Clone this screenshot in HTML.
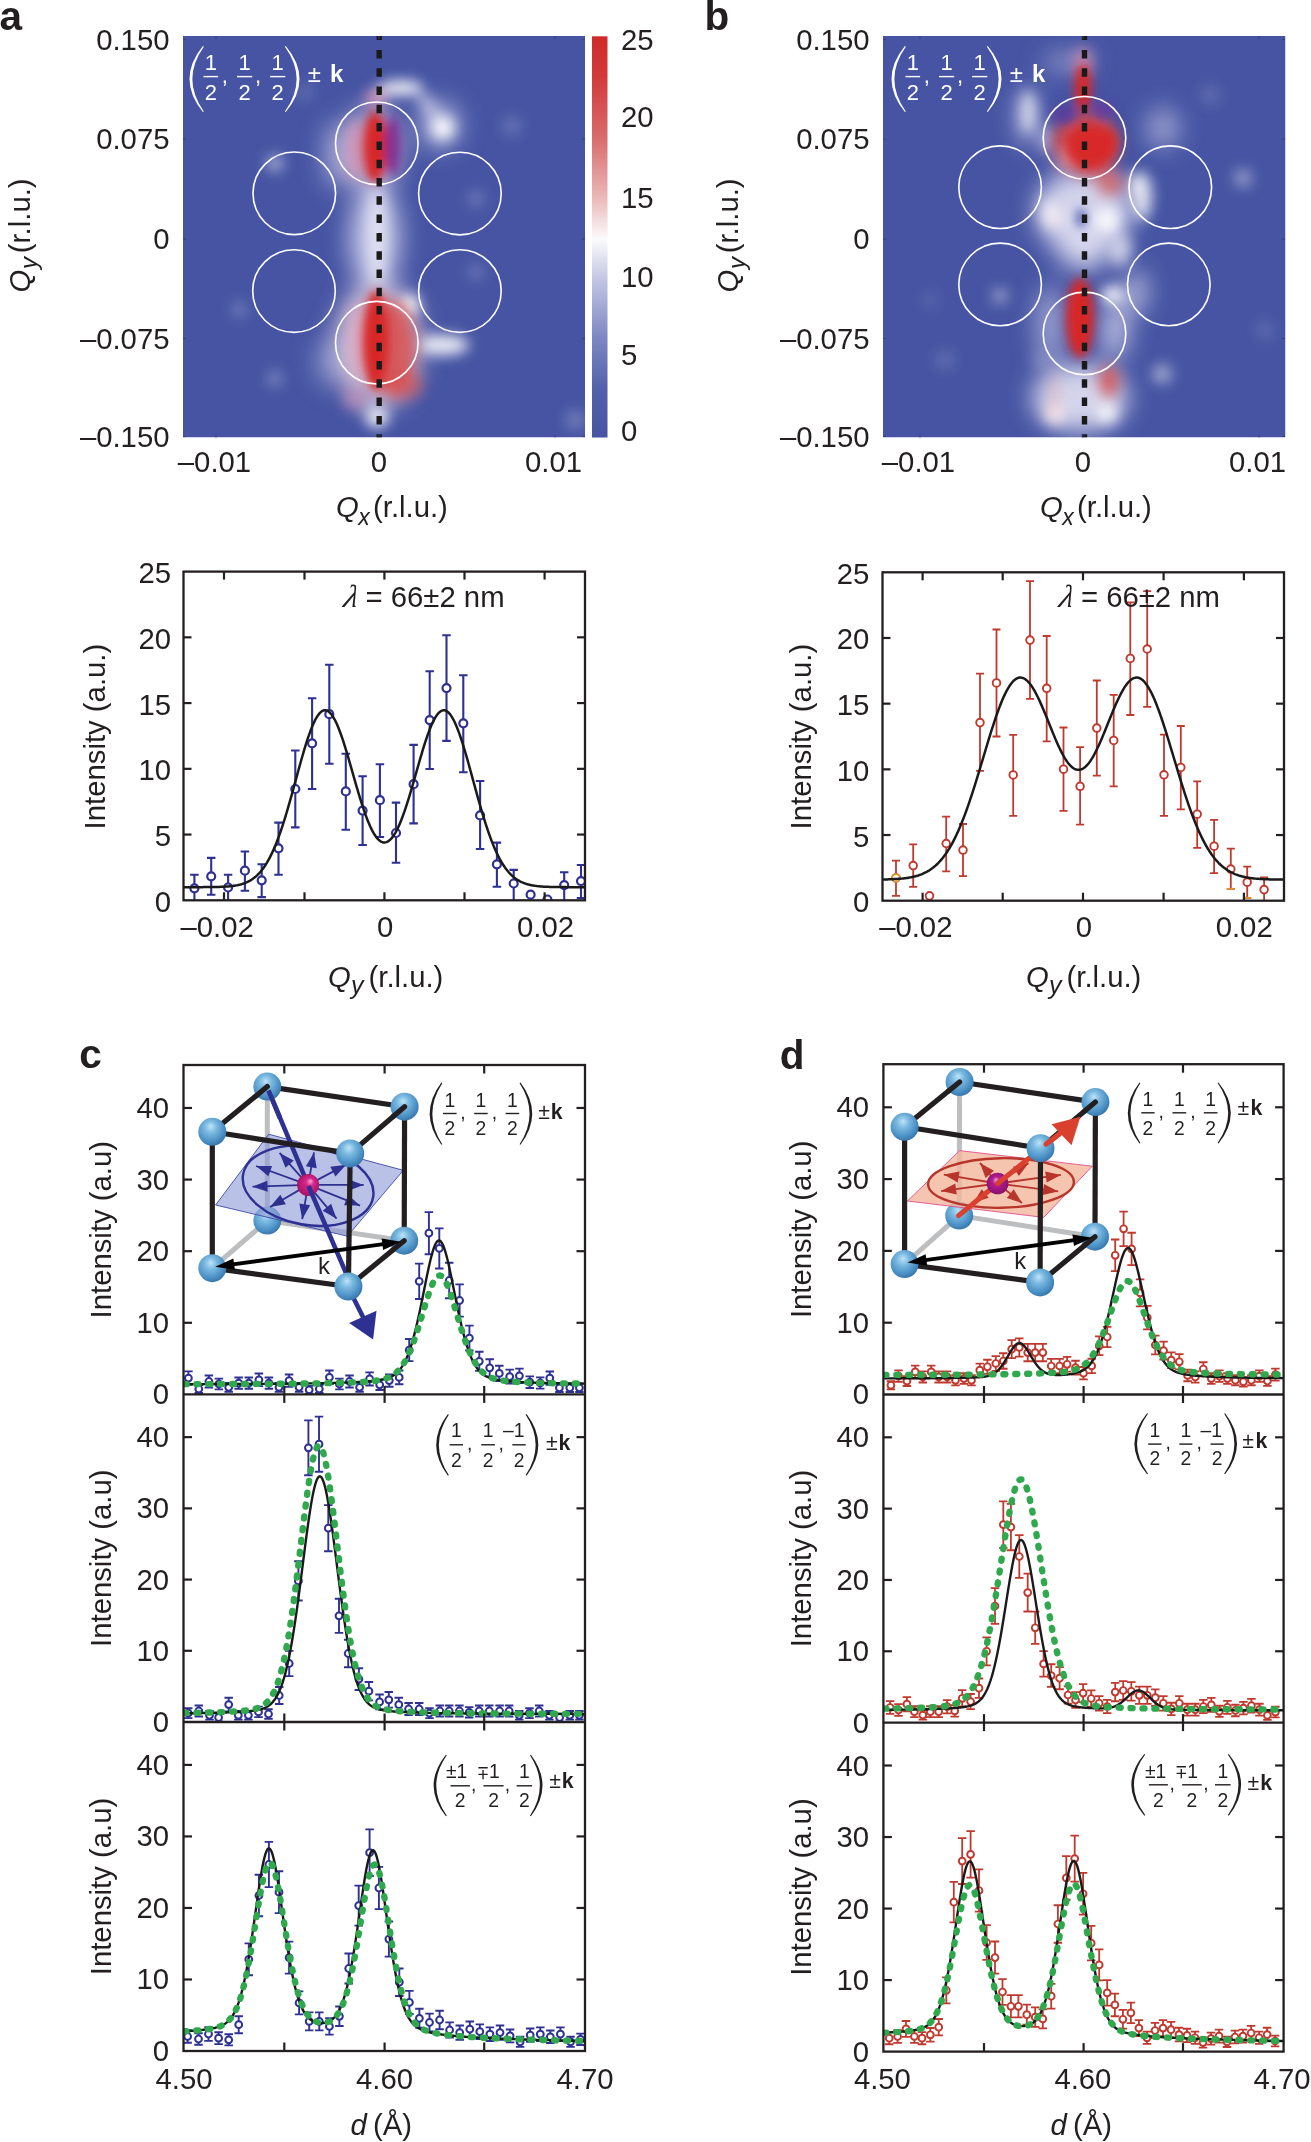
<!DOCTYPE html><html><head><meta charset="utf-8"><title>figure</title><style>html,body{margin:0;padding:0;background:#fff;}svg{display:block;will-change:transform;}</style></head><body>
<svg width="1311" height="2142" viewBox="0 0 1311 2142" font-family='"Liberation Sans", sans-serif'>
<defs>
<clipPath id="clipA"><rect x="183" y="36" width="402" height="401.5"/></clipPath>
<clipPath id="clipB"><rect x="883" y="36" width="402.5" height="401.5"/></clipPath>
<filter id="b5" x="-50%" y="-50%" width="200%" height="200%"><feGaussianBlur stdDeviation="5"/></filter>
<filter id="b6" x="-50%" y="-50%" width="200%" height="200%"><feGaussianBlur stdDeviation="6"/></filter>
<filter id="b8" x="-50%" y="-50%" width="200%" height="200%"><feGaussianBlur stdDeviation="8"/></filter>
<filter id="b9" x="-50%" y="-50%" width="200%" height="200%"><feGaussianBlur stdDeviation="9"/></filter>
<filter id="b3" x="-50%" y="-50%" width="200%" height="200%"><feGaussianBlur stdDeviation="3"/></filter>
<filter id="b4" x="-50%" y="-50%" width="200%" height="200%"><feGaussianBlur stdDeviation="4"/></filter>
<filter id="b7" x="-50%" y="-50%" width="200%" height="200%"><feGaussianBlur stdDeviation="7"/></filter>
<filter id="b12" x="-50%" y="-50%" width="200%" height="200%"><feGaussianBlur stdDeviation="12"/></filter>
<linearGradient id="cbar" x1="0" y1="0" x2="0" y2="1">
<stop offset="0" stop-color="#cf2a2a"/>
<stop offset="0.1" stop-color="#d23a3a"/>
<stop offset="0.25" stop-color="#d86a6a"/>
<stop offset="0.4" stop-color="#ebb6b6"/>
<stop offset="0.505" stop-color="#fbfbfd"/>
<stop offset="0.6" stop-color="#c6c9e4"/>
<stop offset="0.75" stop-color="#7e87c3"/>
<stop offset="0.88" stop-color="#5361ab"/>
<stop offset="1" stop-color="#4654a3"/>
</linearGradient>
<radialGradient id="sph" cx="0.42" cy="0.38" r="0.62" fx="0.45" fy="0.3">
<stop offset="0" stop-color="#bfe3f7"/>
<stop offset="0.35" stop-color="#7ab9e0"/>
<stop offset="0.8" stop-color="#4a8fc4"/>
<stop offset="1" stop-color="#3a78ad"/>
</radialGradient>
<radialGradient id="mag2" cx="0.5" cy="0.5" r="0.6" fx="0.42" fy="0.32">
<stop offset="0" stop-color="#e8a0d8"/>
<stop offset="0.3" stop-color="#b81c92"/>
<stop offset="1" stop-color="#7e0e6a"/>
</radialGradient>
<radialGradient id="mag" cx="0.5" cy="0.5" r="0.6" fx="0.62" fy="0.32">
<stop offset="0" stop-color="#f4a6cf"/>
<stop offset="0.3" stop-color="#d9268a"/>
<stop offset="1" stop-color="#9a0f5c"/>
</radialGradient>
</defs>
<rect width="1311" height="2142" fill="#fff"/>
<text x="-0.4" y="30.3" font-size="40.5" fill="#231f20" font-weight="bold">a</text>
<text x="704.6" y="30.2" font-size="40.5" fill="#231f20" font-weight="bold">b</text>
<text x="79.3" y="1068" font-size="40.5" fill="#231f20" font-weight="bold">c</text>
<text x="779.8" y="1068.6" font-size="40.5" fill="#231f20" font-weight="bold">d</text>
<g clip-path="url(#clipA)">
<rect x="183" y="36" width="402" height="401.5" fill="#4654a3"/>
<g filter="url(#b7)">
<ellipse cx="274.8" cy="163.3" rx="8" ry="8" fill="#ffffff" opacity="0.6"/>
<ellipse cx="239.2" cy="309.4" rx="8" ry="8" fill="#ffffff" opacity="0.25"/>
<ellipse cx="274.8" cy="378.7" rx="8" ry="8" fill="#ffffff" opacity="0.3"/>
<ellipse cx="304.7" cy="92.2" rx="9" ry="9" fill="#ffffff" opacity="0.15"/>
<ellipse cx="511.8" cy="125.9" rx="10" ry="10" fill="#ffffff" opacity="0.18"/>
<ellipse cx="476" cy="199" rx="8" ry="8" fill="#ffffff" opacity="0.25"/>
<ellipse cx="476" cy="272" rx="8" ry="8" fill="#ffffff" opacity="0.22"/>
<ellipse cx="575.4" cy="420" rx="10" ry="10" fill="#ffffff" opacity="0.25"/>
</g>
<g filter="url(#b12)">
<ellipse cx="336" cy="155" rx="12" ry="34" fill="#c4c6e6" opacity="0.7"/>
<ellipse cx="372" cy="150" rx="30" ry="45" fill="#c8c0e0" opacity="0.8"/>
<ellipse cx="375" cy="238" rx="26" ry="54" fill="#c4c6e6" opacity="0.95"/>
<ellipse cx="378" cy="345" rx="44" ry="64" fill="#dccfe2" opacity="0.85"/>
<ellipse cx="330" cy="362" rx="14" ry="24" fill="#b8bce0" opacity="0.6"/>
<ellipse cx="440" cy="125" rx="20" ry="24" fill="#c0c4e4" opacity="0.8"/>
</g>
<g filter="url(#b7)">
<ellipse cx="401" cy="88" rx="22" ry="7" fill="#ffffff"/>
<ellipse cx="428" cy="106" rx="7" ry="15" fill="#d8daf0" opacity="0.7" transform="rotate(-35 428 106)"/>
<ellipse cx="377" cy="236" rx="10" ry="48" fill="#eeeef8" opacity="0.75"/>
<ellipse cx="442.8" cy="128" rx="11" ry="11" fill="#ffffff"/>
<ellipse cx="442.8" cy="128" rx="6" ry="6" fill="#ffffff"/>
<ellipse cx="409" cy="305" rx="10" ry="10" fill="#ffffff"/>
<ellipse cx="409" cy="305" rx="5" ry="5" fill="#ffffff"/>
<ellipse cx="443" cy="345" rx="26" ry="10" fill="#ffffff" opacity="0.9"/>
<ellipse cx="377" cy="416.7" rx="11" ry="11" fill="#ffffff" opacity="0.9"/>
<ellipse cx="356" cy="398" rx="12" ry="12" fill="#c890b8" opacity="0.7"/>
<ellipse cx="376" cy="98" rx="10" ry="9" fill="#f0a0b8" opacity="0.9"/>
</g>
<g filter="url(#b7)">
<ellipse cx="356" cy="150" rx="10" ry="30" fill="#d890b0" opacity="0.8"/>
<ellipse cx="392" cy="348" rx="24" ry="48" fill="#d84c4c" opacity="0.85"/>
<ellipse cx="357" cy="342" rx="10" ry="40" fill="#e0a6bc" opacity="0.8"/>
<ellipse cx="402" cy="385" rx="20" ry="14" fill="#d85050" opacity="0.7"/>
</g>
<g filter="url(#b5)">
<ellipse cx="375" cy="147" rx="12" ry="36" fill="#d82626"/>
<ellipse cx="376" cy="340" rx="13" ry="50" fill="#d82626"/>
<ellipse cx="393" cy="146" rx="8" ry="30" fill="#7c2a8e" opacity="0.9"/>
</g>
<circle cx="376.8" cy="143.3" r="41.3" fill="none" stroke="#fff" stroke-width="1.6"/>
<circle cx="294.3" cy="193.3" r="41.3" fill="none" stroke="#fff" stroke-width="1.6"/>
<circle cx="459.9" cy="193.6" r="41.3" fill="none" stroke="#fff" stroke-width="1.6"/>
<circle cx="294" cy="291.1" r="41.3" fill="none" stroke="#fff" stroke-width="1.6"/>
<circle cx="459.9" cy="291.1" r="41.3" fill="none" stroke="#fff" stroke-width="1.6"/>
<circle cx="376.8" cy="342.7" r="41.3" fill="none" stroke="#fff" stroke-width="1.6"/>
<line x1="379.2" y1="31.6" x2="379.2" y2="437.5" stroke="#1a1a1a" stroke-width="5.4" stroke-dasharray="8.5 9.8" clip-path="url(#clipA)"/>
</g>
<g clip-path="url(#clipB)">
<rect x="883" y="36" width="402.5" height="401.5" fill="#4654a3"/>
<g filter="url(#b7)">
<ellipse cx="1243" cy="178" rx="9" ry="9" fill="#ffffff" opacity="0.45"/>
<ellipse cx="1000" cy="296" rx="8" ry="8" fill="#ffffff" opacity="0.45"/>
<ellipse cx="1162" cy="374" rx="10" ry="10" fill="#ffffff" opacity="0.5"/>
<ellipse cx="945" cy="360" rx="10" ry="10" fill="#ffffff" opacity="0.15"/>
<ellipse cx="1210" cy="95" rx="10" ry="10" fill="#ffffff" opacity="0.15"/>
<ellipse cx="930" cy="300" rx="8" ry="8" fill="#ffffff" opacity="0.12"/>
<ellipse cx="1040" cy="360" rx="9" ry="9" fill="#ffffff" opacity="0.2"/>
<ellipse cx="1265" cy="330" rx="9" ry="9" fill="#ffffff" opacity="0.15"/>
</g>
<g filter="url(#b12)">
<ellipse cx="1027" cy="118" rx="10" ry="30" fill="#c4c6e6" opacity="0.75"/>
<ellipse cx="1068" cy="62" rx="26" ry="8" fill="#c4c6e6" opacity="0.7"/>
<ellipse cx="1163" cy="128" rx="16" ry="20" fill="#c4c6e6" opacity="0.7"/>
<ellipse cx="1084" cy="212" rx="48" ry="44" fill="#dadaf0" opacity="0.95"/>
<ellipse cx="1050" cy="325" rx="14" ry="40" fill="#c4c6e6" opacity="0.7"/>
<ellipse cx="1084" cy="250" rx="26" ry="20" fill="#dcdcf0" opacity="0.9"/>
<ellipse cx="1080" cy="398" rx="48" ry="34" fill="#dcdcf0" opacity="0.95"/>
<ellipse cx="1115" cy="330" rx="14" ry="30" fill="#d8d8f0" opacity="0.8"/>
<ellipse cx="1136" cy="292" rx="10" ry="22" fill="#e8e8f6" opacity="0.8"/>
</g>
<g filter="url(#b7)">
<ellipse cx="1053.5" cy="218.6" rx="10" ry="10" fill="#f4e6ee" opacity="0.9"/>
<ellipse cx="1107" cy="220" rx="12" ry="12" fill="#ffffff" opacity="0.9"/>
<ellipse cx="1113" cy="295" rx="12" ry="9" fill="#ffffff" opacity="0.95"/>
<ellipse cx="1055" cy="414" rx="10" ry="10" fill="#fff0f0" opacity="0.95"/>
<ellipse cx="1107" cy="413" rx="10" ry="10" fill="#ffffff" opacity="0.95"/>
<ellipse cx="1134" cy="185" rx="6" ry="12" fill="#ffffff" opacity="0.8"/>
<ellipse cx="1142" cy="196" rx="10" ry="24" fill="#ffffff" opacity="0.8"/>
<ellipse cx="1050" cy="212" rx="9" ry="14" fill="#f4f0f6" opacity="0.8"/>
<ellipse cx="1120" cy="250" rx="12" ry="16" fill="#f0f0f8" opacity="0.7"/>
<ellipse cx="1028" cy="112" rx="7" ry="22" fill="#eeeef8" opacity="0.85"/>
<ellipse cx="1047" cy="140" rx="8" ry="14" fill="#e8e8f6" opacity="0.6"/>
</g>
<g filter="url(#b4)">
<ellipse cx="1081" cy="218" rx="6" ry="10" fill="#5a66b4" opacity="0.8"/>
</g>
<g filter="url(#b7)">
<ellipse cx="1086" cy="144" rx="34" ry="32" fill="#d84848" opacity="0.9"/>
<ellipse cx="1066" cy="160" rx="10" ry="12" fill="#e09aa8" opacity="0.7"/>
<ellipse cx="1110" cy="183" rx="14" ry="12" fill="#d86060" opacity="0.8"/>
<ellipse cx="1083" cy="62" rx="9" ry="14" fill="#e090b0" opacity="0.8"/>
<ellipse cx="1109" cy="381" rx="10" ry="16" fill="#d85050" opacity="0.85"/>
<ellipse cx="1055" cy="395" rx="2.5" ry="22" fill="#f0a0a0" opacity="0.7"/>
</g>
<g filter="url(#b5)">
<ellipse cx="1083" cy="88" rx="9" ry="24" fill="#d82626" opacity="0.95"/>
<ellipse cx="1090" cy="146" rx="24" ry="22" fill="#d82626" opacity="0.95"/>
<ellipse cx="1108" cy="143" rx="8" ry="13" fill="#d82626" opacity="0.9"/>
<ellipse cx="1080" cy="318" rx="14" ry="40" fill="#d82626"/>
<ellipse cx="1064" cy="114" rx="12" ry="10" fill="#5a3ea0" opacity="0.9"/>
<ellipse cx="1104" cy="110" rx="11" ry="8" fill="#6a38a0" opacity="0.85"/>
</g>
<circle cx="1084.5" cy="137.8" r="41.3" fill="none" stroke="#fff" stroke-width="1.6"/>
<circle cx="1000.1" cy="187.2" r="41.3" fill="none" stroke="#fff" stroke-width="1.6"/>
<circle cx="1170.3" cy="187.2" r="41.3" fill="none" stroke="#fff" stroke-width="1.6"/>
<circle cx="1000.1" cy="284.4" r="41.3" fill="none" stroke="#fff" stroke-width="1.6"/>
<circle cx="1168.8" cy="284.4" r="41.3" fill="none" stroke="#fff" stroke-width="1.6"/>
<circle cx="1084.5" cy="333.4" r="41.3" fill="none" stroke="#fff" stroke-width="1.6"/>
<line x1="1084.5" y1="31.6" x2="1084.5" y2="437.5" stroke="#1a1a1a" stroke-width="5.4" stroke-dasharray="8.5 9.8" clip-path="url(#clipB)"/>
</g>
<rect x="592" y="36.3" width="15.5" height="401.2" fill="url(#cbar)"/>
<text x="169.5" y="50.09" font-size="29.3" fill="#231f20" text-anchor="end">0.150</text>
<text x="169.5" y="149.49" font-size="29.3" fill="#231f20" text-anchor="end">0.075</text>
<text x="169.5" y="249.49" font-size="29.3" fill="#231f20" text-anchor="end">0</text>
<text x="169.5" y="349.09" font-size="29.3" fill="#231f20" text-anchor="end">–0.075</text>
<text x="169.5" y="446.99" font-size="29.3" fill="#231f20" text-anchor="end">–0.150</text>
<text x="214.5" y="472.29" font-size="29.3" fill="#231f20" text-anchor="middle">–0.01</text>
<text x="379" y="472.29" font-size="29.3" fill="#231f20" text-anchor="middle">0</text>
<text x="553.5" y="472.29" font-size="29.3" fill="#231f20" text-anchor="middle">0.01</text>
<text x="336.1" y="517" font-size="29.3" fill="#231f20" font-style="italic">Q</text>
<text x="358.2" y="525" font-size="23" fill="#231f20" font-style="italic">x</text>
<text x="373" y="517" font-size="29.3" fill="#231f20">(r.l.u.)</text>
<g transform="translate(29.8 292.4) rotate(-90)">
<text x="0" y="0" font-size="29.3" fill="#231f20" font-style="italic">Q</text>
<text x="23.4" y="7.5" font-size="24" fill="#231f20" font-style="italic">y</text>
<text x="39.1" y="0" font-size="29.3" fill="#231f20">(r.l.u.)</text>
</g>
<line x1="183" y1="39.6" x2="186" y2="39.6" stroke="#34407e" stroke-width="1"/>
<line x1="585" y1="39.6" x2="582" y2="39.6" stroke="#34407e" stroke-width="1"/>
<line x1="183" y1="139" x2="186" y2="139" stroke="#34407e" stroke-width="1"/>
<line x1="585" y1="139" x2="582" y2="139" stroke="#34407e" stroke-width="1"/>
<line x1="183" y1="239" x2="186" y2="239" stroke="#34407e" stroke-width="1"/>
<line x1="585" y1="239" x2="582" y2="239" stroke="#34407e" stroke-width="1"/>
<line x1="183" y1="338.6" x2="186" y2="338.6" stroke="#34407e" stroke-width="1"/>
<line x1="585" y1="338.6" x2="582" y2="338.6" stroke="#34407e" stroke-width="1"/>
<line x1="183" y1="436.5" x2="186" y2="436.5" stroke="#34407e" stroke-width="1"/>
<line x1="585" y1="436.5" x2="582" y2="436.5" stroke="#34407e" stroke-width="1"/>
<line x1="216" y1="36" x2="216" y2="39" stroke="#34407e" stroke-width="1"/>
<line x1="216" y1="437.5" x2="216" y2="434.5" stroke="#34407e" stroke-width="1"/>
<line x1="379" y1="36" x2="379" y2="39" stroke="#34407e" stroke-width="1"/>
<line x1="379" y1="437.5" x2="379" y2="434.5" stroke="#34407e" stroke-width="1"/>
<line x1="555" y1="36" x2="555" y2="39" stroke="#34407e" stroke-width="1"/>
<line x1="555" y1="437.5" x2="555" y2="434.5" stroke="#34407e" stroke-width="1"/>
<text x="621" y="49.69" font-size="29.3" fill="#231f20">25</text>
<text x="621" y="127.49" font-size="29.3" fill="#231f20">20</text>
<text x="621" y="208.09" font-size="29.3" fill="#231f20">15</text>
<text x="621" y="286.69" font-size="29.3" fill="#231f20">10</text>
<text x="621" y="365.49" font-size="29.3" fill="#231f20">5</text>
<text x="621" y="441.49" font-size="29.3" fill="#231f20">0</text>
<text x="869.5" y="50.09" font-size="29.3" fill="#231f20" text-anchor="end">0.150</text>
<text x="869.5" y="149.49" font-size="29.3" fill="#231f20" text-anchor="end">0.075</text>
<text x="869.5" y="249.49" font-size="29.3" fill="#231f20" text-anchor="end">0</text>
<text x="869.5" y="349.09" font-size="29.3" fill="#231f20" text-anchor="end">–0.075</text>
<text x="869.5" y="446.99" font-size="29.3" fill="#231f20" text-anchor="end">–0.150</text>
<text x="918.5" y="472.29" font-size="29.3" fill="#231f20" text-anchor="middle">–0.01</text>
<text x="1083" y="472.29" font-size="29.3" fill="#231f20" text-anchor="middle">0</text>
<text x="1257.5" y="472.29" font-size="29.3" fill="#231f20" text-anchor="middle">0.01</text>
<text x="1040.1" y="517" font-size="29.3" fill="#231f20" font-style="italic">Q</text>
<text x="1062.2" y="525" font-size="23" fill="#231f20" font-style="italic">x</text>
<text x="1077" y="517" font-size="29.3" fill="#231f20">(r.l.u.)</text>
<g transform="translate(737.8 292.4) rotate(-90)">
<text x="0" y="0" font-size="29.3" fill="#231f20" font-style="italic">Q</text>
<text x="23.4" y="7.5" font-size="24" fill="#231f20" font-style="italic">y</text>
<text x="39.1" y="0" font-size="29.3" fill="#231f20">(r.l.u.)</text>
</g>
<line x1="883" y1="39.6" x2="886" y2="39.6" stroke="#34407e" stroke-width="1"/>
<line x1="1285" y1="39.6" x2="1282" y2="39.6" stroke="#34407e" stroke-width="1"/>
<line x1="883" y1="139" x2="886" y2="139" stroke="#34407e" stroke-width="1"/>
<line x1="1285" y1="139" x2="1282" y2="139" stroke="#34407e" stroke-width="1"/>
<line x1="883" y1="239" x2="886" y2="239" stroke="#34407e" stroke-width="1"/>
<line x1="1285" y1="239" x2="1282" y2="239" stroke="#34407e" stroke-width="1"/>
<line x1="883" y1="338.6" x2="886" y2="338.6" stroke="#34407e" stroke-width="1"/>
<line x1="1285" y1="338.6" x2="1282" y2="338.6" stroke="#34407e" stroke-width="1"/>
<line x1="883" y1="436.5" x2="886" y2="436.5" stroke="#34407e" stroke-width="1"/>
<line x1="1285" y1="436.5" x2="1282" y2="436.5" stroke="#34407e" stroke-width="1"/>
<line x1="920" y1="36" x2="920" y2="39" stroke="#34407e" stroke-width="1"/>
<line x1="920" y1="437.5" x2="920" y2="434.5" stroke="#34407e" stroke-width="1"/>
<line x1="1083" y1="36" x2="1083" y2="39" stroke="#34407e" stroke-width="1"/>
<line x1="1083" y1="437.5" x2="1083" y2="434.5" stroke="#34407e" stroke-width="1"/>
<line x1="1259" y1="36" x2="1259" y2="39" stroke="#34407e" stroke-width="1"/>
<line x1="1259" y1="437.5" x2="1259" y2="434.5" stroke="#34407e" stroke-width="1"/>
<path d="M202.9 46.1 Q176.1 79.1 202.9 112.1 L203.8 111.5 Q180.9 79.1 203.8 46.7 Z" fill="#ffffff"/>
<path d="M285.8 46.1 Q313.2 79.1 285.8 112.1 L284.9 111.5 Q308.4 79.1 284.9 46.7 Z" fill="#ffffff"/>
<rect x="203.5" y="75.9" width="14.6" height="1.4" fill="#ffffff"/>
<text x="210.8" y="69.8" font-size="22" fill="#ffffff" text-anchor="middle">1</text>
<text x="210.8" y="100.1" font-size="22" fill="#ffffff" text-anchor="middle">2</text>
<rect x="237" y="75.9" width="15.2" height="1.4" fill="#ffffff"/>
<text x="244.6" y="69.8" font-size="22" fill="#ffffff" text-anchor="middle">1</text>
<text x="244.6" y="100.1" font-size="22" fill="#ffffff" text-anchor="middle">2</text>
<rect x="270.1" y="75.9" width="15.2" height="1.4" fill="#ffffff"/>
<text x="277.7" y="69.8" font-size="22" fill="#ffffff" text-anchor="middle">1</text>
<text x="277.7" y="100.1" font-size="22" fill="#ffffff" text-anchor="middle">2</text>
<text x="221.7" y="83" font-size="22" fill="#ffffff">,</text>
<text x="254.9" y="83" font-size="22" fill="#ffffff">,</text>
<text x="307.8" y="82" font-size="24" fill="#ffffff">±</text>
<text x="330" y="82" font-size="24" fill="#ffffff" font-weight="bold">k</text>
<path d="M904.9 46.1 Q878.1 79.1 904.9 112.1 L905.8 111.5 Q882.9 79.1 905.8 46.7 Z" fill="#ffffff"/>
<path d="M987.8 46.1 Q1015.2 79.1 987.8 112.1 L986.9 111.5 Q1010.4 79.1 986.9 46.7 Z" fill="#ffffff"/>
<rect x="905.5" y="75.9" width="14.6" height="1.4" fill="#ffffff"/>
<text x="912.8" y="69.8" font-size="22" fill="#ffffff" text-anchor="middle">1</text>
<text x="912.8" y="100.1" font-size="22" fill="#ffffff" text-anchor="middle">2</text>
<rect x="939" y="75.9" width="15.2" height="1.4" fill="#ffffff"/>
<text x="946.6" y="69.8" font-size="22" fill="#ffffff" text-anchor="middle">1</text>
<text x="946.6" y="100.1" font-size="22" fill="#ffffff" text-anchor="middle">2</text>
<rect x="972.1" y="75.9" width="15.2" height="1.4" fill="#ffffff"/>
<text x="979.7" y="69.8" font-size="22" fill="#ffffff" text-anchor="middle">1</text>
<text x="979.7" y="100.1" font-size="22" fill="#ffffff" text-anchor="middle">2</text>
<text x="923.7" y="83" font-size="22" fill="#ffffff">,</text>
<text x="956.9" y="83" font-size="22" fill="#ffffff">,</text>
<text x="1009.8" y="82" font-size="24" fill="#ffffff">±</text>
<text x="1032" y="82" font-size="24" fill="#ffffff" font-weight="bold">k</text>
<clipPath id="clip_a"><rect x="183.5" y="571.6" width="401.5" height="328.7"/></clipPath>
<g clip-path="url(#clip_a)">
<path d="M194.4 874.7 V901 M190.15 874.7 H198.65 M190.15 901 H198.65 M211.2 857.9 V894.7 M206.95 857.9 H215.45 M206.95 894.7 H215.45 M228.1 874.7 V901 M223.85 874.7 H232.35 M223.85 901 H232.35 M244.9 851.5 V890.7 M240.65 851.5 H249.15 M240.65 890.7 H249.15 M261.7 864.3 V897.1 M257.45 864.3 H265.95 M257.45 897.1 H265.95 M278.5 822.6 V874.7 M274.25 822.6 H282.75 M274.25 874.7 H282.75 M295.3 750.5 V827.4 M291.05 750.5 H299.55 M291.05 827.4 H299.55 M312.1 698.2 V789 M307.85 698.2 H316.35 M307.85 789 H316.35 M329.3 664.8 V763.7 M325.05 664.8 H333.55 M325.05 763.7 H333.55 M345.8 753.7 V829.8 M341.55 753.7 H350.05 M341.55 829.8 H350.05 M362.6 776.2 V845 M358.35 776.2 H366.85 M358.35 845 H366.85 M379.9 764.2 V837 M375.65 764.2 H384.15 M375.65 837 H384.15 M396 802.6 V862.7 M391.75 802.6 H400.25 M391.75 862.7 H400.25 M413.6 744.9 V823.4 M409.35 744.9 H417.85 M409.35 823.4 H417.85 M429.7 671.3 V769 M425.45 671.3 H433.95 M425.45 769 H433.95 M446.5 635.2 V740.9 M442.25 635.2 H450.75 M442.25 740.9 H450.75 M463.3 675.3 V772.2 M459.05 675.3 H467.55 M459.05 772.2 H467.55 M480.1 781 V849 M475.85 781 H484.35 M475.85 849 H484.35 M496.9 842.6 V886.7 M492.65 842.6 H501.15 M492.65 886.7 H501.15 M513.7 869.9 V901 M509.45 869.9 H517.95 M509.45 901 H517.95 M564.2 872.3 V901 M559.95 872.3 H568.45 M559.95 901 H568.45 M581 865 V898 M576.75 865 H585.25 M576.75 898 H585.25" fill="none" stroke="#2e3192" stroke-width="2.1"/>
<circle cx="194.4" cy="888.3" r="4" fill="#fff" stroke="#2e3192" stroke-width="2.2"/>
<circle cx="211.2" cy="876.3" r="4" fill="#fff" stroke="#2e3192" stroke-width="2.2"/>
<circle cx="228.1" cy="887.5" r="4" fill="#fff" stroke="#2e3192" stroke-width="2.2"/>
<circle cx="244.9" cy="870.7" r="4" fill="#fff" stroke="#2e3192" stroke-width="2.2"/>
<circle cx="261.7" cy="880.3" r="4" fill="#fff" stroke="#2e3192" stroke-width="2.2"/>
<circle cx="278.5" cy="848.3" r="4" fill="#fff" stroke="#2e3192" stroke-width="2.2"/>
<circle cx="295.3" cy="789" r="4" fill="#fff" stroke="#2e3192" stroke-width="2.2"/>
<circle cx="312.1" cy="743.3" r="4" fill="#fff" stroke="#2e3192" stroke-width="2.2"/>
<circle cx="329.3" cy="714.2" r="4" fill="#fff" stroke="#2e3192" stroke-width="2.2"/>
<circle cx="345.8" cy="791.4" r="4" fill="#fff" stroke="#2e3192" stroke-width="2.2"/>
<circle cx="362.6" cy="810.6" r="4" fill="#fff" stroke="#2e3192" stroke-width="2.2"/>
<circle cx="379.9" cy="800.2" r="4" fill="#fff" stroke="#2e3192" stroke-width="2.2"/>
<circle cx="396" cy="833" r="4" fill="#fff" stroke="#2e3192" stroke-width="2.2"/>
<circle cx="413.6" cy="784.2" r="4" fill="#fff" stroke="#2e3192" stroke-width="2.2"/>
<circle cx="429.7" cy="720.1" r="4" fill="#fff" stroke="#2e3192" stroke-width="2.2"/>
<circle cx="446.5" cy="688.1" r="4" fill="#fff" stroke="#2e3192" stroke-width="2.2"/>
<circle cx="463.3" cy="723.3" r="4" fill="#fff" stroke="#2e3192" stroke-width="2.2"/>
<circle cx="480.1" cy="815.4" r="4" fill="#fff" stroke="#2e3192" stroke-width="2.2"/>
<circle cx="496.9" cy="864.3" r="4" fill="#fff" stroke="#2e3192" stroke-width="2.2"/>
<circle cx="513.7" cy="883.5" r="4" fill="#fff" stroke="#2e3192" stroke-width="2.2"/>
<circle cx="530.6" cy="894.7" r="4" fill="#fff" stroke="#2e3192" stroke-width="2.2"/>
<circle cx="547.4" cy="899.5" r="4" fill="#fff" stroke="#2e3192" stroke-width="2.2"/>
<circle cx="564.2" cy="885.1" r="4" fill="#fff" stroke="#2e3192" stroke-width="2.2"/>
<circle cx="581" cy="881.1" r="4" fill="#fff" stroke="#2e3192" stroke-width="2.2"/>
</g>
<path d="M183.5 887.15 L184.5 887.15 L185.5 887.15 L186.5 887.15 L187.5 887.15 L188.5 887.15 L189.5 887.15 L190.5 887.15 L191.5 887.15 L192.5 887.15 L193.5 887.15 L194.5 887.14 L195.5 887.14 L196.5 887.14 L197.5 887.14 L198.5 887.14 L199.5 887.13 L200.5 887.13 L201.5 887.13 L202.5 887.13 L203.5 887.12 L204.5 887.12 L205.5 887.11 L206.5 887.11 L207.5 887.1 L208.5 887.09 L209.5 887.08 L210.5 887.07 L211.5 887.06 L212.5 887.05 L213.5 887.03 L214.5 887.01 L215.5 887 L216.5 886.97 L217.5 886.95 L218.5 886.92 L219.5 886.89 L220.5 886.86 L221.5 886.82 L222.5 886.78 L223.5 886.73 L224.5 886.68 L225.5 886.62 L226.5 886.55 L227.5 886.48 L228.5 886.4 L229.5 886.31 L230.5 886.21 L231.5 886.1 L232.5 885.98 L233.5 885.85 L234.5 885.7 L235.5 885.54 L236.5 885.36 L237.5 885.17 L238.5 884.95 L239.5 884.72 L240.5 884.47 L241.5 884.19 L242.5 883.88 L243.5 883.55 L244.5 883.2 L245.5 882.81 L246.5 882.39 L247.5 881.93 L248.5 881.44 L249.5 880.9 L250.5 880.33 L251.5 879.71 L252.5 879.04 L253.5 878.33 L254.5 877.56 L255.5 876.74 L256.5 875.87 L257.5 874.93 L258.5 873.93 L259.5 872.86 L260.5 871.73 L261.5 870.53 L262.5 869.26 L263.5 867.91 L264.5 866.48 L265.5 864.97 L266.5 863.38 L267.5 861.71 L268.5 859.95 L269.5 858.1 L270.5 856.17 L271.5 854.14 L272.5 852.03 L273.5 849.82 L274.5 847.52 L275.5 845.12 L276.5 842.64 L277.5 840.06 L278.5 837.39 L279.5 834.63 L280.5 831.78 L281.5 828.85 L282.5 825.84 L283.5 822.74 L284.5 819.57 L285.5 816.32 L286.5 813.01 L287.5 809.63 L288.5 806.19 L289.5 802.7 L290.5 799.16 L291.5 795.58 L292.5 791.96 L293.5 788.32 L294.5 784.66 L295.5 780.99 L296.5 777.32 L297.5 773.65 L298.5 770 L299.5 766.38 L300.5 762.78 L301.5 759.23 L302.5 755.73 L303.5 752.3 L304.5 748.94 L305.5 745.65 L306.5 742.47 L307.5 739.38 L308.5 736.4 L309.5 733.55 L310.5 730.82 L311.5 728.23 L312.5 725.79 L313.5 723.5 L314.5 721.37 L315.5 719.42 L316.5 717.63 L317.5 716.03 L318.5 714.62 L319.5 713.4 L320.5 712.38 L321.5 711.55 L322.5 710.93 L323.5 710.51 L324.5 710.3 L325.5 710.29 L326.5 710.49 L327.5 710.89 L328.5 711.5 L329.5 712.32 L330.5 713.33 L331.5 714.53 L332.5 715.93 L333.5 717.51 L334.5 719.27 L335.5 721.2 L336.5 723.3 L337.5 725.56 L338.5 727.97 L339.5 730.52 L340.5 733.21 L341.5 736.02 L342.5 738.95 L343.5 741.98 L344.5 745.11 L345.5 748.33 L346.5 751.61 L347.5 754.97 L348.5 758.37 L349.5 761.82 L350.5 765.3 L351.5 768.81 L352.5 772.32 L353.5 775.84 L354.5 779.35 L355.5 782.84 L356.5 786.3 L357.5 789.72 L358.5 793.1 L359.5 796.42 L360.5 799.67 L361.5 802.86 L362.5 805.96 L363.5 808.98 L364.5 811.89 L365.5 814.71 L366.5 817.42 L367.5 820.02 L368.5 822.49 L369.5 824.84 L370.5 827.06 L371.5 829.14 L372.5 831.09 L373.5 832.89 L374.5 834.54 L375.5 836.05 L376.5 837.4 L377.5 838.6 L378.5 839.63 L379.5 840.51 L380.5 841.23 L381.5 841.79 L382.5 842.18 L383.5 842.41 L384.5 842.48 L385.5 842.38 L386.5 842.12 L387.5 841.69 L388.5 841.1 L389.5 840.35 L390.5 839.44 L391.5 838.37 L392.5 837.14 L393.5 835.76 L394.5 834.22 L395.5 832.54 L396.5 830.71 L397.5 828.74 L398.5 826.62 L399.5 824.38 L400.5 822.01 L401.5 819.51 L402.5 816.89 L403.5 814.16 L404.5 811.32 L405.5 808.38 L406.5 805.35 L407.5 802.23 L408.5 799.03 L409.5 795.76 L410.5 792.43 L411.5 789.04 L412.5 785.61 L413.5 782.14 L414.5 778.65 L415.5 775.14 L416.5 771.62 L417.5 768.11 L418.5 764.6 L419.5 761.13 L420.5 757.69 L421.5 754.29 L422.5 750.95 L423.5 747.68 L424.5 744.48 L425.5 741.37 L426.5 738.36 L427.5 735.45 L428.5 732.66 L429.5 730 L430.5 727.48 L431.5 725.1 L432.5 722.87 L433.5 720.8 L434.5 718.9 L435.5 717.18 L436.5 715.63 L437.5 714.27 L438.5 713.11 L439.5 712.14 L440.5 711.37 L441.5 710.8 L442.5 710.43 L443.5 710.27 L444.5 710.32 L445.5 710.58 L446.5 711.04 L447.5 711.7 L448.5 712.56 L449.5 713.63 L450.5 714.89 L451.5 716.34 L452.5 717.98 L453.5 719.79 L454.5 721.78 L455.5 723.94 L456.5 726.26 L457.5 728.74 L458.5 731.35 L459.5 734.11 L460.5 736.99 L461.5 739.99 L462.5 743.1 L463.5 746.3 L464.5 749.6 L465.5 752.98 L466.5 756.43 L467.5 759.94 L468.5 763.5 L469.5 767.1 L470.5 770.73 L471.5 774.39 L472.5 778.06 L473.5 781.73 L474.5 785.4 L475.5 789.05 L476.5 792.69 L477.5 796.3 L478.5 799.87 L479.5 803.4 L480.5 806.88 L481.5 810.31 L482.5 813.67 L483.5 816.98 L484.5 820.21 L485.5 823.37 L486.5 826.45 L487.5 829.44 L488.5 832.36 L489.5 835.19 L490.5 837.93 L491.5 840.58 L492.5 843.14 L493.5 845.61 L494.5 847.98 L495.5 850.27 L496.5 852.46 L497.5 854.56 L498.5 856.56 L499.5 858.48 L500.5 860.31 L501.5 862.05 L502.5 863.71 L503.5 865.28 L504.5 866.77 L505.5 868.18 L506.5 869.52 L507.5 870.78 L508.5 871.96 L509.5 873.08 L510.5 874.13 L511.5 875.12 L512.5 876.05 L513.5 876.91 L514.5 877.72 L515.5 878.48 L516.5 879.18 L517.5 879.84 L518.5 880.45 L519.5 881.01 L520.5 881.54 L521.5 882.02 L522.5 882.47 L523.5 882.89 L524.5 883.27 L525.5 883.62 L526.5 883.95 L527.5 884.25 L528.5 884.52 L529.5 884.77 L530.5 885 L531.5 885.21 L532.5 885.4 L533.5 885.57 L534.5 885.73 L535.5 885.88 L536.5 886.01 L537.5 886.12 L538.5 886.23 L539.5 886.33 L540.5 886.42 L541.5 886.5 L542.5 886.57 L543.5 886.63 L544.5 886.69 L545.5 886.74 L546.5 886.79 L547.5 886.83 L548.5 886.87 L549.5 886.9 L550.5 886.93 L551.5 886.96 L552.5 886.98 L553.5 887 L554.5 887.02 L555.5 887.03 L556.5 887.05 L557.5 887.06 L558.5 887.07 L559.5 887.08 L560.5 887.09 L561.5 887.1 L562.5 887.11 L563.5 887.11 L564.5 887.12 L565.5 887.12 L566.5 887.13 L567.5 887.13 L568.5 887.13 L569.5 887.14 L570.5 887.14 L571.5 887.14 L572.5 887.14 L573.5 887.14 L574.5 887.14 L575.5 887.15 L576.5 887.15 L577.5 887.15 L578.5 887.15 L579.5 887.15 L580.5 887.15 L581.5 887.15 L582.5 887.15 L583.5 887.15 L584.5 887.15" fill="none" stroke="#1a1a1a" stroke-width="2.5" stroke-linejoin="round" clip-path="url(#clip_a)"/>
<rect x="183.5" y="571.6" width="401.5" height="328.7" fill="none" stroke="#231f20" stroke-width="2.3"/>
<line x1="183.5" y1="834.56" x2="191.5" y2="834.56" stroke="#231f20" stroke-width="2.2"/>
<line x1="585" y1="834.56" x2="577" y2="834.56" stroke="#231f20" stroke-width="2.2"/>
<line x1="183.5" y1="768.82" x2="191.5" y2="768.82" stroke="#231f20" stroke-width="2.2"/>
<line x1="585" y1="768.82" x2="577" y2="768.82" stroke="#231f20" stroke-width="2.2"/>
<line x1="183.5" y1="703.08" x2="191.5" y2="703.08" stroke="#231f20" stroke-width="2.2"/>
<line x1="585" y1="703.08" x2="577" y2="703.08" stroke="#231f20" stroke-width="2.2"/>
<line x1="183.5" y1="637.34" x2="191.5" y2="637.34" stroke="#231f20" stroke-width="2.2"/>
<line x1="585" y1="637.34" x2="577" y2="637.34" stroke="#231f20" stroke-width="2.2"/>
<line x1="224" y1="900.3" x2="224" y2="892.3" stroke="#231f20" stroke-width="2.2"/>
<line x1="224" y1="571.6" x2="224" y2="579.6" stroke="#231f20" stroke-width="2.2"/>
<line x1="304.5" y1="900.3" x2="304.5" y2="892.3" stroke="#231f20" stroke-width="2.2"/>
<line x1="304.5" y1="571.6" x2="304.5" y2="579.6" stroke="#231f20" stroke-width="2.2"/>
<line x1="384.4" y1="900.3" x2="384.4" y2="892.3" stroke="#231f20" stroke-width="2.2"/>
<line x1="384.4" y1="571.6" x2="384.4" y2="579.6" stroke="#231f20" stroke-width="2.2"/>
<line x1="464.5" y1="900.3" x2="464.5" y2="892.3" stroke="#231f20" stroke-width="2.2"/>
<line x1="464.5" y1="571.6" x2="464.5" y2="579.6" stroke="#231f20" stroke-width="2.2"/>
<line x1="544.6" y1="900.3" x2="544.6" y2="892.3" stroke="#231f20" stroke-width="2.2"/>
<line x1="544.6" y1="571.6" x2="544.6" y2="579.6" stroke="#231f20" stroke-width="2.2"/>
<text x="171" y="583.09" font-size="29.3" fill="#231f20" text-anchor="end">25</text>
<text x="171" y="648.83" font-size="29.3" fill="#231f20" text-anchor="end">20</text>
<text x="171" y="714.57" font-size="29.3" fill="#231f20" text-anchor="end">15</text>
<text x="171" y="780.31" font-size="29.3" fill="#231f20" text-anchor="end">10</text>
<text x="171" y="846.05" font-size="29.3" fill="#231f20" text-anchor="end">5</text>
<text x="171" y="911.79" font-size="29.3" fill="#231f20" text-anchor="end">0</text>
<text x="217.2" y="937.29" font-size="29.3" fill="#231f20" text-anchor="middle">–0.02</text>
<text x="385.2" y="937.29" font-size="29.3" fill="#231f20" text-anchor="middle">0</text>
<text x="545.6" y="937.29" font-size="29.3" fill="#231f20" text-anchor="middle">0.02</text>
<text x="327.9" y="986.8" font-size="29.3" fill="#231f20" font-style="italic">Q</text>
<text x="351" y="994" font-size="25" fill="#231f20" font-style="italic">y</text>
<text x="368.5" y="986.8" font-size="29.3" fill="#231f20">(r.l.u.)</text>
<text transform="translate(104.8 736.6) rotate(-90)" text-anchor="middle" font-size="29.3" fill="#231f20">Intensity (a.u.)</text>
<text transform="translate(342.5 607) skewX(-14)" font-size="32" fill="#231f20" font-family="Liberation Serif" font-style="italic">λ</text>
<text x="365.5" y="607" font-size="29.3" fill="#231f20">= 66±2 nm</text>
<clipPath id="clip_b"><rect x="882.5" y="572.3" width="401.5" height="328.4"/></clipPath>
<g clip-path="url(#clip_b)">
<path d="M896 860.7 V895.8 M892 860.7 H900 M892 895.8 H900 M913.2 844.4 V886.8 M909.2 844.4 H917.2 M909.2 886.8 H917.2 M946.2 816.6 V871.3 M942.2 816.6 H950.2 M942.2 871.3 H950.2 M963 824 V876.2 M959 824 H967 M959 876.2 H967 M980 673.6 V770.8 M976 673.6 H984 M976 770.8 H984 M996.5 629.5 V736.5 M992.5 629.5 H1000.5 M992.5 736.5 H1000.5 M1013.2 734.9 V815.8 M1009.2 734.9 H1017.2 M1009.2 815.8 H1017.2 M1030 581.2 V698.9 M1026 581.2 H1034 M1026 698.9 H1034 M1046.7 636 V741.4 M1042.7 636 H1050.7 M1042.7 741.4 H1050.7 M1063.5 727.5 V810.9 M1059.5 727.5 H1067.5 M1059.5 810.9 H1067.5 M1080.1 747.1 V824.7 M1076.1 747.1 H1084.1 M1076.1 824.7 H1084.1 M1096.8 680.5 V775.6 M1092.8 680.5 H1100.8 M1092.8 775.6 H1100.8 M1113.7 694.8 V786.3 M1109.7 694.8 H1117.7 M1109.7 786.3 H1117.7 M1130.3 602.3 V715 M1126.3 602.3 H1134.3 M1126.3 715 H1134.3 M1147.2 591.2 V706.8 M1143.2 591.2 H1151.2 M1143.2 706.8 H1151.2 M1164 734.6 V815.8 M1160 734.6 H1168 M1160 815.8 H1168 M1180.8 726 V809.3 M1176.8 726 H1184.8 M1176.8 809.3 H1184.8 M1197.2 781.4 V847.8 M1193.2 781.4 H1201.2 M1193.2 847.8 H1201.2 M1214.1 819.9 V873.2 M1210.1 819.9 H1218.1 M1210.1 873.2 H1218.1 M1230.8 848.6 V888.8 M1226.8 848.6 H1234.8 M1226.8 888.8 H1234.8 M1247.2 866.7 V897.8 M1243.2 866.7 H1251.2 M1243.2 897.8 H1251.2 M1264.1 877.3 V901 M1260.1 877.3 H1268.1 M1260.1 901 H1268.1" fill="none" stroke="#c0392e" stroke-width="1.8"/>
<circle cx="896" cy="877.9" r="3.8" fill="#fff" stroke="#c0392e" stroke-width="1.9"/>
<circle cx="913.2" cy="865.6" r="3.8" fill="#fff" stroke="#c0392e" stroke-width="1.9"/>
<circle cx="929.5" cy="895.8" r="3.8" fill="#fff" stroke="#c0392e" stroke-width="1.9"/>
<circle cx="946.2" cy="843.5" r="3.8" fill="#fff" stroke="#c0392e" stroke-width="1.9"/>
<circle cx="963" cy="850.1" r="3.8" fill="#fff" stroke="#c0392e" stroke-width="1.9"/>
<circle cx="980" cy="722.6" r="3.8" fill="#fff" stroke="#c0392e" stroke-width="1.9"/>
<circle cx="996.5" cy="682.9" r="3.8" fill="#fff" stroke="#c0392e" stroke-width="1.9"/>
<circle cx="1013.2" cy="774.9" r="3.8" fill="#fff" stroke="#c0392e" stroke-width="1.9"/>
<circle cx="1030" cy="640.1" r="3.8" fill="#fff" stroke="#c0392e" stroke-width="1.9"/>
<circle cx="1046.7" cy="688.3" r="3.8" fill="#fff" stroke="#c0392e" stroke-width="1.9"/>
<circle cx="1063.5" cy="769.2" r="3.8" fill="#fff" stroke="#c0392e" stroke-width="1.9"/>
<circle cx="1080.1" cy="786.3" r="3.8" fill="#fff" stroke="#c0392e" stroke-width="1.9"/>
<circle cx="1096.8" cy="728.1" r="3.8" fill="#fff" stroke="#c0392e" stroke-width="1.9"/>
<circle cx="1113.7" cy="740.4" r="3.8" fill="#fff" stroke="#c0392e" stroke-width="1.9"/>
<circle cx="1130.3" cy="658.4" r="3.8" fill="#fff" stroke="#c0392e" stroke-width="1.9"/>
<circle cx="1147.2" cy="649" r="3.8" fill="#fff" stroke="#c0392e" stroke-width="1.9"/>
<circle cx="1164" cy="774.8" r="3.8" fill="#fff" stroke="#c0392e" stroke-width="1.9"/>
<circle cx="1180.8" cy="767.4" r="3.8" fill="#fff" stroke="#c0392e" stroke-width="1.9"/>
<circle cx="1197.2" cy="814.2" r="3.8" fill="#fff" stroke="#c0392e" stroke-width="1.9"/>
<circle cx="1214.1" cy="846.2" r="3.8" fill="#fff" stroke="#c0392e" stroke-width="1.9"/>
<circle cx="1230.8" cy="869.1" r="3.8" fill="#fff" stroke="#c0392e" stroke-width="1.9"/>
<circle cx="1247.2" cy="882.2" r="3.8" fill="#fff" stroke="#c0392e" stroke-width="1.9"/>
<circle cx="1264.1" cy="889.6" r="3.8" fill="#fff" stroke="#c0392e" stroke-width="1.9"/>
</g>
<circle cx="896" cy="877.9" r="3.8" fill="#fff" stroke="#e0952c" stroke-width="1.9"/>
<line x1="1226.8" y1="888.8" x2="1234.8" y2="888.8" stroke="#e0952c" stroke-width="1.8"/>
<line x1="1243.2" y1="897.8" x2="1251.2" y2="897.8" stroke="#e0952c" stroke-width="1.8"/>
<path d="M882.5 879.51 L883.5 879.49 L884.5 879.47 L885.5 879.45 L886.5 879.42 L887.5 879.4 L888.5 879.37 L889.5 879.34 L890.5 879.3 L891.5 879.26 L892.5 879.22 L893.5 879.17 L894.5 879.12 L895.5 879.07 L896.5 879.01 L897.5 878.94 L898.5 878.87 L899.5 878.79 L900.5 878.71 L901.5 878.62 L902.5 878.52 L903.5 878.42 L904.5 878.3 L905.5 878.18 L906.5 878.04 L907.5 877.9 L908.5 877.74 L909.5 877.57 L910.5 877.39 L911.5 877.2 L912.5 876.99 L913.5 876.77 L914.5 876.53 L915.5 876.27 L916.5 875.99 L917.5 875.69 L918.5 875.38 L919.5 875.04 L920.5 874.68 L921.5 874.3 L922.5 873.89 L923.5 873.45 L924.5 872.98 L925.5 872.49 L926.5 871.97 L927.5 871.41 L928.5 870.82 L929.5 870.2 L930.5 869.54 L931.5 868.84 L932.5 868.1 L933.5 867.32 L934.5 866.5 L935.5 865.64 L936.5 864.72 L937.5 863.77 L938.5 862.76 L939.5 861.7 L940.5 860.59 L941.5 859.43 L942.5 858.22 L943.5 856.94 L944.5 855.62 L945.5 854.23 L946.5 852.78 L947.5 851.27 L948.5 849.7 L949.5 848.07 L950.5 846.37 L951.5 844.6 L952.5 842.78 L953.5 840.88 L954.5 838.92 L955.5 836.89 L956.5 834.79 L957.5 832.63 L958.5 830.4 L959.5 828.1 L960.5 825.74 L961.5 823.31 L962.5 820.81 L963.5 818.25 L964.5 815.63 L965.5 812.95 L966.5 810.2 L967.5 807.4 L968.5 804.54 L969.5 801.62 L970.5 798.65 L971.5 795.64 L972.5 792.57 L973.5 789.46 L974.5 786.31 L975.5 783.13 L976.5 779.91 L977.5 776.66 L978.5 773.38 L979.5 770.08 L980.5 766.76 L981.5 763.43 L982.5 760.09 L983.5 756.75 L984.5 753.41 L985.5 750.08 L986.5 746.75 L987.5 743.44 L988.5 740.16 L989.5 736.9 L990.5 733.68 L991.5 730.49 L992.5 727.35 L993.5 724.26 L994.5 721.23 L995.5 718.25 L996.5 715.34 L997.5 712.51 L998.5 709.75 L999.5 707.08 L1000.5 704.49 L1001.5 702 L1002.5 699.6 L1003.5 697.31 L1004.5 695.13 L1005.5 693.05 L1006.5 691.1 L1007.5 689.26 L1008.5 687.55 L1009.5 685.96 L1010.5 684.5 L1011.5 683.18 L1012.5 681.99 L1013.5 680.94 L1014.5 680.03 L1015.5 679.26 L1016.5 678.63 L1017.5 678.15 L1018.5 677.8 L1019.5 677.6 L1020.5 677.55 L1021.5 677.64 L1022.5 677.86 L1023.5 678.23 L1024.5 678.74 L1025.5 679.38 L1026.5 680.15 L1027.5 681.06 L1028.5 682.09 L1029.5 683.25 L1030.5 684.53 L1031.5 685.92 L1032.5 687.43 L1033.5 689.04 L1034.5 690.75 L1035.5 692.56 L1036.5 694.47 L1037.5 696.45 L1038.5 698.52 L1039.5 700.65 L1040.5 702.86 L1041.5 705.12 L1042.5 707.43 L1043.5 709.79 L1044.5 712.19 L1045.5 714.63 L1046.5 717.08 L1047.5 719.56 L1048.5 722.04 L1049.5 724.53 L1050.5 727.02 L1051.5 729.49 L1052.5 731.94 L1053.5 734.37 L1054.5 736.77 L1055.5 739.13 L1056.5 741.44 L1057.5 743.7 L1058.5 745.91 L1059.5 748.04 L1060.5 750.11 L1061.5 752.1 L1062.5 754.01 L1063.5 755.83 L1064.5 757.55 L1065.5 759.18 L1066.5 760.71 L1067.5 762.13 L1068.5 763.45 L1069.5 764.64 L1070.5 765.73 L1071.5 766.69 L1072.5 767.52 L1073.5 768.24 L1074.5 768.82 L1075.5 769.28 L1076.5 769.61 L1077.5 769.81 L1078.5 769.87 L1079.5 769.81 L1080.5 769.61 L1081.5 769.28 L1082.5 768.82 L1083.5 768.24 L1084.5 767.52 L1085.5 766.69 L1086.5 765.73 L1087.5 764.64 L1088.5 763.45 L1089.5 762.13 L1090.5 760.71 L1091.5 759.18 L1092.5 757.55 L1093.5 755.83 L1094.5 754.01 L1095.5 752.1 L1096.5 750.11 L1097.5 748.04 L1098.5 745.91 L1099.5 743.7 L1100.5 741.44 L1101.5 739.13 L1102.5 736.77 L1103.5 734.37 L1104.5 731.94 L1105.5 729.49 L1106.5 727.02 L1107.5 724.53 L1108.5 722.04 L1109.5 719.56 L1110.5 717.08 L1111.5 714.63 L1112.5 712.19 L1113.5 709.79 L1114.5 707.43 L1115.5 705.12 L1116.5 702.86 L1117.5 700.65 L1118.5 698.52 L1119.5 696.45 L1120.5 694.47 L1121.5 692.56 L1122.5 690.75 L1123.5 689.04 L1124.5 687.43 L1125.5 685.92 L1126.5 684.53 L1127.5 683.25 L1128.5 682.09 L1129.5 681.06 L1130.5 680.15 L1131.5 679.38 L1132.5 678.74 L1133.5 678.23 L1134.5 677.86 L1135.5 677.64 L1136.5 677.55 L1137.5 677.6 L1138.5 677.8 L1139.5 678.15 L1140.5 678.63 L1141.5 679.26 L1142.5 680.03 L1143.5 680.94 L1144.5 681.99 L1145.5 683.18 L1146.5 684.5 L1147.5 685.96 L1148.5 687.55 L1149.5 689.26 L1150.5 691.1 L1151.5 693.05 L1152.5 695.13 L1153.5 697.31 L1154.5 699.6 L1155.5 702 L1156.5 704.49 L1157.5 707.08 L1158.5 709.75 L1159.5 712.51 L1160.5 715.34 L1161.5 718.25 L1162.5 721.23 L1163.5 724.26 L1164.5 727.35 L1165.5 730.49 L1166.5 733.68 L1167.5 736.9 L1168.5 740.16 L1169.5 743.44 L1170.5 746.75 L1171.5 750.08 L1172.5 753.41 L1173.5 756.75 L1174.5 760.09 L1175.5 763.43 L1176.5 766.76 L1177.5 770.08 L1178.5 773.38 L1179.5 776.66 L1180.5 779.91 L1181.5 783.13 L1182.5 786.31 L1183.5 789.46 L1184.5 792.57 L1185.5 795.64 L1186.5 798.65 L1187.5 801.62 L1188.5 804.54 L1189.5 807.4 L1190.5 810.2 L1191.5 812.95 L1192.5 815.63 L1193.5 818.25 L1194.5 820.81 L1195.5 823.31 L1196.5 825.74 L1197.5 828.1 L1198.5 830.4 L1199.5 832.63 L1200.5 834.79 L1201.5 836.89 L1202.5 838.92 L1203.5 840.88 L1204.5 842.78 L1205.5 844.6 L1206.5 846.37 L1207.5 848.07 L1208.5 849.7 L1209.5 851.27 L1210.5 852.78 L1211.5 854.23 L1212.5 855.62 L1213.5 856.94 L1214.5 858.22 L1215.5 859.43 L1216.5 860.59 L1217.5 861.7 L1218.5 862.76 L1219.5 863.77 L1220.5 864.72 L1221.5 865.64 L1222.5 866.5 L1223.5 867.32 L1224.5 868.1 L1225.5 868.84 L1226.5 869.54 L1227.5 870.2 L1228.5 870.82 L1229.5 871.41 L1230.5 871.97 L1231.5 872.49 L1232.5 872.98 L1233.5 873.45 L1234.5 873.89 L1235.5 874.3 L1236.5 874.68 L1237.5 875.04 L1238.5 875.38 L1239.5 875.69 L1240.5 875.99 L1241.5 876.27 L1242.5 876.53 L1243.5 876.77 L1244.5 876.99 L1245.5 877.2 L1246.5 877.39 L1247.5 877.57 L1248.5 877.74 L1249.5 877.9 L1250.5 878.04 L1251.5 878.18 L1252.5 878.3 L1253.5 878.42 L1254.5 878.52 L1255.5 878.62 L1256.5 878.71 L1257.5 878.79 L1258.5 878.87 L1259.5 878.94 L1260.5 879.01 L1261.5 879.07 L1262.5 879.12 L1263.5 879.17 L1264.5 879.22 L1265.5 879.26 L1266.5 879.3 L1267.5 879.34 L1268.5 879.37 L1269.5 879.4 L1270.5 879.42 L1271.5 879.45 L1272.5 879.47 L1273.5 879.49 L1274.5 879.51 L1275.5 879.53 L1276.5 879.54 L1277.5 879.56 L1278.5 879.57 L1279.5 879.58 L1280.5 879.59 L1281.5 879.6 L1282.5 879.61 L1283.5 879.62" fill="none" stroke="#1a1a1a" stroke-width="2.5" stroke-linejoin="round" clip-path="url(#clip_b)"/>
<rect x="882.5" y="572.3" width="401.5" height="328.4" fill="none" stroke="#231f20" stroke-width="2.3"/>
<line x1="882.5" y1="835.02" x2="890.5" y2="835.02" stroke="#231f20" stroke-width="2.2"/>
<line x1="1284" y1="835.02" x2="1276" y2="835.02" stroke="#231f20" stroke-width="2.2"/>
<line x1="882.5" y1="769.34" x2="890.5" y2="769.34" stroke="#231f20" stroke-width="2.2"/>
<line x1="1284" y1="769.34" x2="1276" y2="769.34" stroke="#231f20" stroke-width="2.2"/>
<line x1="882.5" y1="703.66" x2="890.5" y2="703.66" stroke="#231f20" stroke-width="2.2"/>
<line x1="1284" y1="703.66" x2="1276" y2="703.66" stroke="#231f20" stroke-width="2.2"/>
<line x1="882.5" y1="637.98" x2="890.5" y2="637.98" stroke="#231f20" stroke-width="2.2"/>
<line x1="1284" y1="637.98" x2="1276" y2="637.98" stroke="#231f20" stroke-width="2.2"/>
<line x1="922.6" y1="900.7" x2="922.6" y2="892.7" stroke="#231f20" stroke-width="2.2"/>
<line x1="922.6" y1="572.3" x2="922.6" y2="580.3" stroke="#231f20" stroke-width="2.2"/>
<line x1="1002.7" y1="900.7" x2="1002.7" y2="892.7" stroke="#231f20" stroke-width="2.2"/>
<line x1="1002.7" y1="572.3" x2="1002.7" y2="580.3" stroke="#231f20" stroke-width="2.2"/>
<line x1="1083" y1="900.7" x2="1083" y2="892.7" stroke="#231f20" stroke-width="2.2"/>
<line x1="1083" y1="572.3" x2="1083" y2="580.3" stroke="#231f20" stroke-width="2.2"/>
<line x1="1163.6" y1="900.7" x2="1163.6" y2="892.7" stroke="#231f20" stroke-width="2.2"/>
<line x1="1163.6" y1="572.3" x2="1163.6" y2="580.3" stroke="#231f20" stroke-width="2.2"/>
<line x1="1243.9" y1="900.7" x2="1243.9" y2="892.7" stroke="#231f20" stroke-width="2.2"/>
<line x1="1243.9" y1="572.3" x2="1243.9" y2="580.3" stroke="#231f20" stroke-width="2.2"/>
<text x="869.3" y="583.79" font-size="29.3" fill="#231f20" text-anchor="end">25</text>
<text x="869.3" y="649.47" font-size="29.3" fill="#231f20" text-anchor="end">20</text>
<text x="869.3" y="715.15" font-size="29.3" fill="#231f20" text-anchor="end">15</text>
<text x="869.3" y="780.83" font-size="29.3" fill="#231f20" text-anchor="end">10</text>
<text x="869.3" y="846.51" font-size="29.3" fill="#231f20" text-anchor="end">5</text>
<text x="869.3" y="912.19" font-size="29.3" fill="#231f20" text-anchor="end">0</text>
<text x="915.8" y="937.29" font-size="29.3" fill="#231f20" text-anchor="middle">–0.02</text>
<text x="1083.8" y="937.29" font-size="29.3" fill="#231f20" text-anchor="middle">0</text>
<text x="1244.2" y="937.29" font-size="29.3" fill="#231f20" text-anchor="middle">0.02</text>
<text x="1025.9" y="986.8" font-size="29.3" fill="#231f20" font-style="italic">Q</text>
<text x="1049" y="994" font-size="25" fill="#231f20" font-style="italic">y</text>
<text x="1066.5" y="986.8" font-size="29.3" fill="#231f20">(r.l.u.)</text>
<text transform="translate(810.8 736.6) rotate(-90)" text-anchor="middle" font-size="29.3" fill="#231f20">Intensity (a.u.)</text>
<text transform="translate(1057.9 607) skewX(-14)" font-size="32" fill="#231f20" font-family="Liberation Serif" font-style="italic">λ</text>
<text x="1080.9" y="607" font-size="29.3" fill="#231f20">= 66±2 nm</text>
<clipPath id="clip_c0"><rect x="183.5" y="1065" width="401.5" height="329.4"/></clipPath>
<clipPath id="clip_c1"><rect x="183.5" y="1394.4" width="401.5" height="327.6"/></clipPath>
<clipPath id="clip_c2"><rect x="183.5" y="1722" width="401.5" height="329"/></clipPath>
<line x1="267.3" y1="1086.6" x2="267.3" y2="1220.6" stroke="#bcbec0" stroke-width="5"/>
<line x1="267.3" y1="1220.6" x2="212.3" y2="1268.2" stroke="#bcbec0" stroke-width="5"/>
<line x1="267.3" y1="1220.6" x2="404.2" y2="1240.7" stroke="#bcbec0" stroke-width="5"/>
<circle cx="267.3" cy="1220.6" r="14" fill="url(#sph)"/>
<path d="M268.7 1134.2 L403.3 1170.3 L347.4 1236.2 L215.6 1205 Z" fill="#8f9bd6" fill-opacity="0.62" stroke="#3d4aa6" stroke-width="0.9"/>
<ellipse cx="308.1" cy="1185.8" rx="66" ry="39" fill="none" stroke="#2e3192" stroke-width="2.4" transform="rotate(10 308.1 1185.8)"/>
<line x1="308.1" y1="1184.9" x2="360.06" y2="1205.61" stroke="#2e3192" stroke-width="1.8"/>
<path d="M360.06 1205.61 L344.09 1205.16 L348.16 1194.95 Z" fill="#2e3192"/>
<line x1="308.1" y1="1184.9" x2="336.57" y2="1218.69" stroke="#2e3192" stroke-width="1.8"/>
<path d="M336.57 1218.69 L322.7 1210.77 L331.11 1203.68 Z" fill="#2e3192"/>
<line x1="308.1" y1="1184.9" x2="302.21" y2="1219.21" stroke="#2e3192" stroke-width="1.8"/>
<path d="M302.21 1219.21 L299.33 1203.5 L310.17 1205.36 Z" fill="#2e3192"/>
<line x1="308.1" y1="1184.9" x2="270.1" y2="1206.97" stroke="#2e3192" stroke-width="1.8"/>
<path d="M270.1 1206.97 L280.3 1194.68 L285.83 1204.19 Z" fill="#2e3192"/>
<line x1="308.1" y1="1184.9" x2="252.5" y2="1186.64" stroke="#2e3192" stroke-width="1.8"/>
<path d="M252.5 1186.64 L267.32 1180.68 L267.66 1191.67 Z" fill="#2e3192"/>
<line x1="308.1" y1="1184.9" x2="256.14" y2="1165.99" stroke="#2e3192" stroke-width="1.8"/>
<path d="M256.14 1165.99 L272.12 1165.95 L268.36 1176.29 Z" fill="#2e3192"/>
<line x1="308.1" y1="1184.9" x2="279.63" y2="1152.91" stroke="#2e3192" stroke-width="1.8"/>
<path d="M279.63 1152.91 L293.71 1160.46 L285.49 1167.77 Z" fill="#2e3192"/>
<line x1="308.1" y1="1184.9" x2="313.99" y2="1152.39" stroke="#2e3192" stroke-width="1.8"/>
<path d="M313.99 1152.39 L316.73 1168.13 L305.91 1166.16 Z" fill="#2e3192"/>
<line x1="308.1" y1="1184.9" x2="346.1" y2="1164.63" stroke="#2e3192" stroke-width="1.8"/>
<path d="M346.1 1164.63 L335.46 1176.54 L330.28 1166.83 Z" fill="#2e3192"/>
<line x1="308.1" y1="1184.9" x2="363.7" y2="1184.96" stroke="#2e3192" stroke-width="1.8"/>
<path d="M363.7 1184.96 L348.7 1190.44 L348.71 1179.44 Z" fill="#2e3192"/>
<line x1="270.5" y1="1095.2" x2="308.1" y2="1184.9" stroke="#2e3192" stroke-width="4.6"/>
<circle cx="308.1" cy="1184.9" r="11" fill="url(#mag)"/>
<line x1="308.5" y1="1186" x2="346" y2="1273" stroke="#2e3192" stroke-width="4.6"/>
<line x1="353.5" y1="1298" x2="366" y2="1323" stroke="#2e3192" stroke-width="4.6"/>
<path d="M373.1 1339.6 L349.15 1322.98 L376.5 1310.64 Z" fill="#2e3192"/>
<line x1="267.3" y1="1086.6" x2="404.6" y2="1106.7" stroke="#231f20" stroke-width="5.2"/>
<line x1="267.3" y1="1086.6" x2="212.3" y2="1131.8" stroke="#231f20" stroke-width="5.2"/>
<line x1="404.6" y1="1106.7" x2="350.2" y2="1153.4" stroke="#231f20" stroke-width="5.2"/>
<line x1="212.3" y1="1131.8" x2="350.2" y2="1153.4" stroke="#231f20" stroke-width="5.2"/>
<line x1="212.3" y1="1131.8" x2="212.3" y2="1268.2" stroke="#231f20" stroke-width="5.2"/>
<line x1="350.2" y1="1153.4" x2="348.4" y2="1286.5" stroke="#231f20" stroke-width="5.2"/>
<line x1="404.6" y1="1106.7" x2="404.2" y2="1240.7" stroke="#231f20" stroke-width="5.2"/>
<line x1="212.3" y1="1268.2" x2="348.4" y2="1286.5" stroke="#231f20" stroke-width="5.2"/>
<line x1="348.4" y1="1286.5" x2="404.2" y2="1240.7" stroke="#231f20" stroke-width="5.2"/>
<circle cx="267.3" cy="1086.6" r="14" fill="url(#sph)"/>
<circle cx="404.6" cy="1106.7" r="14" fill="url(#sph)"/>
<circle cx="212.3" cy="1131.8" r="14" fill="url(#sph)"/>
<circle cx="350.2" cy="1153.4" r="14" fill="url(#sph)"/>
<circle cx="404.2" cy="1240.7" r="14" fill="url(#sph)"/>
<circle cx="212.3" cy="1268.2" r="14" fill="url(#sph)"/>
<circle cx="348.4" cy="1286.5" r="14" fill="url(#sph)"/>
<line x1="256.3" y1="1095.64" x2="267.3" y2="1086.6" stroke="#231f20" stroke-width="5.2" stroke-linecap="round"/>
<line x1="393.72" y1="1116.04" x2="404.6" y2="1106.7" stroke="#231f20" stroke-width="5.2" stroke-linecap="round"/>
<line x1="393.04" y1="1249.86" x2="404.2" y2="1240.7" stroke="#231f20" stroke-width="5.2" stroke-linecap="round"/>
<line x1="268.5" y1="1090.5" x2="280" y2="1118" stroke="#2e3192" stroke-width="4.6"/>
<line x1="229.18" y1="1264.83" x2="387.32" y2="1243.57" stroke="#000" stroke-width="3.8"/>
<path d="M401.2 1241.7 L383.14 1249.93 L381.6 1238.53 Z" fill="#000"/>
<path d="M215.3 1266.7 L233.36 1258.47 L234.9 1269.87 Z" fill="#000"/>
<text x="318" y="1273.7" font-size="24" fill="#231f20">k</text>
<g clip-path="url(#clip_c0)">
<path d="M188.4 1371.4 V1384.8 M184.15 1371.4 H192.65 M184.15 1384.8 H192.65 M198.8 1385.06 V1392.94 M194.55 1385.06 H203.05 M194.55 1392.94 H203.05 M208.9 1375.54 V1387.46 M204.65 1375.54 H213.15 M204.65 1387.46 H213.15 M218.9 1378.65 V1389.35 M214.65 1378.65 H223.15 M214.65 1389.35 H223.15 M228.7 1382.88 V1391.72 M224.45 1382.88 H232.95 M224.45 1391.72 H232.95 M238.7 1377.52 V1388.68 M234.45 1377.52 H242.95 M234.45 1388.68 H242.95 M248.8 1377.52 V1388.68 M244.55 1377.52 H253.05 M244.55 1388.68 H253.05 M258.9 1373.46 V1386.14 M254.65 1373.46 H263.15 M254.65 1386.14 H263.15 M268.9 1377.52 V1388.68 M264.65 1377.52 H273.15 M264.65 1388.68 H273.15 M279 1382.88 V1391.72 M274.75 1382.88 H283.25 M274.75 1391.72 H283.25 M289.1 1374.44 V1386.76 M284.85 1374.44 H293.35 M284.85 1386.76 H293.35 M299.1 1382.88 V1391.72 M294.85 1382.88 H303.35 M294.85 1391.72 H303.35 M309.2 1385.86 V1393.74 M304.95 1385.86 H313.45 M304.95 1393.74 H313.45 M319.3 1385.06 V1392.94 M315.05 1385.06 H323.55 M315.05 1392.94 H323.55 M329.4 1370.44 V1384.16 M325.15 1370.44 H333.65 M325.15 1384.16 H333.65 M339.4 1378.65 V1389.35 M335.15 1378.65 H343.65 M335.15 1389.35 H343.65 M349.5 1375.54 V1387.46 M345.25 1375.54 H353.75 M345.25 1387.46 H353.75 M359.6 1382.88 V1391.72 M355.35 1382.88 H363.85 M355.35 1391.72 H363.85 M369.6 1372.37 V1385.43 M365.35 1372.37 H373.85 M365.35 1385.43 H373.85 M379.7 1379.66 V1389.94 M375.45 1379.66 H383.95 M375.45 1389.94 H383.95 M389.3 1374.44 V1386.76 M385.05 1374.44 H393.55 M385.05 1386.76 H393.55 M399.2 1370.56 V1384.24 M394.95 1370.56 H403.45 M394.95 1384.24 H403.45 M409.2 1339.06 V1361.14 M404.95 1339.06 H413.45 M404.95 1361.14 H413.45 M419.2 1263.66 V1298.94 M414.95 1263.66 H423.45 M414.95 1298.94 H423.45 M428.9 1212.14 V1254.26 M424.65 1212.14 H433.15 M424.65 1254.26 H433.15 M439.3 1228.35 V1268.45 M435.05 1228.35 H443.55 M435.05 1268.45 H443.55 M449.2 1262.79 V1298.21 M444.95 1262.79 H453.45 M444.95 1298.21 H453.45 M459.6 1284.42 V1316.58 M455.35 1284.42 H463.85 M455.35 1316.58 H463.85 M469.4 1325.65 V1350.55 M465.15 1325.65 H473.65 M465.15 1350.55 H473.65 M479.3 1351.75 V1370.85 M475.05 1351.75 H483.55 M475.05 1370.85 H483.55 M489.7 1359.24 V1376.36 M485.45 1359.24 H493.95 M485.45 1376.36 H493.95 M499.3 1365.8 V1381 M495.05 1365.8 H503.55 M495.05 1381 H503.55 M509.7 1369.6 V1383.6 M505.45 1369.6 H513.95 M505.45 1383.6 H513.95 M519.4 1368.64 V1382.96 M515.15 1368.64 H523.65 M515.15 1382.96 H523.65 M529.8 1376.4 V1388 M525.55 1376.4 H534.05 M525.55 1388 H534.05 M540.2 1377.4 V1388.6 M535.95 1377.4 H544.45 M535.95 1388.6 H544.45 M549.8 1371.52 V1384.88 M545.55 1371.52 H554.05 M545.55 1384.88 H554.05 M559.4 1383.54 V1392.06 M555.15 1383.54 H563.65 M555.15 1392.06 H563.65 M569.8 1383.54 V1392.06 M565.55 1383.54 H574.05 M565.55 1392.06 H574.05 M579.4 1383.54 V1392.06 M575.15 1383.54 H583.65 M575.15 1392.06 H583.65" fill="none" stroke="#2e3192" stroke-width="1.9"/>
<circle cx="188.4" cy="1378.1" r="3.4" fill="#fff" stroke="#2e3192" stroke-width="2"/>
<circle cx="198.8" cy="1389" r="3.4" fill="#fff" stroke="#2e3192" stroke-width="2"/>
<circle cx="208.9" cy="1381.5" r="3.4" fill="#fff" stroke="#2e3192" stroke-width="2"/>
<circle cx="218.9" cy="1384" r="3.4" fill="#fff" stroke="#2e3192" stroke-width="2"/>
<circle cx="228.7" cy="1387.3" r="3.4" fill="#fff" stroke="#2e3192" stroke-width="2"/>
<circle cx="238.7" cy="1383.1" r="3.4" fill="#fff" stroke="#2e3192" stroke-width="2"/>
<circle cx="248.8" cy="1383.1" r="3.4" fill="#fff" stroke="#2e3192" stroke-width="2"/>
<circle cx="258.9" cy="1379.8" r="3.4" fill="#fff" stroke="#2e3192" stroke-width="2"/>
<circle cx="268.9" cy="1383.1" r="3.4" fill="#fff" stroke="#2e3192" stroke-width="2"/>
<circle cx="279" cy="1387.3" r="3.4" fill="#fff" stroke="#2e3192" stroke-width="2"/>
<circle cx="289.1" cy="1380.6" r="3.4" fill="#fff" stroke="#2e3192" stroke-width="2"/>
<circle cx="299.1" cy="1387.3" r="3.4" fill="#fff" stroke="#2e3192" stroke-width="2"/>
<circle cx="309.2" cy="1389.8" r="3.4" fill="#fff" stroke="#2e3192" stroke-width="2"/>
<circle cx="319.3" cy="1389" r="3.4" fill="#fff" stroke="#2e3192" stroke-width="2"/>
<circle cx="329.4" cy="1377.3" r="3.4" fill="#fff" stroke="#2e3192" stroke-width="2"/>
<circle cx="339.4" cy="1384" r="3.4" fill="#fff" stroke="#2e3192" stroke-width="2"/>
<circle cx="349.5" cy="1381.5" r="3.4" fill="#fff" stroke="#2e3192" stroke-width="2"/>
<circle cx="359.6" cy="1387.3" r="3.4" fill="#fff" stroke="#2e3192" stroke-width="2"/>
<circle cx="369.6" cy="1378.9" r="3.4" fill="#fff" stroke="#2e3192" stroke-width="2"/>
<circle cx="379.7" cy="1384.8" r="3.4" fill="#fff" stroke="#2e3192" stroke-width="2"/>
<circle cx="389.3" cy="1380.6" r="3.4" fill="#fff" stroke="#2e3192" stroke-width="2"/>
<circle cx="399.2" cy="1377.4" r="3.4" fill="#fff" stroke="#2e3192" stroke-width="2"/>
<circle cx="409.2" cy="1350.1" r="3.4" fill="#fff" stroke="#2e3192" stroke-width="2"/>
<circle cx="419.2" cy="1281.3" r="3.4" fill="#fff" stroke="#2e3192" stroke-width="2"/>
<circle cx="428.9" cy="1233.2" r="3.4" fill="#fff" stroke="#2e3192" stroke-width="2"/>
<circle cx="439.3" cy="1248.4" r="3.4" fill="#fff" stroke="#2e3192" stroke-width="2"/>
<circle cx="449.2" cy="1280.5" r="3.4" fill="#fff" stroke="#2e3192" stroke-width="2"/>
<circle cx="459.6" cy="1300.5" r="3.4" fill="#fff" stroke="#2e3192" stroke-width="2"/>
<circle cx="469.4" cy="1338.1" r="3.4" fill="#fff" stroke="#2e3192" stroke-width="2"/>
<circle cx="479.3" cy="1361.3" r="3.4" fill="#fff" stroke="#2e3192" stroke-width="2"/>
<circle cx="489.7" cy="1367.8" r="3.4" fill="#fff" stroke="#2e3192" stroke-width="2"/>
<circle cx="499.3" cy="1373.4" r="3.4" fill="#fff" stroke="#2e3192" stroke-width="2"/>
<circle cx="509.7" cy="1376.6" r="3.4" fill="#fff" stroke="#2e3192" stroke-width="2"/>
<circle cx="519.4" cy="1375.8" r="3.4" fill="#fff" stroke="#2e3192" stroke-width="2"/>
<circle cx="529.8" cy="1382.2" r="3.4" fill="#fff" stroke="#2e3192" stroke-width="2"/>
<circle cx="540.2" cy="1383" r="3.4" fill="#fff" stroke="#2e3192" stroke-width="2"/>
<circle cx="549.8" cy="1378.2" r="3.4" fill="#fff" stroke="#2e3192" stroke-width="2"/>
<circle cx="559.4" cy="1387.8" r="3.4" fill="#fff" stroke="#2e3192" stroke-width="2"/>
<circle cx="569.8" cy="1387.8" r="3.4" fill="#fff" stroke="#2e3192" stroke-width="2"/>
<circle cx="579.4" cy="1387.8" r="3.4" fill="#fff" stroke="#2e3192" stroke-width="2"/>
</g>
<path d="M183.5 1384.12 L184.5 1384.12 L185.5 1384.12 L186.5 1384.12 L187.5 1384.12 L188.5 1384.11 L189.5 1384.11 L190.5 1384.11 L191.5 1384.11 L192.5 1384.11 L193.5 1384.1 L194.5 1384.1 L195.5 1384.1 L196.5 1384.1 L197.5 1384.1 L198.5 1384.09 L199.5 1384.09 L200.5 1384.09 L201.5 1384.09 L202.5 1384.08 L203.5 1384.08 L204.5 1384.08 L205.5 1384.08 L206.5 1384.07 L207.5 1384.07 L208.5 1384.07 L209.5 1384.07 L210.5 1384.06 L211.5 1384.06 L212.5 1384.06 L213.5 1384.05 L214.5 1384.05 L215.5 1384.05 L216.5 1384.05 L217.5 1384.04 L218.5 1384.04 L219.5 1384.04 L220.5 1384.03 L221.5 1384.03 L222.5 1384.03 L223.5 1384.02 L224.5 1384.02 L225.5 1384.02 L226.5 1384.01 L227.5 1384.01 L228.5 1384.01 L229.5 1384 L230.5 1384 L231.5 1384 L232.5 1383.99 L233.5 1383.99 L234.5 1383.99 L235.5 1383.98 L236.5 1383.98 L237.5 1383.97 L238.5 1383.97 L239.5 1383.97 L240.5 1383.96 L241.5 1383.96 L242.5 1383.95 L243.5 1383.95 L244.5 1383.95 L245.5 1383.94 L246.5 1383.94 L247.5 1383.93 L248.5 1383.93 L249.5 1383.92 L250.5 1383.92 L251.5 1383.91 L252.5 1383.91 L253.5 1383.9 L254.5 1383.9 L255.5 1383.89 L256.5 1383.89 L257.5 1383.88 L258.5 1383.88 L259.5 1383.87 L260.5 1383.87 L261.5 1383.86 L262.5 1383.85 L263.5 1383.85 L264.5 1383.84 L265.5 1383.84 L266.5 1383.83 L267.5 1383.82 L268.5 1383.82 L269.5 1383.81 L270.5 1383.8 L271.5 1383.8 L272.5 1383.79 L273.5 1383.78 L274.5 1383.78 L275.5 1383.77 L276.5 1383.76 L277.5 1383.75 L278.5 1383.75 L279.5 1383.74 L280.5 1383.73 L281.5 1383.72 L282.5 1383.71 L283.5 1383.71 L284.5 1383.7 L285.5 1383.69 L286.5 1383.68 L287.5 1383.67 L288.5 1383.66 L289.5 1383.65 L290.5 1383.64 L291.5 1383.63 L292.5 1383.62 L293.5 1383.61 L294.5 1383.6 L295.5 1383.59 L296.5 1383.58 L297.5 1383.57 L298.5 1383.56 L299.5 1383.55 L300.5 1383.54 L301.5 1383.52 L302.5 1383.51 L303.5 1383.5 L304.5 1383.49 L305.5 1383.47 L306.5 1383.46 L307.5 1383.45 L308.5 1383.43 L309.5 1383.42 L310.5 1383.4 L311.5 1383.39 L312.5 1383.37 L313.5 1383.36 L314.5 1383.34 L315.5 1383.32 L316.5 1383.31 L317.5 1383.29 L318.5 1383.27 L319.5 1383.25 L320.5 1383.24 L321.5 1383.22 L322.5 1383.2 L323.5 1383.18 L324.5 1383.16 L325.5 1383.14 L326.5 1383.12 L327.5 1383.09 L328.5 1383.07 L329.5 1383.05 L330.5 1383.02 L331.5 1383 L332.5 1382.97 L333.5 1382.95 L334.5 1382.92 L335.5 1382.89 L336.5 1382.87 L337.5 1382.84 L338.5 1382.81 L339.5 1382.78 L340.5 1382.75 L341.5 1382.71 L342.5 1382.68 L343.5 1382.65 L344.5 1382.61 L345.5 1382.57 L346.5 1382.54 L347.5 1382.5 L348.5 1382.46 L349.5 1382.42 L350.5 1382.38 L351.5 1382.33 L352.5 1382.29 L353.5 1382.24 L354.5 1382.19 L355.5 1382.14 L356.5 1382.09 L357.5 1382.04 L358.5 1381.98 L359.5 1381.92 L360.5 1381.86 L361.5 1381.8 L362.5 1381.74 L363.5 1381.67 L364.5 1381.6 L365.5 1381.53 L366.5 1381.45 L367.5 1381.38 L368.5 1381.29 L369.5 1381.21 L370.5 1381.12 L371.5 1381.02 L372.5 1380.92 L373.5 1380.82 L374.5 1380.71 L375.5 1380.59 L376.5 1380.46 L377.5 1380.33 L378.5 1380.18 L379.5 1380.03 L380.5 1379.86 L381.5 1379.68 L382.5 1379.48 L383.5 1379.26 L384.5 1379.03 L385.5 1378.76 L386.5 1378.48 L387.5 1378.16 L388.5 1377.81 L389.5 1377.42 L390.5 1376.98 L391.5 1376.5 L392.5 1375.96 L393.5 1375.36 L394.5 1374.69 L395.5 1373.95 L396.5 1373.12 L397.5 1372.2 L398.5 1371.18 L399.5 1370.05 L400.5 1368.8 L401.5 1367.42 L402.5 1365.9 L403.5 1364.24 L404.5 1362.41 L405.5 1360.42 L406.5 1358.25 L407.5 1355.9 L408.5 1353.36 L409.5 1350.62 L410.5 1347.69 L411.5 1344.54 L412.5 1341.2 L413.5 1337.65 L414.5 1333.9 L415.5 1329.95 L416.5 1325.81 L417.5 1321.5 L418.5 1317.03 L419.5 1312.41 L420.5 1307.66 L421.5 1302.81 L422.5 1297.87 L423.5 1292.89 L424.5 1287.89 L425.5 1282.91 L426.5 1277.99 L427.5 1273.17 L428.5 1268.49 L429.5 1264.01 L430.5 1259.77 L431.5 1255.82 L432.5 1252.23 L433.5 1249.03 L434.5 1246.28 L435.5 1244.01 L436.5 1242.28 L437.5 1241.11 L438.5 1240.52 L439.5 1240.52 L440.5 1241.11 L441.5 1242.28 L442.5 1244.01 L443.5 1246.28 L444.5 1249.03 L445.5 1252.23 L446.5 1255.82 L447.5 1259.77 L448.5 1264.01 L449.5 1268.49 L450.5 1273.17 L451.5 1277.99 L452.5 1282.91 L453.5 1287.89 L454.5 1292.89 L455.5 1297.87 L456.5 1302.81 L457.5 1307.66 L458.5 1312.41 L459.5 1317.03 L460.5 1321.5 L461.5 1325.81 L462.5 1329.95 L463.5 1333.9 L464.5 1337.65 L465.5 1341.2 L466.5 1344.54 L467.5 1347.69 L468.5 1350.62 L469.5 1353.36 L470.5 1355.9 L471.5 1358.25 L472.5 1360.42 L473.5 1362.41 L474.5 1364.24 L475.5 1365.9 L476.5 1367.42 L477.5 1368.8 L478.5 1370.05 L479.5 1371.18 L480.5 1372.2 L481.5 1373.12 L482.5 1373.95 L483.5 1374.69 L484.5 1375.36 L485.5 1375.96 L486.5 1376.5 L487.5 1376.98 L488.5 1377.42 L489.5 1377.81 L490.5 1378.16 L491.5 1378.48 L492.5 1378.76 L493.5 1379.03 L494.5 1379.26 L495.5 1379.48 L496.5 1379.68 L497.5 1379.86 L498.5 1380.03 L499.5 1380.18 L500.5 1380.33 L501.5 1380.46 L502.5 1380.59 L503.5 1380.71 L504.5 1380.82 L505.5 1380.92 L506.5 1381.02 L507.5 1381.12 L508.5 1381.21 L509.5 1381.29 L510.5 1381.38 L511.5 1381.45 L512.5 1381.53 L513.5 1381.6 L514.5 1381.67 L515.5 1381.74 L516.5 1381.8 L517.5 1381.86 L518.5 1381.92 L519.5 1381.98 L520.5 1382.04 L521.5 1382.09 L522.5 1382.14 L523.5 1382.19 L524.5 1382.24 L525.5 1382.29 L526.5 1382.33 L527.5 1382.38 L528.5 1382.42 L529.5 1382.46 L530.5 1382.5 L531.5 1382.54 L532.5 1382.57 L533.5 1382.61 L534.5 1382.65 L535.5 1382.68 L536.5 1382.71 L537.5 1382.75 L538.5 1382.78 L539.5 1382.81 L540.5 1382.84 L541.5 1382.87 L542.5 1382.89 L543.5 1382.92 L544.5 1382.95 L545.5 1382.97 L546.5 1383 L547.5 1383.02 L548.5 1383.05 L549.5 1383.07 L550.5 1383.09 L551.5 1383.12 L552.5 1383.14 L553.5 1383.16 L554.5 1383.18 L555.5 1383.2 L556.5 1383.22 L557.5 1383.24 L558.5 1383.25 L559.5 1383.27 L560.5 1383.29 L561.5 1383.31 L562.5 1383.32 L563.5 1383.34 L564.5 1383.36 L565.5 1383.37 L566.5 1383.39 L567.5 1383.4 L568.5 1383.42 L569.5 1383.43 L570.5 1383.45 L571.5 1383.46 L572.5 1383.47 L573.5 1383.49 L574.5 1383.5 L575.5 1383.51 L576.5 1383.52 L577.5 1383.54 L578.5 1383.55 L579.5 1383.56 L580.5 1383.57 L581.5 1383.58 L582.5 1383.59 L583.5 1383.6 L584.5 1383.61" fill="none" stroke="#1a1a1a" stroke-width="2.4" stroke-linejoin="round" clip-path="url(#clip_c0)"/>
<path d="M184.5 1384.13 L185.5 1384.13 L186.5 1384.13 L187.5 1384.13 L188.5 1384.13 L189.5 1384.12 L190.5 1384.12 L191.5 1384.12 L192.5 1384.12 L193.5 1384.12 L194.5 1384.11 L195.5 1384.11 L196.5 1384.11 L197.5 1384.11 L198.5 1384.11 L199.5 1384.1 L200.5 1384.1 L201.5 1384.1 L202.5 1384.1 L203.5 1384.09 L204.5 1384.09 L205.5 1384.09 L206.5 1384.09 L207.5 1384.08 L208.5 1384.08 L209.5 1384.08 L210.5 1384.08 L211.5 1384.07 L212.5 1384.07 L213.5 1384.07 L214.5 1384.07 L215.5 1384.06 L216.5 1384.06 L217.5 1384.06 L218.5 1384.05 L219.5 1384.05 L220.5 1384.05 L221.5 1384.05 L222.5 1384.04 L223.5 1384.04 L224.5 1384.04 L225.5 1384.03 L226.5 1384.03 L227.5 1384.03 L228.5 1384.02 L229.5 1384.02 L230.5 1384.02 L231.5 1384.01 L232.5 1384.01 L233.5 1384.01 L234.5 1384 L235.5 1384 L236.5 1384 L237.5 1383.99 L238.5 1383.99 L239.5 1383.98 L240.5 1383.98 L241.5 1383.98 L242.5 1383.97 L243.5 1383.97 L244.5 1383.96 L245.5 1383.96 L246.5 1383.96 L247.5 1383.95 L248.5 1383.95 L249.5 1383.94 L250.5 1383.94 L251.5 1383.93 L252.5 1383.93 L253.5 1383.92 L254.5 1383.92 L255.5 1383.92 L256.5 1383.91 L257.5 1383.91 L258.5 1383.9 L259.5 1383.89 L260.5 1383.89 L261.5 1383.88 L262.5 1383.88 L263.5 1383.87 L264.5 1383.87 L265.5 1383.86 L266.5 1383.86 L267.5 1383.85 L268.5 1383.84 L269.5 1383.84 L270.5 1383.83 L271.5 1383.82 L272.5 1383.82 L273.5 1383.81 L274.5 1383.81 L275.5 1383.8 L276.5 1383.79 L277.5 1383.78 L278.5 1383.78 L279.5 1383.77 L280.5 1383.76 L281.5 1383.75 L282.5 1383.75 L283.5 1383.74 L284.5 1383.73 L285.5 1383.72 L286.5 1383.71 L287.5 1383.71 L288.5 1383.7 L289.5 1383.69 L290.5 1383.68 L291.5 1383.67 L292.5 1383.66 L293.5 1383.65 L294.5 1383.64 L295.5 1383.63 L296.5 1383.62 L297.5 1383.61 L298.5 1383.6 L299.5 1383.59 L300.5 1383.58 L301.5 1383.57 L302.5 1383.56 L303.5 1383.54 L304.5 1383.53 L305.5 1383.52 L306.5 1383.51 L307.5 1383.49 L308.5 1383.48 L309.5 1383.47 L310.5 1383.45 L311.5 1383.44 L312.5 1383.42 L313.5 1383.41 L314.5 1383.4 L315.5 1383.38 L316.5 1383.36 L317.5 1383.35 L318.5 1383.33 L319.5 1383.31 L320.5 1383.3 L321.5 1383.28 L322.5 1383.26 L323.5 1383.24 L324.5 1383.22 L325.5 1383.2 L326.5 1383.18 L327.5 1383.16 L328.5 1383.14 L329.5 1383.12 L330.5 1383.1 L331.5 1383.08 L332.5 1383.05 L333.5 1383.03 L334.5 1383 L335.5 1382.98 L336.5 1382.95 L337.5 1382.93 L338.5 1382.9 L339.5 1382.87 L340.5 1382.84 L341.5 1382.81 L342.5 1382.78 L343.5 1382.75 L344.5 1382.72 L345.5 1382.68 L346.5 1382.65 L347.5 1382.61 L348.5 1382.57 L349.5 1382.54 L350.5 1382.5 L351.5 1382.46 L352.5 1382.42 L353.5 1382.37 L354.5 1382.33 L355.5 1382.28 L356.5 1382.23 L357.5 1382.18 L358.5 1382.13 L359.5 1382.08 L360.5 1382.02 L361.5 1381.96 L362.5 1381.9 L363.5 1381.84 L364.5 1381.77 L365.5 1381.7 L366.5 1381.63 L367.5 1381.55 L368.5 1381.47 L369.5 1381.38 L370.5 1381.29 L371.5 1381.19 L372.5 1381.08 L373.5 1380.97 L374.5 1380.85 L375.5 1380.72 L376.5 1380.58 L377.5 1380.43 L378.5 1380.26 L379.5 1380.08 L380.5 1379.89 L381.5 1379.67 L382.5 1379.44 L383.5 1379.18 L384.5 1378.9 L385.5 1378.59 L386.5 1378.25 L387.5 1377.87 L388.5 1377.46 L389.5 1377 L390.5 1376.5 L391.5 1375.95 L392.5 1375.35 L393.5 1374.69 L394.5 1373.96 L395.5 1373.17 L396.5 1372.3 L397.5 1371.35 L398.5 1370.32 L399.5 1369.2 L400.5 1367.99 L401.5 1366.68 L402.5 1365.27 L403.5 1363.75 L404.5 1362.11 L405.5 1360.37 L406.5 1358.5 L407.5 1356.52 L408.5 1354.41 L409.5 1352.19 L410.5 1349.84 L411.5 1347.37 L412.5 1344.79 L413.5 1342.09 L414.5 1339.28 L415.5 1336.37 L416.5 1333.36 L417.5 1330.27 L418.5 1327.09 L419.5 1323.86 L420.5 1320.57 L421.5 1317.24 L422.5 1313.9 L423.5 1310.55 L424.5 1307.21 L425.5 1303.92 L426.5 1300.68 L427.5 1297.53 L428.5 1294.48 L429.5 1291.57 L430.5 1288.82 L431.5 1286.26 L432.5 1283.92 L433.5 1281.81 L434.5 1279.98 L435.5 1278.44 L436.5 1277.21 L437.5 1276.3 L438.5 1275.74 L439.5 1275.53 L440.5 1275.67 L441.5 1276.16 L442.5 1277 L443.5 1278.17 L444.5 1279.65 L445.5 1281.43 L446.5 1283.48 L447.5 1285.77 L448.5 1288.29 L449.5 1291.01 L450.5 1293.89 L451.5 1296.91 L452.5 1300.04 L453.5 1303.26 L454.5 1306.55 L455.5 1309.88 L456.5 1313.23 L457.5 1316.57 L458.5 1319.91 L459.5 1323.2 L460.5 1326.45 L461.5 1329.64 L462.5 1332.75 L463.5 1335.77 L464.5 1338.71 L465.5 1341.54 L466.5 1344.26 L467.5 1346.87 L468.5 1349.36 L469.5 1351.73 L470.5 1353.98 L471.5 1356.11 L472.5 1358.12 L473.5 1360 L474.5 1361.77 L475.5 1363.43 L476.5 1364.97 L477.5 1366.41 L478.5 1367.74 L479.5 1368.97 L480.5 1370.11 L481.5 1371.15 L482.5 1372.11 L483.5 1373 L484.5 1373.81 L485.5 1374.55 L486.5 1375.22 L487.5 1375.84 L488.5 1376.4 L489.5 1376.91 L490.5 1377.37 L491.5 1377.79 L492.5 1378.18 L493.5 1378.52 L494.5 1378.84 L495.5 1379.13 L496.5 1379.39 L497.5 1379.63 L498.5 1379.85 L499.5 1380.05 L500.5 1380.23 L501.5 1380.4 L502.5 1380.55 L503.5 1380.69 L504.5 1380.83 L505.5 1380.95 L506.5 1381.06 L507.5 1381.17 L508.5 1381.27 L509.5 1381.36 L510.5 1381.45 L511.5 1381.53 L512.5 1381.61 L513.5 1381.69 L514.5 1381.76 L515.5 1381.82 L516.5 1381.89 L517.5 1381.95 L518.5 1382.01 L519.5 1382.07 L520.5 1382.12 L521.5 1382.17 L522.5 1382.22 L523.5 1382.27 L524.5 1382.32 L525.5 1382.36 L526.5 1382.41 L527.5 1382.45 L528.5 1382.49 L529.5 1382.53 L530.5 1382.57 L531.5 1382.6 L532.5 1382.64 L533.5 1382.68 L534.5 1382.71 L535.5 1382.74 L536.5 1382.77 L537.5 1382.81 L538.5 1382.84 L539.5 1382.86 L540.5 1382.89 L541.5 1382.92 L542.5 1382.95 L543.5 1382.97 L544.5 1383 L545.5 1383.02 L546.5 1383.05 L547.5 1383.07 L548.5 1383.09 L549.5 1383.12 L550.5 1383.14 L551.5 1383.16 L552.5 1383.18 L553.5 1383.2 L554.5 1383.22 L555.5 1383.24 L556.5 1383.26 L557.5 1383.28 L558.5 1383.29 L559.5 1383.31 L560.5 1383.33 L561.5 1383.34 L562.5 1383.36 L563.5 1383.38 L564.5 1383.39 L565.5 1383.41 L566.5 1383.42 L567.5 1383.44 L568.5 1383.45 L569.5 1383.46 L570.5 1383.48 L571.5 1383.49 L572.5 1383.5 L573.5 1383.52 L574.5 1383.53 L575.5 1383.54 L576.5 1383.55 L577.5 1383.56 L578.5 1383.58 L579.5 1383.59 L580.5 1383.6 L581.5 1383.61 L582.5 1383.62 L583.5 1383.63" fill="none" stroke="#30a84e" stroke-width="6.4" stroke-linejoin="round" stroke-dasharray="2 9.9" stroke-linecap="round" clip-path="url(#clip_c0)"/>
<g clip-path="url(#clip_c1)">
<path d="M188.2 1708.29 V1718.11 M183.95 1708.29 H192.45 M183.95 1718.11 H192.45 M198.8 1705.51 V1716.49 M194.55 1705.51 H203.05 M194.55 1716.49 H203.05 M209.5 1711.02 V1719.58 M205.25 1711.02 H213.75 M205.25 1719.58 H213.75 M218.6 1713.58 V1721.42 M214.35 1713.58 H222.85 M214.35 1721.42 H222.85 M228.7 1697.7 V1711.5 M224.45 1697.7 H232.95 M224.45 1711.5 H232.95 M238.3 1711.02 V1719.58 M234.05 1711.02 H242.55 M234.05 1719.58 H242.55 M248.4 1711.02 V1719.58 M244.15 1711.02 H252.65 M244.15 1719.58 H252.65 M258.5 1706.64 V1717.16 M254.25 1706.64 H262.75 M254.25 1717.16 H262.75 M268.5 1709.32 V1718.68 M264.25 1709.32 H272.75 M264.25 1718.68 H272.75 M279.2 1686.98 V1704.02 M274.95 1686.98 H283.45 M274.95 1704.02 H283.45 M289.2 1650.84 V1676.16 M284.95 1650.84 H293.45 M284.95 1676.16 H293.45 M298.4 1561.25 V1600.55 M294.15 1561.25 H302.65 M294.15 1600.55 H302.65 M308.4 1420.4 V1475.2 M304.15 1420.4 H312.65 M304.15 1475.2 H312.65 M319 1416.62 V1471.78 M314.75 1416.62 H323.25 M314.75 1471.78 H323.25 M328.3 1505.17 V1551.23 M324.05 1505.17 H332.55 M324.05 1551.23 H332.55 M339 1598.75 V1632.85 M334.75 1598.75 H343.25 M334.75 1632.85 H343.25 M348.2 1639.81 V1667.19 M343.95 1639.81 H352.45 M343.95 1667.19 H352.45 M358.9 1668.26 V1689.94 M354.65 1668.26 H363.15 M354.65 1689.94 H363.15 M368.9 1682.02 V1700.38 M364.65 1682.02 H373.15 M364.65 1700.38 H373.15 M379.6 1694.48 V1709.32 M375.35 1694.48 H383.85 M375.35 1709.32 H383.85 M388.8 1692 V1707.6 M384.55 1692 H393.05 M384.55 1707.6 H393.05 M398.8 1697.82 V1711.58 M394.55 1697.82 H403.05 M394.55 1711.58 H403.05 M408.6 1703.03 V1714.97 M404.35 1703.03 H412.85 M404.35 1714.97 H412.85 M419.2 1703.03 V1714.97 M414.95 1703.03 H423.45 M414.95 1714.97 H423.45 M429.5 1708.29 V1718.11 M425.25 1708.29 H433.75 M425.25 1718.11 H433.75 M439.8 1705.51 V1716.49 M435.55 1705.51 H444.05 M435.55 1716.49 H444.05 M449.2 1705.51 V1716.49 M444.95 1705.51 H453.45 M444.95 1716.49 H453.45 M459.4 1705.51 V1716.49 M455.15 1705.51 H463.65 M455.15 1716.49 H463.65 M469.2 1707.15 V1717.45 M464.95 1707.15 H473.45 M464.95 1717.45 H473.45 M479.2 1705.51 V1716.49 M474.95 1705.51 H483.45 M474.95 1716.49 H483.45 M489.3 1705.51 V1716.49 M485.05 1705.51 H493.55 M485.05 1716.49 H493.55 M499.6 1705.51 V1716.49 M495.35 1705.51 H503.85 M495.35 1716.49 H503.85 M509.2 1705.51 V1716.49 M504.95 1705.51 H513.45 M504.95 1716.49 H513.45 M519.2 1711.02 V1719.58 M514.95 1711.02 H523.45 M514.95 1719.58 H523.45 M529.5 1708.29 V1718.11 M525.25 1708.29 H533.75 M525.25 1718.11 H533.75 M539.2 1705.51 V1716.49 M534.95 1705.51 H543.45 M534.95 1716.49 H543.45 M549.4 1711.02 V1719.58 M545.15 1711.02 H553.65 M545.15 1719.58 H553.65 M559.6 1713.58 V1721.42 M555.35 1713.58 H563.85 M555.35 1721.42 H563.85 M569.8 1711.02 V1719.58 M565.55 1711.02 H574.05 M565.55 1719.58 H574.05 M579.4 1711.02 V1719.58 M575.15 1711.02 H583.65 M575.15 1719.58 H583.65" fill="none" stroke="#2e3192" stroke-width="1.9"/>
<circle cx="188.2" cy="1713.2" r="3.4" fill="#fff" stroke="#2e3192" stroke-width="2"/>
<circle cx="198.8" cy="1711" r="3.4" fill="#fff" stroke="#2e3192" stroke-width="2"/>
<circle cx="209.5" cy="1715.3" r="3.4" fill="#fff" stroke="#2e3192" stroke-width="2"/>
<circle cx="218.6" cy="1717.5" r="3.4" fill="#fff" stroke="#2e3192" stroke-width="2"/>
<circle cx="228.7" cy="1704.6" r="3.4" fill="#fff" stroke="#2e3192" stroke-width="2"/>
<circle cx="238.3" cy="1715.3" r="3.4" fill="#fff" stroke="#2e3192" stroke-width="2"/>
<circle cx="248.4" cy="1715.3" r="3.4" fill="#fff" stroke="#2e3192" stroke-width="2"/>
<circle cx="258.5" cy="1711.9" r="3.4" fill="#fff" stroke="#2e3192" stroke-width="2"/>
<circle cx="268.5" cy="1714" r="3.4" fill="#fff" stroke="#2e3192" stroke-width="2"/>
<circle cx="279.2" cy="1695.5" r="3.4" fill="#fff" stroke="#2e3192" stroke-width="2"/>
<circle cx="289.2" cy="1663.5" r="3.4" fill="#fff" stroke="#2e3192" stroke-width="2"/>
<circle cx="298.4" cy="1580.9" r="3.4" fill="#fff" stroke="#2e3192" stroke-width="2"/>
<circle cx="308.4" cy="1447.8" r="3.4" fill="#fff" stroke="#2e3192" stroke-width="2"/>
<circle cx="319" cy="1444.2" r="3.4" fill="#fff" stroke="#2e3192" stroke-width="2"/>
<circle cx="328.3" cy="1528.2" r="3.4" fill="#fff" stroke="#2e3192" stroke-width="2"/>
<circle cx="339" cy="1615.8" r="3.4" fill="#fff" stroke="#2e3192" stroke-width="2"/>
<circle cx="348.2" cy="1653.5" r="3.4" fill="#fff" stroke="#2e3192" stroke-width="2"/>
<circle cx="358.9" cy="1679.1" r="3.4" fill="#fff" stroke="#2e3192" stroke-width="2"/>
<circle cx="368.9" cy="1691.2" r="3.4" fill="#fff" stroke="#2e3192" stroke-width="2"/>
<circle cx="379.6" cy="1701.9" r="3.4" fill="#fff" stroke="#2e3192" stroke-width="2"/>
<circle cx="388.8" cy="1699.8" r="3.4" fill="#fff" stroke="#2e3192" stroke-width="2"/>
<circle cx="398.8" cy="1704.7" r="3.4" fill="#fff" stroke="#2e3192" stroke-width="2"/>
<circle cx="408.6" cy="1709" r="3.4" fill="#fff" stroke="#2e3192" stroke-width="2"/>
<circle cx="419.2" cy="1709" r="3.4" fill="#fff" stroke="#2e3192" stroke-width="2"/>
<circle cx="429.5" cy="1713.2" r="3.4" fill="#fff" stroke="#2e3192" stroke-width="2"/>
<circle cx="439.8" cy="1711" r="3.4" fill="#fff" stroke="#2e3192" stroke-width="2"/>
<circle cx="449.2" cy="1711" r="3.4" fill="#fff" stroke="#2e3192" stroke-width="2"/>
<circle cx="459.4" cy="1711" r="3.4" fill="#fff" stroke="#2e3192" stroke-width="2"/>
<circle cx="469.2" cy="1712.3" r="3.4" fill="#fff" stroke="#2e3192" stroke-width="2"/>
<circle cx="479.2" cy="1711" r="3.4" fill="#fff" stroke="#2e3192" stroke-width="2"/>
<circle cx="489.3" cy="1711" r="3.4" fill="#fff" stroke="#2e3192" stroke-width="2"/>
<circle cx="499.6" cy="1711" r="3.4" fill="#fff" stroke="#2e3192" stroke-width="2"/>
<circle cx="509.2" cy="1711" r="3.4" fill="#fff" stroke="#2e3192" stroke-width="2"/>
<circle cx="519.2" cy="1715.3" r="3.4" fill="#fff" stroke="#2e3192" stroke-width="2"/>
<circle cx="529.5" cy="1713.2" r="3.4" fill="#fff" stroke="#2e3192" stroke-width="2"/>
<circle cx="539.2" cy="1711" r="3.4" fill="#fff" stroke="#2e3192" stroke-width="2"/>
<circle cx="549.4" cy="1715.3" r="3.4" fill="#fff" stroke="#2e3192" stroke-width="2"/>
<circle cx="559.6" cy="1717.5" r="3.4" fill="#fff" stroke="#2e3192" stroke-width="2"/>
<circle cx="569.8" cy="1715.3" r="3.4" fill="#fff" stroke="#2e3192" stroke-width="2"/>
<circle cx="579.4" cy="1715.3" r="3.4" fill="#fff" stroke="#2e3192" stroke-width="2"/>
</g>
<path d="M183.5 1713.34 L184.5 1713.33 L185.5 1713.31 L186.5 1713.3 L187.5 1713.29 L188.5 1713.28 L189.5 1713.26 L190.5 1713.25 L191.5 1713.24 L192.5 1713.22 L193.5 1713.21 L194.5 1713.19 L195.5 1713.18 L196.5 1713.16 L197.5 1713.14 L198.5 1713.13 L199.5 1713.11 L200.5 1713.09 L201.5 1713.08 L202.5 1713.06 L203.5 1713.04 L204.5 1713.02 L205.5 1713 L206.5 1712.98 L207.5 1712.96 L208.5 1712.94 L209.5 1712.92 L210.5 1712.9 L211.5 1712.87 L212.5 1712.85 L213.5 1712.83 L214.5 1712.8 L215.5 1712.78 L216.5 1712.75 L217.5 1712.72 L218.5 1712.7 L219.5 1712.67 L220.5 1712.64 L221.5 1712.61 L222.5 1712.58 L223.5 1712.55 L224.5 1712.51 L225.5 1712.48 L226.5 1712.45 L227.5 1712.41 L228.5 1712.37 L229.5 1712.33 L230.5 1712.3 L231.5 1712.26 L232.5 1712.21 L233.5 1712.17 L234.5 1712.12 L235.5 1712.08 L236.5 1712.03 L237.5 1711.98 L238.5 1711.93 L239.5 1711.87 L240.5 1711.82 L241.5 1711.76 L242.5 1711.7 L243.5 1711.63 L244.5 1711.56 L245.5 1711.49 L246.5 1711.42 L247.5 1711.34 L248.5 1711.25 L249.5 1711.16 L250.5 1711.06 L251.5 1710.95 L252.5 1710.84 L253.5 1710.71 L254.5 1710.57 L255.5 1710.42 L256.5 1710.26 L257.5 1710.07 L258.5 1709.87 L259.5 1709.64 L260.5 1709.39 L261.5 1709.1 L262.5 1708.78 L263.5 1708.42 L264.5 1708.02 L265.5 1707.56 L266.5 1707.05 L267.5 1706.47 L268.5 1705.81 L269.5 1705.08 L270.5 1704.25 L271.5 1703.33 L272.5 1702.29 L273.5 1701.12 L274.5 1699.82 L275.5 1698.37 L276.5 1696.76 L277.5 1694.97 L278.5 1692.99 L279.5 1690.8 L280.5 1688.4 L281.5 1685.76 L282.5 1682.88 L283.5 1679.73 L284.5 1676.32 L285.5 1672.62 L286.5 1668.63 L287.5 1664.34 L288.5 1659.74 L289.5 1654.83 L290.5 1649.61 L291.5 1644.08 L292.5 1638.24 L293.5 1632.1 L294.5 1625.68 L295.5 1618.99 L296.5 1612.04 L297.5 1604.86 L298.5 1597.48 L299.5 1589.93 L300.5 1582.24 L301.5 1574.45 L302.5 1566.6 L303.5 1558.74 L304.5 1550.91 L305.5 1543.18 L306.5 1535.59 L307.5 1528.2 L308.5 1521.08 L309.5 1514.27 L310.5 1507.85 L311.5 1501.87 L312.5 1496.39 L313.5 1491.47 L314.5 1487.17 L315.5 1483.53 L316.5 1480.59 L317.5 1478.4 L318.5 1476.97 L319.5 1476.34 L320.5 1476.5 L321.5 1477.45 L322.5 1479.18 L323.5 1481.68 L324.5 1484.9 L325.5 1488.81 L326.5 1493.37 L327.5 1498.52 L328.5 1504.2 L329.5 1510.37 L330.5 1516.95 L331.5 1523.89 L332.5 1531.13 L333.5 1538.6 L334.5 1546.26 L335.5 1554.03 L336.5 1561.88 L337.5 1569.74 L338.5 1577.57 L339.5 1585.33 L340.5 1592.97 L341.5 1600.46 L342.5 1607.76 L343.5 1614.85 L344.5 1621.7 L345.5 1628.28 L346.5 1634.59 L347.5 1640.61 L348.5 1646.33 L349.5 1651.73 L350.5 1656.83 L351.5 1661.62 L352.5 1666.09 L353.5 1670.26 L354.5 1674.13 L355.5 1677.72 L356.5 1681.02 L357.5 1684.06 L358.5 1686.84 L359.5 1689.39 L360.5 1691.7 L361.5 1693.8 L362.5 1695.7 L363.5 1697.42 L364.5 1698.97 L365.5 1700.36 L366.5 1701.6 L367.5 1702.72 L368.5 1703.71 L369.5 1704.6 L370.5 1705.38 L371.5 1706.08 L372.5 1706.71 L373.5 1707.26 L374.5 1707.75 L375.5 1708.18 L376.5 1708.57 L377.5 1708.91 L378.5 1709.22 L379.5 1709.49 L380.5 1709.73 L381.5 1709.95 L382.5 1710.15 L383.5 1710.32 L384.5 1710.48 L385.5 1710.63 L386.5 1710.76 L387.5 1710.88 L388.5 1711 L389.5 1711.1 L390.5 1711.2 L391.5 1711.28 L392.5 1711.37 L393.5 1711.45 L394.5 1711.52 L395.5 1711.59 L396.5 1711.66 L397.5 1711.72 L398.5 1711.78 L399.5 1711.84 L400.5 1711.9 L401.5 1711.95 L402.5 1712 L403.5 1712.05 L404.5 1712.1 L405.5 1712.14 L406.5 1712.19 L407.5 1712.23 L408.5 1712.27 L409.5 1712.31 L410.5 1712.35 L411.5 1712.39 L412.5 1712.42 L413.5 1712.46 L414.5 1712.49 L415.5 1712.53 L416.5 1712.56 L417.5 1712.59 L418.5 1712.62 L419.5 1712.65 L420.5 1712.68 L421.5 1712.71 L422.5 1712.73 L423.5 1712.76 L424.5 1712.79 L425.5 1712.81 L426.5 1712.84 L427.5 1712.86 L428.5 1712.88 L429.5 1712.9 L430.5 1712.93 L431.5 1712.95 L432.5 1712.97 L433.5 1712.99 L434.5 1713.01 L435.5 1713.03 L436.5 1713.05 L437.5 1713.07 L438.5 1713.08 L439.5 1713.1 L440.5 1713.12 L441.5 1713.13 L442.5 1713.15 L443.5 1713.17 L444.5 1713.18 L445.5 1713.2 L446.5 1713.21 L447.5 1713.23 L448.5 1713.24 L449.5 1713.25 L450.5 1713.27 L451.5 1713.28 L452.5 1713.29 L453.5 1713.31 L454.5 1713.32 L455.5 1713.33 L456.5 1713.34 L457.5 1713.36 L458.5 1713.37 L459.5 1713.38 L460.5 1713.39 L461.5 1713.4 L462.5 1713.41 L463.5 1713.42 L464.5 1713.43 L465.5 1713.44 L466.5 1713.45 L467.5 1713.46 L468.5 1713.47 L469.5 1713.48 L470.5 1713.49 L471.5 1713.5 L472.5 1713.5 L473.5 1713.51 L474.5 1713.52 L475.5 1713.53 L476.5 1713.54 L477.5 1713.54 L478.5 1713.55 L479.5 1713.56 L480.5 1713.57 L481.5 1713.57 L482.5 1713.58 L483.5 1713.59 L484.5 1713.6 L485.5 1713.6 L486.5 1713.61 L487.5 1713.62 L488.5 1713.62 L489.5 1713.63 L490.5 1713.63 L491.5 1713.64 L492.5 1713.65 L493.5 1713.65 L494.5 1713.66 L495.5 1713.66 L496.5 1713.67 L497.5 1713.67 L498.5 1713.68 L499.5 1713.69 L500.5 1713.69 L501.5 1713.7 L502.5 1713.7 L503.5 1713.71 L504.5 1713.71 L505.5 1713.72 L506.5 1713.72 L507.5 1713.72 L508.5 1713.73 L509.5 1713.73 L510.5 1713.74 L511.5 1713.74 L512.5 1713.75 L513.5 1713.75 L514.5 1713.76 L515.5 1713.76 L516.5 1713.76 L517.5 1713.77 L518.5 1713.77 L519.5 1713.78 L520.5 1713.78 L521.5 1713.78 L522.5 1713.79 L523.5 1713.79 L524.5 1713.79 L525.5 1713.8 L526.5 1713.8 L527.5 1713.81 L528.5 1713.81 L529.5 1713.81 L530.5 1713.82 L531.5 1713.82 L532.5 1713.82 L533.5 1713.82 L534.5 1713.83 L535.5 1713.83 L536.5 1713.83 L537.5 1713.84 L538.5 1713.84 L539.5 1713.84 L540.5 1713.85 L541.5 1713.85 L542.5 1713.85 L543.5 1713.85 L544.5 1713.86 L545.5 1713.86 L546.5 1713.86 L547.5 1713.87 L548.5 1713.87 L549.5 1713.87 L550.5 1713.87 L551.5 1713.88 L552.5 1713.88 L553.5 1713.88 L554.5 1713.88 L555.5 1713.89 L556.5 1713.89 L557.5 1713.89 L558.5 1713.89 L559.5 1713.89 L560.5 1713.9 L561.5 1713.9 L562.5 1713.9 L563.5 1713.9 L564.5 1713.91 L565.5 1713.91 L566.5 1713.91 L567.5 1713.91 L568.5 1713.91 L569.5 1713.92 L570.5 1713.92 L571.5 1713.92 L572.5 1713.92 L573.5 1713.92 L574.5 1713.93 L575.5 1713.93 L576.5 1713.93 L577.5 1713.93 L578.5 1713.93 L579.5 1713.93 L580.5 1713.94 L581.5 1713.94 L582.5 1713.94 L583.5 1713.94 L584.5 1713.94" fill="none" stroke="#1a1a1a" stroke-width="2.4" stroke-linejoin="round" clip-path="url(#clip_c1)"/>
<path d="M184.5 1713.07 L185.5 1713.05 L186.5 1713.04 L187.5 1713.02 L188.5 1713 L189.5 1712.99 L190.5 1712.97 L191.5 1712.95 L192.5 1712.93 L193.5 1712.91 L194.5 1712.89 L195.5 1712.87 L196.5 1712.85 L197.5 1712.83 L198.5 1712.81 L199.5 1712.79 L200.5 1712.76 L201.5 1712.74 L202.5 1712.72 L203.5 1712.69 L204.5 1712.67 L205.5 1712.64 L206.5 1712.62 L207.5 1712.59 L208.5 1712.56 L209.5 1712.53 L210.5 1712.51 L211.5 1712.48 L212.5 1712.45 L213.5 1712.41 L214.5 1712.38 L215.5 1712.35 L216.5 1712.31 L217.5 1712.28 L218.5 1712.24 L219.5 1712.21 L220.5 1712.17 L221.5 1712.13 L222.5 1712.09 L223.5 1712.05 L224.5 1712 L225.5 1711.96 L226.5 1711.91 L227.5 1711.87 L228.5 1711.82 L229.5 1711.77 L230.5 1711.72 L231.5 1711.66 L232.5 1711.61 L233.5 1711.55 L234.5 1711.49 L235.5 1711.42 L236.5 1711.36 L237.5 1711.29 L238.5 1711.22 L239.5 1711.14 L240.5 1711.06 L241.5 1710.97 L242.5 1710.88 L243.5 1710.79 L244.5 1710.69 L245.5 1710.58 L246.5 1710.46 L247.5 1710.33 L248.5 1710.19 L249.5 1710.04 L250.5 1709.87 L251.5 1709.69 L252.5 1709.49 L253.5 1709.27 L254.5 1709.03 L255.5 1708.76 L256.5 1708.46 L257.5 1708.13 L258.5 1707.75 L259.5 1707.34 L260.5 1706.87 L261.5 1706.35 L262.5 1705.77 L263.5 1705.12 L264.5 1704.39 L265.5 1703.58 L266.5 1702.68 L267.5 1701.67 L268.5 1700.55 L269.5 1699.3 L270.5 1697.92 L271.5 1696.39 L272.5 1694.71 L273.5 1692.85 L274.5 1690.8 L275.5 1688.56 L276.5 1686.11 L277.5 1683.43 L278.5 1680.51 L279.5 1677.35 L280.5 1673.92 L281.5 1670.23 L282.5 1666.25 L283.5 1661.98 L284.5 1657.42 L285.5 1652.55 L286.5 1647.38 L287.5 1641.9 L288.5 1636.12 L289.5 1630.03 L290.5 1623.65 L291.5 1616.98 L292.5 1610.04 L293.5 1602.85 L294.5 1595.41 L295.5 1587.76 L296.5 1579.92 L297.5 1571.92 L298.5 1563.79 L299.5 1555.57 L300.5 1547.3 L301.5 1539.02 L302.5 1530.77 L303.5 1522.61 L304.5 1514.58 L305.5 1506.74 L306.5 1499.13 L307.5 1491.82 L308.5 1484.85 L309.5 1478.3 L310.5 1472.2 L311.5 1466.62 L312.5 1461.61 L313.5 1457.21 L314.5 1453.47 L315.5 1450.42 L316.5 1448.11 L317.5 1446.56 L318.5 1445.77 L319.5 1445.77 L320.5 1446.56 L321.5 1448.11 L322.5 1450.42 L323.5 1453.47 L324.5 1457.21 L325.5 1461.61 L326.5 1466.62 L327.5 1472.2 L328.5 1478.3 L329.5 1484.85 L330.5 1491.82 L331.5 1499.13 L332.5 1506.74 L333.5 1514.58 L334.5 1522.61 L335.5 1530.77 L336.5 1539.02 L337.5 1547.3 L338.5 1555.57 L339.5 1563.79 L340.5 1571.92 L341.5 1579.92 L342.5 1587.76 L343.5 1595.41 L344.5 1602.85 L345.5 1610.04 L346.5 1616.98 L347.5 1623.65 L348.5 1630.03 L349.5 1636.12 L350.5 1641.9 L351.5 1647.38 L352.5 1652.55 L353.5 1657.42 L354.5 1661.98 L355.5 1666.25 L356.5 1670.23 L357.5 1673.92 L358.5 1677.35 L359.5 1680.51 L360.5 1683.43 L361.5 1686.11 L362.5 1688.56 L363.5 1690.8 L364.5 1692.85 L365.5 1694.71 L366.5 1696.39 L367.5 1697.92 L368.5 1699.3 L369.5 1700.55 L370.5 1701.67 L371.5 1702.68 L372.5 1703.58 L373.5 1704.39 L374.5 1705.12 L375.5 1705.77 L376.5 1706.35 L377.5 1706.87 L378.5 1707.34 L379.5 1707.75 L380.5 1708.13 L381.5 1708.46 L382.5 1708.76 L383.5 1709.03 L384.5 1709.27 L385.5 1709.49 L386.5 1709.69 L387.5 1709.87 L388.5 1710.04 L389.5 1710.19 L390.5 1710.33 L391.5 1710.46 L392.5 1710.58 L393.5 1710.69 L394.5 1710.79 L395.5 1710.88 L396.5 1710.97 L397.5 1711.06 L398.5 1711.14 L399.5 1711.22 L400.5 1711.29 L401.5 1711.36 L402.5 1711.42 L403.5 1711.49 L404.5 1711.55 L405.5 1711.61 L406.5 1711.66 L407.5 1711.72 L408.5 1711.77 L409.5 1711.82 L410.5 1711.87 L411.5 1711.91 L412.5 1711.96 L413.5 1712 L414.5 1712.05 L415.5 1712.09 L416.5 1712.13 L417.5 1712.17 L418.5 1712.21 L419.5 1712.24 L420.5 1712.28 L421.5 1712.31 L422.5 1712.35 L423.5 1712.38 L424.5 1712.41 L425.5 1712.45 L426.5 1712.48 L427.5 1712.51 L428.5 1712.53 L429.5 1712.56 L430.5 1712.59 L431.5 1712.62 L432.5 1712.64 L433.5 1712.67 L434.5 1712.69 L435.5 1712.72 L436.5 1712.74 L437.5 1712.76 L438.5 1712.79 L439.5 1712.81 L440.5 1712.83 L441.5 1712.85 L442.5 1712.87 L443.5 1712.89 L444.5 1712.91 L445.5 1712.93 L446.5 1712.95 L447.5 1712.97 L448.5 1712.99 L449.5 1713 L450.5 1713.02 L451.5 1713.04 L452.5 1713.05 L453.5 1713.07 L454.5 1713.09 L455.5 1713.1 L456.5 1713.12 L457.5 1713.13 L458.5 1713.14 L459.5 1713.16 L460.5 1713.17 L461.5 1713.19 L462.5 1713.2 L463.5 1713.21 L464.5 1713.23 L465.5 1713.24 L466.5 1713.25 L467.5 1713.26 L468.5 1713.27 L469.5 1713.29 L470.5 1713.3 L471.5 1713.31 L472.5 1713.32 L473.5 1713.33 L474.5 1713.34 L475.5 1713.35 L476.5 1713.36 L477.5 1713.37 L478.5 1713.38 L479.5 1713.39 L480.5 1713.4 L481.5 1713.41 L482.5 1713.42 L483.5 1713.43 L484.5 1713.44 L485.5 1713.44 L486.5 1713.45 L487.5 1713.46 L488.5 1713.47 L489.5 1713.48 L490.5 1713.48 L491.5 1713.49 L492.5 1713.5 L493.5 1713.51 L494.5 1713.51 L495.5 1713.52 L496.5 1713.53 L497.5 1713.54 L498.5 1713.54 L499.5 1713.55 L500.5 1713.56 L501.5 1713.56 L502.5 1713.57 L503.5 1713.58 L504.5 1713.58 L505.5 1713.59 L506.5 1713.59 L507.5 1713.6 L508.5 1713.61 L509.5 1713.61 L510.5 1713.62 L511.5 1713.62 L512.5 1713.63 L513.5 1713.63 L514.5 1713.64 L515.5 1713.64 L516.5 1713.65 L517.5 1713.66 L518.5 1713.66 L519.5 1713.67 L520.5 1713.67 L521.5 1713.67 L522.5 1713.68 L523.5 1713.68 L524.5 1713.69 L525.5 1713.69 L526.5 1713.7 L527.5 1713.7 L528.5 1713.71 L529.5 1713.71 L530.5 1713.72 L531.5 1713.72 L532.5 1713.72 L533.5 1713.73 L534.5 1713.73 L535.5 1713.74 L536.5 1713.74 L537.5 1713.74 L538.5 1713.75 L539.5 1713.75 L540.5 1713.75 L541.5 1713.76 L542.5 1713.76 L543.5 1713.77 L544.5 1713.77 L545.5 1713.77 L546.5 1713.78 L547.5 1713.78 L548.5 1713.78 L549.5 1713.79 L550.5 1713.79 L551.5 1713.79 L552.5 1713.8 L553.5 1713.8 L554.5 1713.8 L555.5 1713.8 L556.5 1713.81 L557.5 1713.81 L558.5 1713.81 L559.5 1713.82 L560.5 1713.82 L561.5 1713.82 L562.5 1713.83 L563.5 1713.83 L564.5 1713.83 L565.5 1713.83 L566.5 1713.84 L567.5 1713.84 L568.5 1713.84 L569.5 1713.84 L570.5 1713.85 L571.5 1713.85 L572.5 1713.85 L573.5 1713.85 L574.5 1713.86 L575.5 1713.86 L576.5 1713.86 L577.5 1713.86 L578.5 1713.87 L579.5 1713.87 L580.5 1713.87 L581.5 1713.87 L582.5 1713.87 L583.5 1713.88" fill="none" stroke="#30a84e" stroke-width="6.4" stroke-linejoin="round" stroke-dasharray="2 9.9" stroke-linecap="round" clip-path="url(#clip_c1)"/>
<g clip-path="url(#clip_c2)">
<path d="M187.6 2030.19 V2042.81 M183.35 2030.19 H191.85 M183.35 2042.81 H191.85 M198.5 2033.26 V2044.74 M194.25 2033.26 H202.75 M194.25 2044.74 H202.75 M208.5 2027.16 V2040.84 M204.25 2027.16 H212.75 M204.25 2040.84 H212.75 M218.6 2032.27 V2044.13 M214.35 2032.27 H222.85 M214.35 2044.13 H222.85 M228.7 2034.25 V2045.35 M224.45 2034.25 H232.95 M224.45 2045.35 H232.95 M238.7 2016.2 V2033.2 M234.45 2016.2 H242.95 M234.45 2033.2 H242.95 M248.8 1943.42 V1975.18 M244.55 1943.42 H253.05 M244.55 1975.18 H253.05 M258.9 1874.82 V1916.18 M254.65 1874.82 H263.15 M254.65 1916.18 H263.15 M268.9 1841.86 V1887.14 M264.65 1841.86 H273.15 M264.65 1887.14 H273.15 M279 1871.31 V1913.09 M274.75 1871.31 H283.25 M274.75 1913.09 H283.25 M289.1 1941.58 V1973.62 M284.85 1941.58 H293.35 M284.85 1973.62 H293.35 M299.1 1991.4 V2014.4 M294.85 1991.4 H303.35 M294.85 2014.4 H303.35 M309.2 2012.38 V2030.42 M304.95 2012.38 H313.45 M304.95 2030.42 H313.45 M319.3 2012.38 V2030.42 M315.05 2012.38 H323.55 M315.05 2030.42 H323.55 M329.4 2018.18 V2034.62 M325.15 2018.18 H333.65 M325.15 2034.62 H333.65 M339.4 2006.53 V2026.07 M335.15 2006.53 H343.65 M335.15 2026.07 H343.65 M348.7 1953.44 V1983.56 M344.45 1953.44 H352.95 M344.45 1983.56 H352.95 M358.7 1885.61 V1925.59 M354.45 1885.61 H362.95 M354.45 1925.59 H362.95 M369.6 1829.35 V1876.05 M365.35 1829.35 H373.85 M365.35 1876.05 H373.85 M378.9 1866.83 V1909.17 M374.65 1866.83 H383.15 M374.65 1909.17 H383.15 M388.9 1921.56 V1956.64 M384.65 1921.56 H393.15 M384.65 1956.64 H393.15 M399.3 1968.45 V1995.95 M395.05 1968.45 H403.55 M395.05 1995.95 H403.55 M409.4 1990.84 V2013.96 M405.15 1990.84 H413.65 M405.15 2013.96 H413.65 M419.4 2008.82 V2027.78 M415.15 2008.82 H423.65 M415.15 2027.78 H423.65 M429.5 2013.65 V2031.35 M425.25 2013.65 H433.75 M425.25 2031.35 H433.75 M439.6 2010.77 V2029.23 M435.35 2010.77 H443.85 M435.35 2029.23 H443.85 M449.6 2022.4 V2037.6 M445.35 2022.4 H453.85 M445.35 2037.6 H453.85 M459.7 2025.49 V2039.71 M455.45 2025.49 H463.95 M455.45 2039.71 H463.95 M469.8 2021.46 V2036.94 M465.55 2021.46 H474.05 M465.55 2036.94 H474.05 M479.8 2024.42 V2038.98 M475.55 2024.42 H484.05 M475.55 2038.98 H484.05 M489.9 2027.4 V2041 M485.65 2027.4 H494.15 M485.65 2041 H494.15 M500 2025.49 V2039.71 M495.75 2025.49 H504.25 M495.75 2039.71 H504.25 M510.1 2029.46 V2042.34 M505.85 2029.46 H514.35 M505.85 2042.34 H514.35 M520.1 2036.77 V2046.83 M515.85 2036.77 H524.35 M515.85 2046.83 H524.35 M530.2 2028.49 V2041.71 M525.95 2028.49 H534.45 M525.95 2041.71 H534.45 M540.3 2027.4 V2041 M536.05 2027.4 H544.55 M536.05 2041 H544.55 M550.3 2030.55 V2043.05 M546.05 2030.55 H554.55 M546.05 2043.05 H554.55 M560.4 2027.4 V2041 M556.15 2027.4 H564.65 M556.15 2041 H564.65 M570.5 2036.77 V2046.83 M566.25 2036.77 H574.75 M566.25 2046.83 H574.75 M580.5 2033.63 V2044.97 M576.25 2033.63 H584.75 M576.25 2044.97 H584.75" fill="none" stroke="#2e3192" stroke-width="1.9"/>
<circle cx="187.6" cy="2036.5" r="3.4" fill="#fff" stroke="#2e3192" stroke-width="2"/>
<circle cx="198.5" cy="2039" r="3.4" fill="#fff" stroke="#2e3192" stroke-width="2"/>
<circle cx="208.5" cy="2034" r="3.4" fill="#fff" stroke="#2e3192" stroke-width="2"/>
<circle cx="218.6" cy="2038.2" r="3.4" fill="#fff" stroke="#2e3192" stroke-width="2"/>
<circle cx="228.7" cy="2039.8" r="3.4" fill="#fff" stroke="#2e3192" stroke-width="2"/>
<circle cx="238.7" cy="2024.7" r="3.4" fill="#fff" stroke="#2e3192" stroke-width="2"/>
<circle cx="248.8" cy="1959.3" r="3.4" fill="#fff" stroke="#2e3192" stroke-width="2"/>
<circle cx="258.9" cy="1895.5" r="3.4" fill="#fff" stroke="#2e3192" stroke-width="2"/>
<circle cx="268.9" cy="1864.5" r="3.4" fill="#fff" stroke="#2e3192" stroke-width="2"/>
<circle cx="279" cy="1892.2" r="3.4" fill="#fff" stroke="#2e3192" stroke-width="2"/>
<circle cx="289.1" cy="1957.6" r="3.4" fill="#fff" stroke="#2e3192" stroke-width="2"/>
<circle cx="299.1" cy="2002.9" r="3.4" fill="#fff" stroke="#2e3192" stroke-width="2"/>
<circle cx="309.2" cy="2021.4" r="3.4" fill="#fff" stroke="#2e3192" stroke-width="2"/>
<circle cx="319.3" cy="2021.4" r="3.4" fill="#fff" stroke="#2e3192" stroke-width="2"/>
<circle cx="329.4" cy="2026.4" r="3.4" fill="#fff" stroke="#2e3192" stroke-width="2"/>
<circle cx="339.4" cy="2016.3" r="3.4" fill="#fff" stroke="#2e3192" stroke-width="2"/>
<circle cx="348.7" cy="1968.5" r="3.4" fill="#fff" stroke="#2e3192" stroke-width="2"/>
<circle cx="358.7" cy="1905.6" r="3.4" fill="#fff" stroke="#2e3192" stroke-width="2"/>
<circle cx="369.6" cy="1852.7" r="3.4" fill="#fff" stroke="#2e3192" stroke-width="2"/>
<circle cx="378.9" cy="1888" r="3.4" fill="#fff" stroke="#2e3192" stroke-width="2"/>
<circle cx="388.9" cy="1939.1" r="3.4" fill="#fff" stroke="#2e3192" stroke-width="2"/>
<circle cx="399.3" cy="1982.2" r="3.4" fill="#fff" stroke="#2e3192" stroke-width="2"/>
<circle cx="409.4" cy="2002.4" r="3.4" fill="#fff" stroke="#2e3192" stroke-width="2"/>
<circle cx="419.4" cy="2018.3" r="3.4" fill="#fff" stroke="#2e3192" stroke-width="2"/>
<circle cx="429.5" cy="2022.5" r="3.4" fill="#fff" stroke="#2e3192" stroke-width="2"/>
<circle cx="439.6" cy="2020" r="3.4" fill="#fff" stroke="#2e3192" stroke-width="2"/>
<circle cx="449.6" cy="2030" r="3.4" fill="#fff" stroke="#2e3192" stroke-width="2"/>
<circle cx="459.7" cy="2032.6" r="3.4" fill="#fff" stroke="#2e3192" stroke-width="2"/>
<circle cx="469.8" cy="2029.2" r="3.4" fill="#fff" stroke="#2e3192" stroke-width="2"/>
<circle cx="479.8" cy="2031.7" r="3.4" fill="#fff" stroke="#2e3192" stroke-width="2"/>
<circle cx="489.9" cy="2034.2" r="3.4" fill="#fff" stroke="#2e3192" stroke-width="2"/>
<circle cx="500" cy="2032.6" r="3.4" fill="#fff" stroke="#2e3192" stroke-width="2"/>
<circle cx="510.1" cy="2035.9" r="3.4" fill="#fff" stroke="#2e3192" stroke-width="2"/>
<circle cx="520.1" cy="2041.8" r="3.4" fill="#fff" stroke="#2e3192" stroke-width="2"/>
<circle cx="530.2" cy="2035.1" r="3.4" fill="#fff" stroke="#2e3192" stroke-width="2"/>
<circle cx="540.3" cy="2034.2" r="3.4" fill="#fff" stroke="#2e3192" stroke-width="2"/>
<circle cx="550.3" cy="2036.8" r="3.4" fill="#fff" stroke="#2e3192" stroke-width="2"/>
<circle cx="560.4" cy="2034.2" r="3.4" fill="#fff" stroke="#2e3192" stroke-width="2"/>
<circle cx="570.5" cy="2041.8" r="3.4" fill="#fff" stroke="#2e3192" stroke-width="2"/>
<circle cx="580.5" cy="2039.3" r="3.4" fill="#fff" stroke="#2e3192" stroke-width="2"/>
</g>
<path d="M183.5 2031.33 L184.5 2031.28 L185.5 2031.23 L186.5 2031.18 L187.5 2031.13 L188.5 2031.07 L189.5 2031.01 L190.5 2030.94 L191.5 2030.88 L192.5 2030.81 L193.5 2030.74 L194.5 2030.66 L195.5 2030.58 L196.5 2030.5 L197.5 2030.41 L198.5 2030.32 L199.5 2030.23 L200.5 2030.13 L201.5 2030.03 L202.5 2029.92 L203.5 2029.8 L204.5 2029.68 L205.5 2029.55 L206.5 2029.42 L207.5 2029.27 L208.5 2029.12 L209.5 2028.96 L210.5 2028.79 L211.5 2028.61 L212.5 2028.41 L213.5 2028.2 L214.5 2027.97 L215.5 2027.73 L216.5 2027.46 L217.5 2027.17 L218.5 2026.85 L219.5 2026.5 L220.5 2026.11 L221.5 2025.68 L222.5 2025.2 L223.5 2024.66 L224.5 2024.07 L225.5 2023.4 L226.5 2022.65 L227.5 2021.82 L228.5 2020.88 L229.5 2019.83 L230.5 2018.64 L231.5 2017.32 L232.5 2015.85 L233.5 2014.2 L234.5 2012.36 L235.5 2010.32 L236.5 2008.06 L237.5 2005.56 L238.5 2002.81 L239.5 1999.79 L240.5 1996.49 L241.5 1992.89 L242.5 1989 L243.5 1984.79 L244.5 1980.26 L245.5 1975.42 L246.5 1970.26 L247.5 1964.79 L248.5 1959.02 L249.5 1952.97 L250.5 1946.66 L251.5 1940.12 L252.5 1933.37 L253.5 1926.45 L254.5 1919.42 L255.5 1912.32 L256.5 1905.22 L257.5 1898.17 L258.5 1891.25 L259.5 1884.54 L260.5 1878.14 L261.5 1872.11 L262.5 1866.57 L263.5 1861.61 L264.5 1857.32 L265.5 1853.78 L266.5 1851.07 L267.5 1849.26 L268.5 1848.39 L269.5 1848.47 L270.5 1849.5 L271.5 1851.46 L272.5 1854.31 L273.5 1857.97 L274.5 1862.37 L275.5 1867.43 L276.5 1873.04 L277.5 1879.11 L278.5 1885.55 L279.5 1892.27 L280.5 1899.18 L281.5 1906.21 L282.5 1913.28 L283.5 1920.33 L284.5 1927.3 L285.5 1934.15 L286.5 1940.82 L287.5 1947.28 L288.5 1953.49 L289.5 1959.44 L290.5 1965.1 L291.5 1970.46 L292.5 1975.5 L293.5 1980.23 L294.5 1984.63 L295.5 1988.72 L296.5 1992.49 L297.5 1995.96 L298.5 1999.14 L299.5 2002.03 L300.5 2004.66 L301.5 2007.03 L302.5 2009.17 L303.5 2011.09 L304.5 2012.8 L305.5 2014.32 L306.5 2015.67 L307.5 2016.86 L308.5 2017.9 L309.5 2018.82 L310.5 2019.61 L311.5 2020.3 L312.5 2020.9 L313.5 2021.41 L314.5 2021.83 L315.5 2022.19 L316.5 2022.48 L317.5 2022.71 L318.5 2022.88 L319.5 2023 L320.5 2023.07 L321.5 2023.08 L322.5 2023.05 L323.5 2022.96 L324.5 2022.82 L325.5 2022.62 L326.5 2022.36 L327.5 2022.03 L328.5 2021.63 L329.5 2021.15 L330.5 2020.58 L331.5 2019.92 L332.5 2019.14 L333.5 2018.25 L334.5 2017.23 L335.5 2016.06 L336.5 2014.73 L337.5 2013.23 L338.5 2011.53 L339.5 2009.63 L340.5 2007.51 L341.5 2005.15 L342.5 2002.53 L343.5 1999.64 L344.5 1996.47 L345.5 1993.01 L346.5 1989.24 L347.5 1985.16 L348.5 1980.75 L349.5 1976.03 L350.5 1970.99 L351.5 1965.64 L352.5 1959.99 L353.5 1954.05 L354.5 1947.84 L355.5 1941.39 L356.5 1934.74 L357.5 1927.92 L358.5 1920.97 L359.5 1913.95 L360.5 1906.92 L361.5 1899.93 L362.5 1893.07 L363.5 1886.41 L364.5 1880.04 L365.5 1874.05 L366.5 1868.52 L367.5 1863.57 L368.5 1859.27 L369.5 1855.72 L370.5 1853 L371.5 1851.16 L372.5 1850.26 L373.5 1850.31 L374.5 1851.32 L375.5 1853.26 L376.5 1856.08 L377.5 1859.74 L378.5 1864.14 L379.5 1869.2 L380.5 1874.83 L381.5 1880.93 L382.5 1887.4 L383.5 1894.17 L384.5 1901.14 L385.5 1908.23 L386.5 1915.38 L387.5 1922.51 L388.5 1929.57 L389.5 1936.5 L390.5 1943.27 L391.5 1949.83 L392.5 1956.15 L393.5 1962.21 L394.5 1967.98 L395.5 1973.46 L396.5 1978.62 L397.5 1983.47 L398.5 1988 L399.5 1992.21 L400.5 1996.11 L401.5 1999.71 L402.5 2003.02 L403.5 2006.05 L404.5 2008.81 L405.5 2011.32 L406.5 2013.59 L407.5 2015.65 L408.5 2017.5 L409.5 2019.17 L410.5 2020.66 L411.5 2022.01 L412.5 2023.21 L413.5 2024.29 L414.5 2025.25 L415.5 2026.11 L416.5 2026.89 L417.5 2027.58 L418.5 2028.21 L419.5 2028.77 L420.5 2029.28 L421.5 2029.74 L422.5 2030.16 L423.5 2030.55 L424.5 2030.9 L425.5 2031.23 L426.5 2031.53 L427.5 2031.81 L428.5 2032.07 L429.5 2032.31 L430.5 2032.55 L431.5 2032.76 L432.5 2032.97 L433.5 2033.16 L434.5 2033.35 L435.5 2033.53 L436.5 2033.7 L437.5 2033.86 L438.5 2034.02 L439.5 2034.17 L440.5 2034.31 L441.5 2034.45 L442.5 2034.59 L443.5 2034.72 L444.5 2034.84 L445.5 2034.96 L446.5 2035.08 L447.5 2035.19 L448.5 2035.31 L449.5 2035.41 L450.5 2035.52 L451.5 2035.62 L452.5 2035.72 L453.5 2035.81 L454.5 2035.91 L455.5 2036 L456.5 2036.09 L457.5 2036.17 L458.5 2036.26 L459.5 2036.34 L460.5 2036.42 L461.5 2036.5 L462.5 2036.57 L463.5 2036.65 L464.5 2036.72 L465.5 2036.79 L466.5 2036.86 L467.5 2036.93 L468.5 2037 L469.5 2037.06 L470.5 2037.13 L471.5 2037.19 L472.5 2037.25 L473.5 2037.31 L474.5 2037.37 L475.5 2037.43 L476.5 2037.49 L477.5 2037.54 L478.5 2037.6 L479.5 2037.65 L480.5 2037.71 L481.5 2037.76 L482.5 2037.81 L483.5 2037.86 L484.5 2037.91 L485.5 2037.96 L486.5 2038.01 L487.5 2038.06 L488.5 2038.1 L489.5 2038.15 L490.5 2038.19 L491.5 2038.24 L492.5 2038.28 L493.5 2038.33 L494.5 2038.37 L495.5 2038.41 L496.5 2038.46 L497.5 2038.5 L498.5 2038.54 L499.5 2038.58 L500.5 2038.62 L501.5 2038.66 L502.5 2038.7 L503.5 2038.74 L504.5 2038.77 L505.5 2038.81 L506.5 2038.85 L507.5 2038.89 L508.5 2038.92 L509.5 2038.96 L510.5 2039 L511.5 2039.03 L512.5 2039.07 L513.5 2039.1 L514.5 2039.14 L515.5 2039.17 L516.5 2039.2 L517.5 2039.24 L518.5 2039.27 L519.5 2039.3 L520.5 2039.34 L521.5 2039.37 L522.5 2039.4 L523.5 2039.43 L524.5 2039.46 L525.5 2039.5 L526.5 2039.53 L527.5 2039.56 L528.5 2039.59 L529.5 2039.62 L530.5 2039.65 L531.5 2039.68 L532.5 2039.71 L533.5 2039.74 L534.5 2039.77 L535.5 2039.8 L536.5 2039.83 L537.5 2039.86 L538.5 2039.88 L539.5 2039.91 L540.5 2039.94 L541.5 2039.97 L542.5 2040 L543.5 2040.03 L544.5 2040.05 L545.5 2040.08 L546.5 2040.11 L547.5 2040.14 L548.5 2040.16 L549.5 2040.19 L550.5 2040.22 L551.5 2040.24 L552.5 2040.27 L553.5 2040.3 L554.5 2040.32 L555.5 2040.35 L556.5 2040.37 L557.5 2040.4 L558.5 2040.43 L559.5 2040.45 L560.5 2040.48 L561.5 2040.5 L562.5 2040.53 L563.5 2040.55 L564.5 2040.58 L565.5 2040.6 L566.5 2040.63 L567.5 2040.65 L568.5 2040.68 L569.5 2040.7 L570.5 2040.73 L571.5 2040.75 L572.5 2040.78 L573.5 2040.8 L574.5 2040.82 L575.5 2040.85 L576.5 2040.87 L577.5 2040.9 L578.5 2040.92 L579.5 2040.94 L580.5 2040.97 L581.5 2040.99 L582.5 2041.01 L583.5 2041.04 L584.5 2041.06" fill="none" stroke="#1a1a1a" stroke-width="2.4" stroke-linejoin="round" clip-path="url(#clip_c2)"/>
<path d="M184.5 2031.3 L185.5 2031.25 L186.5 2031.2 L187.5 2031.14 L188.5 2031.09 L189.5 2031.03 L190.5 2030.96 L191.5 2030.9 L192.5 2030.83 L193.5 2030.76 L194.5 2030.69 L195.5 2030.61 L196.5 2030.53 L197.5 2030.45 L198.5 2030.36 L199.5 2030.27 L200.5 2030.17 L201.5 2030.07 L202.5 2029.96 L203.5 2029.85 L204.5 2029.73 L205.5 2029.61 L206.5 2029.47 L207.5 2029.33 L208.5 2029.18 L209.5 2029.02 L210.5 2028.85 L211.5 2028.67 L212.5 2028.47 L213.5 2028.26 L214.5 2028.03 L215.5 2027.78 L216.5 2027.51 L217.5 2027.21 L218.5 2026.88 L219.5 2026.52 L220.5 2026.12 L221.5 2025.68 L222.5 2025.19 L223.5 2024.65 L224.5 2024.04 L225.5 2023.36 L226.5 2022.61 L227.5 2021.77 L228.5 2020.83 L229.5 2019.79 L230.5 2018.62 L231.5 2017.33 L232.5 2015.89 L233.5 2014.3 L234.5 2012.53 L235.5 2010.59 L236.5 2008.45 L237.5 2006.11 L238.5 2003.54 L239.5 2000.74 L240.5 1997.71 L241.5 1994.42 L242.5 1990.87 L243.5 1987.07 L244.5 1982.99 L245.5 1978.65 L246.5 1974.05 L247.5 1969.2 L248.5 1964.09 L249.5 1958.75 L250.5 1953.19 L251.5 1947.44 L252.5 1941.52 L253.5 1935.46 L254.5 1929.29 L255.5 1923.07 L256.5 1916.82 L257.5 1910.61 L258.5 1904.49 L259.5 1898.53 L260.5 1892.78 L261.5 1887.32 L262.5 1882.22 L263.5 1877.56 L264.5 1873.42 L265.5 1869.86 L266.5 1866.95 L267.5 1864.76 L268.5 1863.32 L269.5 1862.66 L270.5 1862.81 L271.5 1863.75 L272.5 1865.46 L273.5 1867.92 L274.5 1871.06 L275.5 1874.83 L276.5 1879.16 L277.5 1883.96 L278.5 1889.18 L279.5 1894.73 L280.5 1900.54 L281.5 1906.54 L282.5 1912.67 L283.5 1918.86 L284.5 1925.07 L285.5 1931.24 L286.5 1937.32 L287.5 1943.29 L288.5 1949.1 L289.5 1954.74 L290.5 1960.16 L291.5 1965.36 L292.5 1970.32 L293.5 1975.03 L294.5 1979.47 L295.5 1983.65 L296.5 1987.55 L297.5 1991.2 L298.5 1994.58 L299.5 1997.7 L300.5 2000.57 L301.5 2003.2 L302.5 2005.6 L303.5 2007.79 L304.5 2009.76 L305.5 2011.55 L306.5 2013.15 L307.5 2014.58 L308.5 2015.86 L309.5 2016.99 L310.5 2018 L311.5 2018.88 L312.5 2019.65 L313.5 2020.32 L314.5 2020.89 L315.5 2021.38 L316.5 2021.79 L317.5 2022.13 L318.5 2022.4 L319.5 2022.61 L320.5 2022.76 L321.5 2022.85 L322.5 2022.88 L323.5 2022.86 L324.5 2022.77 L325.5 2022.63 L326.5 2022.43 L327.5 2022.16 L328.5 2021.82 L329.5 2021.41 L330.5 2020.91 L331.5 2020.32 L332.5 2019.64 L333.5 2018.85 L334.5 2017.95 L335.5 2016.92 L336.5 2015.75 L337.5 2014.43 L338.5 2012.95 L339.5 2011.29 L340.5 2009.45 L341.5 2007.41 L342.5 2005.15 L343.5 2002.67 L344.5 1999.96 L345.5 1997 L346.5 1993.79 L347.5 1990.31 L348.5 1986.57 L349.5 1982.57 L350.5 1978.29 L351.5 1973.75 L352.5 1968.95 L353.5 1963.91 L354.5 1958.63 L355.5 1953.13 L356.5 1947.44 L357.5 1941.58 L358.5 1935.59 L359.5 1929.49 L360.5 1923.33 L361.5 1917.17 L362.5 1911.03 L363.5 1905 L364.5 1899.12 L365.5 1893.47 L366.5 1888.11 L367.5 1883.12 L368.5 1878.58 L369.5 1874.56 L370.5 1871.13 L371.5 1868.36 L372.5 1866.31 L373.5 1865.01 L374.5 1864.5 L375.5 1864.79 L376.5 1865.88 L377.5 1867.74 L378.5 1870.33 L379.5 1873.61 L380.5 1877.5 L381.5 1881.95 L382.5 1886.87 L383.5 1892.2 L384.5 1897.85 L385.5 1903.75 L386.5 1909.84 L387.5 1916.04 L388.5 1922.31 L389.5 1928.59 L390.5 1934.83 L391.5 1940.98 L392.5 1947.01 L393.5 1952.89 L394.5 1958.58 L395.5 1964.07 L396.5 1969.33 L397.5 1974.35 L398.5 1979.11 L399.5 1983.62 L400.5 1987.86 L401.5 1991.84 L402.5 1995.55 L403.5 1999 L404.5 2002.2 L405.5 2005.15 L406.5 2007.86 L407.5 2010.35 L408.5 2012.63 L409.5 2014.71 L410.5 2016.59 L411.5 2018.31 L412.5 2019.86 L413.5 2021.26 L414.5 2022.52 L415.5 2023.66 L416.5 2024.68 L417.5 2025.61 L418.5 2026.44 L419.5 2027.19 L420.5 2027.87 L421.5 2028.48 L422.5 2029.03 L423.5 2029.53 L424.5 2029.98 L425.5 2030.4 L426.5 2030.78 L427.5 2031.13 L428.5 2031.45 L429.5 2031.74 L430.5 2032.02 L431.5 2032.27 L432.5 2032.52 L433.5 2032.74 L434.5 2032.95 L435.5 2033.15 L436.5 2033.34 L437.5 2033.53 L438.5 2033.7 L439.5 2033.86 L440.5 2034.02 L441.5 2034.17 L442.5 2034.32 L443.5 2034.46 L444.5 2034.59 L445.5 2034.72 L446.5 2034.85 L447.5 2034.97 L448.5 2035.09 L449.5 2035.2 L450.5 2035.31 L451.5 2035.42 L452.5 2035.53 L453.5 2035.63 L454.5 2035.73 L455.5 2035.82 L456.5 2035.91 L457.5 2036.01 L458.5 2036.09 L459.5 2036.18 L460.5 2036.26 L461.5 2036.35 L462.5 2036.43 L463.5 2036.51 L464.5 2036.58 L465.5 2036.66 L466.5 2036.73 L467.5 2036.8 L468.5 2036.87 L469.5 2036.94 L470.5 2037.01 L471.5 2037.07 L472.5 2037.14 L473.5 2037.2 L474.5 2037.26 L475.5 2037.32 L476.5 2037.38 L477.5 2037.44 L478.5 2037.5 L479.5 2037.55 L480.5 2037.61 L481.5 2037.66 L482.5 2037.72 L483.5 2037.77 L484.5 2037.82 L485.5 2037.87 L486.5 2037.92 L487.5 2037.97 L488.5 2038.02 L489.5 2038.07 L490.5 2038.12 L491.5 2038.16 L492.5 2038.21 L493.5 2038.25 L494.5 2038.3 L495.5 2038.34 L496.5 2038.39 L497.5 2038.43 L498.5 2038.47 L499.5 2038.51 L500.5 2038.55 L501.5 2038.59 L502.5 2038.63 L503.5 2038.67 L504.5 2038.71 L505.5 2038.75 L506.5 2038.79 L507.5 2038.83 L508.5 2038.87 L509.5 2038.9 L510.5 2038.94 L511.5 2038.98 L512.5 2039.01 L513.5 2039.05 L514.5 2039.08 L515.5 2039.12 L516.5 2039.15 L517.5 2039.19 L518.5 2039.22 L519.5 2039.26 L520.5 2039.29 L521.5 2039.32 L522.5 2039.36 L523.5 2039.39 L524.5 2039.42 L525.5 2039.45 L526.5 2039.48 L527.5 2039.52 L528.5 2039.55 L529.5 2039.58 L530.5 2039.61 L531.5 2039.64 L532.5 2039.67 L533.5 2039.7 L534.5 2039.73 L535.5 2039.76 L536.5 2039.79 L537.5 2039.82 L538.5 2039.85 L539.5 2039.88 L540.5 2039.91 L541.5 2039.93 L542.5 2039.96 L543.5 2039.99 L544.5 2040.02 L545.5 2040.05 L546.5 2040.08 L547.5 2040.1 L548.5 2040.13 L549.5 2040.16 L550.5 2040.19 L551.5 2040.21 L552.5 2040.24 L553.5 2040.27 L554.5 2040.29 L555.5 2040.32 L556.5 2040.35 L557.5 2040.37 L558.5 2040.4 L559.5 2040.42 L560.5 2040.45 L561.5 2040.48 L562.5 2040.5 L563.5 2040.53 L564.5 2040.55 L565.5 2040.58 L566.5 2040.6 L567.5 2040.63 L568.5 2040.65 L569.5 2040.68 L570.5 2040.7 L571.5 2040.73 L572.5 2040.75 L573.5 2040.78 L574.5 2040.8 L575.5 2040.83 L576.5 2040.85 L577.5 2040.87 L578.5 2040.9 L579.5 2040.92 L580.5 2040.95 L581.5 2040.97 L582.5 2040.99 L583.5 2041.02" fill="none" stroke="#30a84e" stroke-width="6.4" stroke-linejoin="round" stroke-dasharray="2 9.9" stroke-linecap="round" clip-path="url(#clip_c2)"/>
<rect x="183.5" y="1065" width="401.5" height="986" fill="none" stroke="#231f20" stroke-width="2.3"/>
<line x1="183.5" y1="1394.4" x2="585" y2="1394.4" stroke="#231f20" stroke-width="2.3"/>
<line x1="183.5" y1="1722" x2="585" y2="1722" stroke="#231f20" stroke-width="2.3"/>
<line x1="183.5" y1="1322.79" x2="192" y2="1322.79" stroke="#231f20" stroke-width="2.2"/>
<line x1="585" y1="1322.79" x2="576.5" y2="1322.79" stroke="#231f20" stroke-width="2.2"/>
<line x1="183.5" y1="1251.18" x2="192" y2="1251.18" stroke="#231f20" stroke-width="2.2"/>
<line x1="585" y1="1251.18" x2="576.5" y2="1251.18" stroke="#231f20" stroke-width="2.2"/>
<line x1="183.5" y1="1179.57" x2="192" y2="1179.57" stroke="#231f20" stroke-width="2.2"/>
<line x1="585" y1="1179.57" x2="576.5" y2="1179.57" stroke="#231f20" stroke-width="2.2"/>
<line x1="183.5" y1="1107.97" x2="192" y2="1107.97" stroke="#231f20" stroke-width="2.2"/>
<line x1="585" y1="1107.97" x2="576.5" y2="1107.97" stroke="#231f20" stroke-width="2.2"/>
<line x1="284.3" y1="1394.4" x2="284.3" y2="1385.9" stroke="#231f20" stroke-width="2.2"/>
<line x1="284.3" y1="1065" x2="284.3" y2="1073.5" stroke="#231f20" stroke-width="2.2"/>
<line x1="384.6" y1="1394.4" x2="384.6" y2="1385.9" stroke="#231f20" stroke-width="2.2"/>
<line x1="384.6" y1="1065" x2="384.6" y2="1073.5" stroke="#231f20" stroke-width="2.2"/>
<line x1="484.2" y1="1394.4" x2="484.2" y2="1385.9" stroke="#231f20" stroke-width="2.2"/>
<line x1="484.2" y1="1065" x2="484.2" y2="1073.5" stroke="#231f20" stroke-width="2.2"/>
<text x="169" y="1117.95" font-size="29.3" fill="#231f20" text-anchor="end">40</text>
<text x="169" y="1189.56" font-size="29.3" fill="#231f20" text-anchor="end">30</text>
<text x="169" y="1261.17" font-size="29.3" fill="#231f20" text-anchor="end">20</text>
<text x="169" y="1332.78" font-size="29.3" fill="#231f20" text-anchor="end">10</text>
<text x="169" y="1404.39" font-size="29.3" fill="#231f20" text-anchor="end">0</text>
<text transform="translate(110.8 1229.7) rotate(-90)" text-anchor="middle" font-size="29.3" fill="#231f20">Intensity (a.u)</text>
<line x1="183.5" y1="1650.78" x2="192" y2="1650.78" stroke="#231f20" stroke-width="2.2"/>
<line x1="585" y1="1650.78" x2="576.5" y2="1650.78" stroke="#231f20" stroke-width="2.2"/>
<line x1="183.5" y1="1579.57" x2="192" y2="1579.57" stroke="#231f20" stroke-width="2.2"/>
<line x1="585" y1="1579.57" x2="576.5" y2="1579.57" stroke="#231f20" stroke-width="2.2"/>
<line x1="183.5" y1="1508.35" x2="192" y2="1508.35" stroke="#231f20" stroke-width="2.2"/>
<line x1="585" y1="1508.35" x2="576.5" y2="1508.35" stroke="#231f20" stroke-width="2.2"/>
<line x1="183.5" y1="1437.13" x2="192" y2="1437.13" stroke="#231f20" stroke-width="2.2"/>
<line x1="585" y1="1437.13" x2="576.5" y2="1437.13" stroke="#231f20" stroke-width="2.2"/>
<line x1="284.3" y1="1722" x2="284.3" y2="1713.5" stroke="#231f20" stroke-width="2.2"/>
<line x1="284.3" y1="1394.4" x2="284.3" y2="1402.9" stroke="#231f20" stroke-width="2.2"/>
<line x1="384.6" y1="1722" x2="384.6" y2="1713.5" stroke="#231f20" stroke-width="2.2"/>
<line x1="384.6" y1="1394.4" x2="384.6" y2="1402.9" stroke="#231f20" stroke-width="2.2"/>
<line x1="484.2" y1="1722" x2="484.2" y2="1713.5" stroke="#231f20" stroke-width="2.2"/>
<line x1="484.2" y1="1394.4" x2="484.2" y2="1402.9" stroke="#231f20" stroke-width="2.2"/>
<text x="169" y="1447.12" font-size="29.3" fill="#231f20" text-anchor="end">40</text>
<text x="169" y="1518.34" font-size="29.3" fill="#231f20" text-anchor="end">30</text>
<text x="169" y="1589.55" font-size="29.3" fill="#231f20" text-anchor="end">20</text>
<text x="169" y="1660.77" font-size="29.3" fill="#231f20" text-anchor="end">10</text>
<text x="169" y="1731.99" font-size="29.3" fill="#231f20" text-anchor="end">0</text>
<text transform="translate(110.8 1558.2) rotate(-90)" text-anchor="middle" font-size="29.3" fill="#231f20">Intensity (a.u)</text>
<line x1="183.5" y1="1979.48" x2="192" y2="1979.48" stroke="#231f20" stroke-width="2.2"/>
<line x1="585" y1="1979.48" x2="576.5" y2="1979.48" stroke="#231f20" stroke-width="2.2"/>
<line x1="183.5" y1="1907.96" x2="192" y2="1907.96" stroke="#231f20" stroke-width="2.2"/>
<line x1="585" y1="1907.96" x2="576.5" y2="1907.96" stroke="#231f20" stroke-width="2.2"/>
<line x1="183.5" y1="1836.43" x2="192" y2="1836.43" stroke="#231f20" stroke-width="2.2"/>
<line x1="585" y1="1836.43" x2="576.5" y2="1836.43" stroke="#231f20" stroke-width="2.2"/>
<line x1="183.5" y1="1764.91" x2="192" y2="1764.91" stroke="#231f20" stroke-width="2.2"/>
<line x1="585" y1="1764.91" x2="576.5" y2="1764.91" stroke="#231f20" stroke-width="2.2"/>
<line x1="284.3" y1="2051" x2="284.3" y2="2042.5" stroke="#231f20" stroke-width="2.2"/>
<line x1="284.3" y1="1722" x2="284.3" y2="1730.5" stroke="#231f20" stroke-width="2.2"/>
<line x1="384.6" y1="2051" x2="384.6" y2="2042.5" stroke="#231f20" stroke-width="2.2"/>
<line x1="384.6" y1="1722" x2="384.6" y2="1730.5" stroke="#231f20" stroke-width="2.2"/>
<line x1="484.2" y1="2051" x2="484.2" y2="2042.5" stroke="#231f20" stroke-width="2.2"/>
<line x1="484.2" y1="1722" x2="484.2" y2="1730.5" stroke="#231f20" stroke-width="2.2"/>
<text x="169" y="1774.9" font-size="29.3" fill="#231f20" text-anchor="end">40</text>
<text x="169" y="1846.42" font-size="29.3" fill="#231f20" text-anchor="end">30</text>
<text x="169" y="1917.95" font-size="29.3" fill="#231f20" text-anchor="end">20</text>
<text x="169" y="1989.47" font-size="29.3" fill="#231f20" text-anchor="end">10</text>
<text x="169" y="2060.99" font-size="29.3" fill="#231f20" text-anchor="end">0</text>
<text transform="translate(110.8 1886.5) rotate(-90)" text-anchor="middle" font-size="29.3" fill="#231f20">Intensity (a.u)</text>
<text x="184" y="2088.89" font-size="29.3" fill="#231f20" text-anchor="middle">4.50</text>
<text x="384.5" y="2088.89" font-size="29.3" fill="#231f20" text-anchor="middle">4.60</text>
<text x="585" y="2088.89" font-size="29.3" fill="#231f20" text-anchor="middle">4.70</text>
<text x="350.4" y="2135" font-size="29.3" fill="#231f20" font-style="italic">d</text>
<text x="373" y="2135" font-size="29.3" fill="#231f20">(Å)</text>
<clipPath id="clip_d0"><rect x="883.4" y="1064.2" width="400.2" height="330.3"/></clipPath>
<clipPath id="clip_d1"><rect x="883.4" y="1394.5" width="400.2" height="328.1"/></clipPath>
<clipPath id="clip_d2"><rect x="883.4" y="1722.6" width="400.2" height="329"/></clipPath>
<line x1="959.6" y1="1082" x2="959.2" y2="1215.6" stroke="#bcbec0" stroke-width="5"/>
<line x1="959.2" y1="1215.6" x2="904.6" y2="1264.1" stroke="#bcbec0" stroke-width="5"/>
<line x1="959.2" y1="1215.6" x2="1095" y2="1236.7" stroke="#bcbec0" stroke-width="5"/>
<circle cx="959.2" cy="1215.6" r="14" fill="url(#sph)"/>
<path d="M959.6 1150.6 L1092.3 1166.2 L1043.8 1217.4 L907.4 1201 Z" fill="#f2b79c" fill-opacity="0.8" stroke="#e0508e" stroke-width="0.9"/>
<ellipse cx="1001" cy="1183" rx="72.9" ry="24.8" fill="none" stroke="#b8352b" stroke-width="2.4" transform="rotate(-1 1001 1183)"/>
<line x1="997.6" y1="1183.5" x2="1058.16" y2="1191.46" stroke="#b8352b" stroke-width="1.8"/>
<path d="M1058.16 1191.46 L1042.57 1194.96 L1044.01 1184.05 Z" fill="#b8352b"/>
<line x1="997.6" y1="1183.5" x2="1022" y2="1203.04" stroke="#b8352b" stroke-width="1.8"/>
<path d="M1022 1203.04 L1006.85 1197.96 L1013.73 1189.37 Z" fill="#b8352b"/>
<line x1="997.6" y1="1183.5" x2="973.54" y2="1202.87" stroke="#b8352b" stroke-width="1.8"/>
<path d="M973.54 1202.87 L981.77 1189.18 L988.67 1197.75 Z" fill="#b8352b"/>
<line x1="997.6" y1="1183.5" x2="941.16" y2="1191.07" stroke="#b8352b" stroke-width="1.8"/>
<path d="M941.16 1191.07 L955.3 1183.62 L956.76 1194.53 Z" fill="#b8352b"/>
<line x1="997.6" y1="1183.5" x2="943.84" y2="1174.54" stroke="#b8352b" stroke-width="1.8"/>
<path d="M943.84 1174.54 L959.54 1171.58 L957.73 1182.43 Z" fill="#b8352b"/>
<line x1="997.6" y1="1183.5" x2="980" y2="1162.96" stroke="#b8352b" stroke-width="1.8"/>
<path d="M980 1162.96 L993.94 1170.77 L985.58 1177.93 Z" fill="#b8352b"/>
<line x1="997.6" y1="1183.5" x2="1028.46" y2="1163.13" stroke="#b8352b" stroke-width="1.8"/>
<path d="M1028.46 1163.13 L1018.97 1175.98 L1012.91 1166.8 Z" fill="#b8352b"/>
<line x1="997.6" y1="1183.5" x2="1060.84" y2="1174.93" stroke="#b8352b" stroke-width="1.8"/>
<path d="M1060.84 1174.93 L1046.71 1182.39 L1045.23 1171.49 Z" fill="#b8352b"/>
<line x1="958.6" y1="1215.6" x2="997.6" y2="1183.5" stroke="#d9412e" stroke-width="5" stroke-linecap="round"/>
<circle cx="997.6" cy="1183.5" r="10.8" fill="url(#mag2)"/>
<line x1="997.6" y1="1183.5" x2="1062" y2="1131.7" stroke="#d9412e" stroke-width="5" stroke-linecap="round"/>
<line x1="959.6" y1="1082" x2="1095.4" y2="1102.1" stroke="#231f20" stroke-width="5.2"/>
<line x1="959.6" y1="1082" x2="904.6" y2="1126.8" stroke="#231f20" stroke-width="5.2"/>
<line x1="1095.4" y1="1102.1" x2="1040.5" y2="1148.2" stroke="#231f20" stroke-width="5.2"/>
<line x1="904.6" y1="1126.8" x2="1040.5" y2="1148.2" stroke="#231f20" stroke-width="5.2"/>
<line x1="904.6" y1="1126.8" x2="904.6" y2="1264.1" stroke="#231f20" stroke-width="5.2"/>
<line x1="1040.5" y1="1148.2" x2="1040.1" y2="1282.4" stroke="#231f20" stroke-width="5.2"/>
<line x1="1095.4" y1="1102.1" x2="1095" y2="1236.7" stroke="#231f20" stroke-width="5.2"/>
<line x1="904.6" y1="1264.1" x2="1040.1" y2="1282.4" stroke="#231f20" stroke-width="5.2"/>
<line x1="1040.1" y1="1282.4" x2="1095" y2="1236.7" stroke="#231f20" stroke-width="5.2"/>
<circle cx="959.6" cy="1082" r="14" fill="url(#sph)"/>
<circle cx="1095.4" cy="1102.1" r="14" fill="url(#sph)"/>
<circle cx="904.6" cy="1126.8" r="14" fill="url(#sph)"/>
<circle cx="1040.5" cy="1148.2" r="14" fill="url(#sph)"/>
<circle cx="1095" cy="1236.7" r="14" fill="url(#sph)"/>
<circle cx="904.6" cy="1264.1" r="14" fill="url(#sph)"/>
<circle cx="1040.1" cy="1282.4" r="14" fill="url(#sph)"/>
<line x1="948.6" y1="1090.96" x2="959.6" y2="1082" stroke="#231f20" stroke-width="5.2" stroke-linecap="round"/>
<line x1="1084.42" y1="1111.32" x2="1095.4" y2="1102.1" stroke="#231f20" stroke-width="5.2" stroke-linecap="round"/>
<line x1="1084.02" y1="1245.84" x2="1095" y2="1236.7" stroke="#231f20" stroke-width="5.2" stroke-linecap="round"/>
<line x1="1046" y1="1144.3" x2="1062" y2="1131.7" stroke="#d9412e" stroke-width="5" stroke-linecap="round"/>
<path d="M1080.4 1116.8 L1071.47 1145.2 L1051.55 1124.13 Z" fill="#d9412e"/>
<line x1="921.47" y1="1260.73" x2="1078.13" y2="1239.57" stroke="#000" stroke-width="3.8"/>
<path d="M1092 1237.7 L1073.94 1245.94 L1072.4 1234.54 Z" fill="#000"/>
<path d="M907.6 1262.6 L925.66 1254.36 L927.2 1265.76 Z" fill="#000"/>
<text x="1014.3" y="1268.7" font-size="24" fill="#231f20">k</text>
<g clip-path="url(#clip_d0)">
<path d="M890.9 1381.24 V1389.36 M886.65 1381.24 H895.15 M886.65 1389.36 H895.15 M898.5 1370.35 V1381.85 M894.25 1370.35 H902.75 M894.25 1381.85 H902.75 M906.9 1376.2 V1386 M902.65 1376.2 H911.15 M902.65 1386 H911.15 M915.2 1365.53 V1378.27 M910.95 1365.53 H919.45 M910.95 1378.27 H919.45 M922.8 1371.28 V1382.52 M918.55 1371.28 H927.05 M918.55 1382.52 H927.05 M931.2 1365.53 V1378.27 M926.95 1365.53 H935.45 M926.95 1378.27 H935.45 M938.7 1371.28 V1382.52 M934.45 1371.28 H942.95 M934.45 1382.52 H942.95 M947.1 1371.28 V1382.52 M942.85 1371.28 H951.35 M942.85 1382.52 H951.35 M955.5 1375.25 V1385.35 M951.25 1375.25 H959.75 M951.25 1385.35 H959.75 M963.9 1373.26 V1383.94 M959.65 1373.26 H968.15 M959.65 1383.94 H968.15 M971.5 1375.25 V1385.35 M967.25 1375.25 H975.75 M967.25 1385.35 H975.75 M979.8 1363.6 V1376.8 M975.55 1363.6 H984.05 M975.55 1376.8 H984.05 M987.4 1359.75 V1373.85 M983.15 1359.75 H991.65 M983.15 1373.85 H991.65 M995.8 1356.04 V1370.96 M991.55 1356.04 H1000.05 M991.55 1370.96 H1000.05 M1003.3 1353.25 V1368.75 M999.05 1353.25 H1007.55 M999.05 1368.75 H1007.55 M1011.7 1340.18 V1358.22 M1007.45 1340.18 H1015.95 M1007.45 1358.22 H1015.95 M1019.3 1338.31 V1356.69 M1015.05 1338.31 H1023.55 M1015.05 1356.69 H1023.55 M1027.7 1343.93 V1361.27 M1023.45 1343.93 H1031.95 M1023.45 1361.27 H1031.95 M1035.2 1343.93 V1361.27 M1030.95 1343.93 H1039.45 M1030.95 1361.27 H1039.45 M1042.8 1343.93 V1361.27 M1038.55 1343.93 H1047.05 M1038.55 1361.27 H1047.05 M1051.2 1358.85 V1373.15 M1046.95 1358.85 H1055.45 M1046.95 1373.15 H1055.45 M1059.6 1358.85 V1373.15 M1055.35 1358.85 H1063.85 M1055.35 1373.15 H1063.85 M1067.1 1356.94 V1371.66 M1062.85 1356.94 H1071.35 M1062.85 1371.66 H1071.35 M1075.5 1360.76 V1374.64 M1071.25 1360.76 H1079.75 M1071.25 1374.64 H1079.75 M1083.5 1367.02 V1379.38 M1079.25 1367.02 H1087.75 M1079.25 1379.38 H1087.75 M1091.7 1358.73 V1373.07 M1087.45 1358.73 H1095.95 M1087.45 1373.07 H1095.95 M1099.2 1336.45 V1355.15 M1094.95 1336.45 H1103.45 M1094.95 1355.15 H1103.45 M1107.2 1326.84 V1347.16 M1102.95 1326.84 H1111.45 M1102.95 1347.16 H1111.45 M1115.2 1239.49 V1271.11 M1110.95 1239.49 H1119.45 M1110.95 1271.11 H1119.45 M1123.6 1211.55 V1246.05 M1119.35 1211.55 H1127.85 M1119.35 1246.05 H1127.85 M1131.6 1232.73 V1265.07 M1127.35 1232.73 H1135.85 M1127.35 1265.07 H1135.85 M1140.1 1279.4 V1306.4 M1135.85 1279.4 H1144.35 M1135.85 1306.4 H1144.35 M1147.3 1305.96 V1329.44 M1143.05 1305.96 H1151.55 M1143.05 1329.44 H1151.55 M1155.3 1335.57 V1354.43 M1151.05 1335.57 H1159.55 M1151.05 1354.43 H1159.55 M1163.6 1341.72 V1359.48 M1159.35 1341.72 H1167.85 M1159.35 1359.48 H1167.85 M1171.3 1352.35 V1368.05 M1167.05 1352.35 H1175.55 M1167.05 1368.05 H1175.55 M1179.3 1354.14 V1369.46 M1175.05 1354.14 H1183.55 M1175.05 1369.46 H1183.55 M1187.6 1369.54 V1381.26 M1183.35 1369.54 H1191.85 M1183.35 1381.26 H1191.85 M1195.3 1371.4 V1382.6 M1191.05 1371.4 H1199.55 M1191.05 1382.6 H1199.55 M1203.3 1362.23 V1375.77 M1199.05 1362.23 H1207.55 M1199.05 1375.77 H1207.55 M1211.3 1373.26 V1383.94 M1207.05 1373.26 H1215.55 M1207.05 1383.94 H1215.55 M1219.4 1370.47 V1381.93 M1215.15 1370.47 H1223.65 M1215.15 1381.93 H1223.65 M1227.4 1373.26 V1383.94 M1223.15 1373.26 H1231.65 M1223.15 1383.94 H1231.65 M1235.4 1375.13 V1385.27 M1231.15 1375.13 H1239.65 M1231.15 1385.27 H1239.65 M1243.4 1377.03 V1386.57 M1239.15 1377.03 H1247.65 M1239.15 1386.57 H1247.65 M1251.4 1375.13 V1385.27 M1247.15 1375.13 H1255.65 M1247.15 1385.27 H1255.65 M1259.4 1370.47 V1381.93 M1255.15 1370.47 H1263.65 M1255.15 1381.93 H1263.65 M1267.4 1376.08 V1385.92 M1263.15 1376.08 H1271.65 M1263.15 1385.92 H1271.65 M1275.4 1368.62 V1380.58 M1271.15 1368.62 H1279.65 M1271.15 1380.58 H1279.65" fill="none" stroke="#c0392e" stroke-width="1.8"/>
<circle cx="890.9" cy="1385.3" r="3.4" fill="#fff" stroke="#c0392e" stroke-width="1.9"/>
<circle cx="898.5" cy="1376.1" r="3.4" fill="#fff" stroke="#c0392e" stroke-width="1.9"/>
<circle cx="906.9" cy="1381.1" r="3.4" fill="#fff" stroke="#c0392e" stroke-width="1.9"/>
<circle cx="915.2" cy="1371.9" r="3.4" fill="#fff" stroke="#c0392e" stroke-width="1.9"/>
<circle cx="922.8" cy="1376.9" r="3.4" fill="#fff" stroke="#c0392e" stroke-width="1.9"/>
<circle cx="931.2" cy="1371.9" r="3.4" fill="#fff" stroke="#c0392e" stroke-width="1.9"/>
<circle cx="938.7" cy="1376.9" r="3.4" fill="#fff" stroke="#c0392e" stroke-width="1.9"/>
<circle cx="947.1" cy="1376.9" r="3.4" fill="#fff" stroke="#c0392e" stroke-width="1.9"/>
<circle cx="955.5" cy="1380.3" r="3.4" fill="#fff" stroke="#c0392e" stroke-width="1.9"/>
<circle cx="963.9" cy="1378.6" r="3.4" fill="#fff" stroke="#c0392e" stroke-width="1.9"/>
<circle cx="971.5" cy="1380.3" r="3.4" fill="#fff" stroke="#c0392e" stroke-width="1.9"/>
<circle cx="979.8" cy="1370.2" r="3.4" fill="#fff" stroke="#c0392e" stroke-width="1.9"/>
<circle cx="987.4" cy="1366.8" r="3.4" fill="#fff" stroke="#c0392e" stroke-width="1.9"/>
<circle cx="995.8" cy="1363.5" r="3.4" fill="#fff" stroke="#c0392e" stroke-width="1.9"/>
<circle cx="1003.3" cy="1361" r="3.4" fill="#fff" stroke="#c0392e" stroke-width="1.9"/>
<circle cx="1011.7" cy="1349.2" r="3.4" fill="#fff" stroke="#c0392e" stroke-width="1.9"/>
<circle cx="1019.3" cy="1347.5" r="3.4" fill="#fff" stroke="#c0392e" stroke-width="1.9"/>
<circle cx="1027.7" cy="1352.6" r="3.4" fill="#fff" stroke="#c0392e" stroke-width="1.9"/>
<circle cx="1035.2" cy="1352.6" r="3.4" fill="#fff" stroke="#c0392e" stroke-width="1.9"/>
<circle cx="1042.8" cy="1352.6" r="3.4" fill="#fff" stroke="#c0392e" stroke-width="1.9"/>
<circle cx="1051.2" cy="1366" r="3.4" fill="#fff" stroke="#c0392e" stroke-width="1.9"/>
<circle cx="1059.6" cy="1366" r="3.4" fill="#fff" stroke="#c0392e" stroke-width="1.9"/>
<circle cx="1067.1" cy="1364.3" r="3.4" fill="#fff" stroke="#c0392e" stroke-width="1.9"/>
<circle cx="1075.5" cy="1367.7" r="3.4" fill="#fff" stroke="#c0392e" stroke-width="1.9"/>
<circle cx="1083.5" cy="1373.2" r="3.4" fill="#fff" stroke="#c0392e" stroke-width="1.9"/>
<circle cx="1091.7" cy="1365.9" r="3.4" fill="#fff" stroke="#c0392e" stroke-width="1.9"/>
<circle cx="1099.2" cy="1345.8" r="3.4" fill="#fff" stroke="#c0392e" stroke-width="1.9"/>
<circle cx="1107.2" cy="1337" r="3.4" fill="#fff" stroke="#c0392e" stroke-width="1.9"/>
<circle cx="1115.2" cy="1255.3" r="3.4" fill="#fff" stroke="#c0392e" stroke-width="1.9"/>
<circle cx="1123.6" cy="1228.8" r="3.4" fill="#fff" stroke="#c0392e" stroke-width="1.9"/>
<circle cx="1131.6" cy="1248.9" r="3.4" fill="#fff" stroke="#c0392e" stroke-width="1.9"/>
<circle cx="1140.1" cy="1292.9" r="3.4" fill="#fff" stroke="#c0392e" stroke-width="1.9"/>
<circle cx="1147.3" cy="1317.7" r="3.4" fill="#fff" stroke="#c0392e" stroke-width="1.9"/>
<circle cx="1155.3" cy="1345" r="3.4" fill="#fff" stroke="#c0392e" stroke-width="1.9"/>
<circle cx="1163.6" cy="1350.6" r="3.4" fill="#fff" stroke="#c0392e" stroke-width="1.9"/>
<circle cx="1171.3" cy="1360.2" r="3.4" fill="#fff" stroke="#c0392e" stroke-width="1.9"/>
<circle cx="1179.3" cy="1361.8" r="3.4" fill="#fff" stroke="#c0392e" stroke-width="1.9"/>
<circle cx="1187.6" cy="1375.4" r="3.4" fill="#fff" stroke="#c0392e" stroke-width="1.9"/>
<circle cx="1195.3" cy="1377" r="3.4" fill="#fff" stroke="#c0392e" stroke-width="1.9"/>
<circle cx="1203.3" cy="1369" r="3.4" fill="#fff" stroke="#c0392e" stroke-width="1.9"/>
<circle cx="1211.3" cy="1378.6" r="3.4" fill="#fff" stroke="#c0392e" stroke-width="1.9"/>
<circle cx="1219.4" cy="1376.2" r="3.4" fill="#fff" stroke="#c0392e" stroke-width="1.9"/>
<circle cx="1227.4" cy="1378.6" r="3.4" fill="#fff" stroke="#c0392e" stroke-width="1.9"/>
<circle cx="1235.4" cy="1380.2" r="3.4" fill="#fff" stroke="#c0392e" stroke-width="1.9"/>
<circle cx="1243.4" cy="1381.8" r="3.4" fill="#fff" stroke="#c0392e" stroke-width="1.9"/>
<circle cx="1251.4" cy="1380.2" r="3.4" fill="#fff" stroke="#c0392e" stroke-width="1.9"/>
<circle cx="1259.4" cy="1376.2" r="3.4" fill="#fff" stroke="#c0392e" stroke-width="1.9"/>
<circle cx="1267.4" cy="1381" r="3.4" fill="#fff" stroke="#c0392e" stroke-width="1.9"/>
<circle cx="1275.4" cy="1374.6" r="3.4" fill="#fff" stroke="#c0392e" stroke-width="1.9"/>
</g>
<path d="M883.4 1378.39 L884.4 1378.39 L885.4 1378.38 L886.4 1378.38 L887.4 1378.38 L888.4 1378.37 L889.4 1378.37 L890.4 1378.37 L891.4 1378.36 L892.4 1378.36 L893.4 1378.36 L894.4 1378.35 L895.4 1378.35 L896.4 1378.35 L897.4 1378.34 L898.4 1378.34 L899.4 1378.33 L900.4 1378.33 L901.4 1378.33 L902.4 1378.32 L903.4 1378.32 L904.4 1378.31 L905.4 1378.31 L906.4 1378.31 L907.4 1378.3 L908.4 1378.3 L909.4 1378.29 L910.4 1378.29 L911.4 1378.28 L912.4 1378.28 L913.4 1378.27 L914.4 1378.27 L915.4 1378.26 L916.4 1378.26 L917.4 1378.25 L918.4 1378.25 L919.4 1378.24 L920.4 1378.23 L921.4 1378.23 L922.4 1378.22 L923.4 1378.22 L924.4 1378.21 L925.4 1378.2 L926.4 1378.2 L927.4 1378.19 L928.4 1378.18 L929.4 1378.18 L930.4 1378.17 L931.4 1378.16 L932.4 1378.15 L933.4 1378.15 L934.4 1378.14 L935.4 1378.13 L936.4 1378.12 L937.4 1378.11 L938.4 1378.1 L939.4 1378.09 L940.4 1378.08 L941.4 1378.07 L942.4 1378.07 L943.4 1378.05 L944.4 1378.04 L945.4 1378.03 L946.4 1378.02 L947.4 1378.01 L948.4 1378 L949.4 1377.99 L950.4 1377.97 L951.4 1377.96 L952.4 1377.95 L953.4 1377.94 L954.4 1377.92 L955.4 1377.91 L956.4 1377.89 L957.4 1377.88 L958.4 1377.86 L959.4 1377.84 L960.4 1377.82 L961.4 1377.81 L962.4 1377.79 L963.4 1377.77 L964.4 1377.75 L965.4 1377.73 L966.4 1377.7 L967.4 1377.68 L968.4 1377.65 L969.4 1377.63 L970.4 1377.6 L971.4 1377.57 L972.4 1377.54 L973.4 1377.5 L974.4 1377.46 L975.4 1377.42 L976.4 1377.38 L977.4 1377.33 L978.4 1377.27 L979.4 1377.2 L980.4 1377.13 L981.4 1377.04 L982.4 1376.94 L983.4 1376.82 L984.4 1376.69 L985.4 1376.52 L986.4 1376.34 L987.4 1376.12 L988.4 1375.86 L989.4 1375.55 L990.4 1375.2 L991.4 1374.8 L992.4 1374.33 L993.4 1373.79 L994.4 1373.17 L995.4 1372.48 L996.4 1371.69 L997.4 1370.81 L998.4 1369.84 L999.4 1368.77 L1000.4 1367.59 L1001.4 1366.32 L1002.4 1364.96 L1003.4 1363.5 L1004.4 1361.97 L1005.4 1360.37 L1006.4 1358.71 L1007.4 1357.02 L1008.4 1355.31 L1009.4 1353.61 L1010.4 1351.94 L1011.4 1350.32 L1012.4 1348.8 L1013.4 1347.4 L1014.4 1346.14 L1015.4 1345.07 L1016.4 1344.2 L1017.4 1343.56 L1018.4 1343.17 L1019.4 1343.05 L1020.4 1343.18 L1021.4 1343.58 L1022.4 1344.22 L1023.4 1345.09 L1024.4 1346.16 L1025.4 1347.41 L1026.4 1348.79 L1027.4 1350.29 L1028.4 1351.88 L1029.4 1353.51 L1030.4 1355.17 L1031.4 1356.83 L1032.4 1358.47 L1033.4 1360.08 L1034.4 1361.62 L1035.4 1363.09 L1036.4 1364.48 L1037.4 1365.78 L1038.4 1366.98 L1039.4 1368.08 L1040.4 1369.08 L1041.4 1369.99 L1042.4 1370.79 L1043.4 1371.5 L1044.4 1372.13 L1045.4 1372.67 L1046.4 1373.13 L1047.4 1373.53 L1048.4 1373.87 L1049.4 1374.14 L1050.4 1374.37 L1051.4 1374.56 L1052.4 1374.7 L1053.4 1374.81 L1054.4 1374.9 L1055.4 1374.95 L1056.4 1374.99 L1057.4 1375.01 L1058.4 1375.01 L1059.4 1374.99 L1060.4 1374.97 L1061.4 1374.93 L1062.4 1374.88 L1063.4 1374.82 L1064.4 1374.75 L1065.4 1374.67 L1066.4 1374.58 L1067.4 1374.48 L1068.4 1374.37 L1069.4 1374.25 L1070.4 1374.11 L1071.4 1373.96 L1072.4 1373.79 L1073.4 1373.61 L1074.4 1373.4 L1075.4 1373.18 L1076.4 1372.92 L1077.4 1372.64 L1078.4 1372.32 L1079.4 1371.97 L1080.4 1371.57 L1081.4 1371.13 L1082.4 1370.63 L1083.4 1370.08 L1084.4 1369.46 L1085.4 1368.76 L1086.4 1367.99 L1087.4 1367.13 L1088.4 1366.17 L1089.4 1365.11 L1090.4 1363.93 L1091.4 1362.63 L1092.4 1361.19 L1093.4 1359.62 L1094.4 1357.89 L1095.4 1356.01 L1096.4 1353.96 L1097.4 1351.73 L1098.4 1349.33 L1099.4 1346.74 L1100.4 1343.96 L1101.4 1340.99 L1102.4 1337.83 L1103.4 1334.48 L1104.4 1330.95 L1105.4 1327.23 L1106.4 1323.35 L1107.4 1319.31 L1108.4 1315.12 L1109.4 1310.81 L1110.4 1306.39 L1111.4 1301.88 L1112.4 1297.32 L1113.4 1292.73 L1114.4 1288.14 L1115.4 1283.59 L1116.4 1279.12 L1117.4 1274.77 L1118.4 1270.59 L1119.4 1266.61 L1120.4 1262.9 L1121.4 1259.5 L1122.4 1256.45 L1123.4 1253.81 L1124.4 1251.61 L1125.4 1249.9 L1126.4 1248.7 L1127.4 1248.04 L1128.4 1247.93 L1129.4 1248.38 L1130.4 1249.36 L1131.4 1250.88 L1132.4 1252.89 L1133.4 1255.36 L1134.4 1258.26 L1135.4 1261.53 L1136.4 1265.13 L1137.4 1269.01 L1138.4 1273.12 L1139.4 1277.41 L1140.4 1281.84 L1141.4 1286.37 L1142.4 1290.95 L1143.4 1295.55 L1144.4 1300.13 L1145.4 1304.67 L1146.4 1309.13 L1147.4 1313.5 L1148.4 1317.74 L1149.4 1321.85 L1150.4 1325.8 L1151.4 1329.59 L1152.4 1333.2 L1153.4 1336.63 L1154.4 1339.87 L1155.4 1342.92 L1156.4 1345.78 L1157.4 1348.45 L1158.4 1350.94 L1159.4 1353.24 L1160.4 1355.36 L1161.4 1357.32 L1162.4 1359.12 L1163.4 1360.76 L1164.4 1362.26 L1165.4 1363.62 L1166.4 1364.85 L1167.4 1365.97 L1168.4 1366.97 L1169.4 1367.88 L1170.4 1368.7 L1171.4 1369.43 L1172.4 1370.09 L1173.4 1370.68 L1174.4 1371.21 L1175.4 1371.68 L1176.4 1372.11 L1177.4 1372.49 L1178.4 1372.84 L1179.4 1373.15 L1180.4 1373.43 L1181.4 1373.68 L1182.4 1373.91 L1183.4 1374.12 L1184.4 1374.31 L1185.4 1374.48 L1186.4 1374.64 L1187.4 1374.79 L1188.4 1374.93 L1189.4 1375.06 L1190.4 1375.18 L1191.4 1375.29 L1192.4 1375.39 L1193.4 1375.49 L1194.4 1375.59 L1195.4 1375.68 L1196.4 1375.76 L1197.4 1375.84 L1198.4 1375.92 L1199.4 1375.99 L1200.4 1376.06 L1201.4 1376.13 L1202.4 1376.19 L1203.4 1376.26 L1204.4 1376.32 L1205.4 1376.37 L1206.4 1376.43 L1207.4 1376.48 L1208.4 1376.53 L1209.4 1376.58 L1210.4 1376.63 L1211.4 1376.68 L1212.4 1376.72 L1213.4 1376.77 L1214.4 1376.81 L1215.4 1376.85 L1216.4 1376.89 L1217.4 1376.93 L1218.4 1376.96 L1219.4 1377 L1220.4 1377.04 L1221.4 1377.07 L1222.4 1377.1 L1223.4 1377.13 L1224.4 1377.16 L1225.4 1377.19 L1226.4 1377.22 L1227.4 1377.25 L1228.4 1377.28 L1229.4 1377.31 L1230.4 1377.33 L1231.4 1377.36 L1232.4 1377.38 L1233.4 1377.41 L1234.4 1377.43 L1235.4 1377.45 L1236.4 1377.47 L1237.4 1377.5 L1238.4 1377.52 L1239.4 1377.54 L1240.4 1377.56 L1241.4 1377.58 L1242.4 1377.59 L1243.4 1377.61 L1244.4 1377.63 L1245.4 1377.65 L1246.4 1377.67 L1247.4 1377.68 L1248.4 1377.7 L1249.4 1377.71 L1250.4 1377.73 L1251.4 1377.75 L1252.4 1377.76 L1253.4 1377.77 L1254.4 1377.79 L1255.4 1377.8 L1256.4 1377.82 L1257.4 1377.83 L1258.4 1377.84 L1259.4 1377.85 L1260.4 1377.87 L1261.4 1377.88 L1262.4 1377.89 L1263.4 1377.9 L1264.4 1377.91 L1265.4 1377.93 L1266.4 1377.94 L1267.4 1377.95 L1268.4 1377.96 L1269.4 1377.97 L1270.4 1377.98 L1271.4 1377.99 L1272.4 1378 L1273.4 1378.01 L1274.4 1378.02 L1275.4 1378.02 L1276.4 1378.03 L1277.4 1378.04 L1278.4 1378.05 L1279.4 1378.06 L1280.4 1378.07 L1281.4 1378.07 L1282.4 1378.08 L1283.4 1378.09" fill="none" stroke="#1a1a1a" stroke-width="2.4" stroke-linejoin="round" clip-path="url(#clip_d0)"/>
<path d="M884.4 1374.88 L885.4 1374.88 L886.4 1374.88 L887.4 1374.88 L888.4 1374.88 L889.4 1374.87 L890.4 1374.87 L891.4 1374.87 L892.4 1374.87 L893.4 1374.87 L894.4 1374.86 L895.4 1374.86 L896.4 1374.86 L897.4 1374.86 L898.4 1374.85 L899.4 1374.85 L900.4 1374.85 L901.4 1374.85 L902.4 1374.85 L903.4 1374.84 L904.4 1374.84 L905.4 1374.84 L906.4 1374.84 L907.4 1374.83 L908.4 1374.83 L909.4 1374.83 L910.4 1374.83 L911.4 1374.82 L912.4 1374.82 L913.4 1374.82 L914.4 1374.81 L915.4 1374.81 L916.4 1374.81 L917.4 1374.81 L918.4 1374.8 L919.4 1374.8 L920.4 1374.8 L921.4 1374.79 L922.4 1374.79 L923.4 1374.79 L924.4 1374.78 L925.4 1374.78 L926.4 1374.78 L927.4 1374.78 L928.4 1374.77 L929.4 1374.77 L930.4 1374.76 L931.4 1374.76 L932.4 1374.76 L933.4 1374.75 L934.4 1374.75 L935.4 1374.75 L936.4 1374.74 L937.4 1374.74 L938.4 1374.74 L939.4 1374.73 L940.4 1374.73 L941.4 1374.72 L942.4 1374.72 L943.4 1374.71 L944.4 1374.71 L945.4 1374.71 L946.4 1374.7 L947.4 1374.7 L948.4 1374.69 L949.4 1374.69 L950.4 1374.68 L951.4 1374.68 L952.4 1374.67 L953.4 1374.67 L954.4 1374.66 L955.4 1374.66 L956.4 1374.65 L957.4 1374.65 L958.4 1374.64 L959.4 1374.64 L960.4 1374.63 L961.4 1374.63 L962.4 1374.62 L963.4 1374.61 L964.4 1374.61 L965.4 1374.6 L966.4 1374.59 L967.4 1374.59 L968.4 1374.58 L969.4 1374.58 L970.4 1374.57 L971.4 1374.56 L972.4 1374.55 L973.4 1374.55 L974.4 1374.54 L975.4 1374.53 L976.4 1374.53 L977.4 1374.52 L978.4 1374.51 L979.4 1374.5 L980.4 1374.49 L981.4 1374.49 L982.4 1374.48 L983.4 1374.47 L984.4 1374.46 L985.4 1374.45 L986.4 1374.44 L987.4 1374.43 L988.4 1374.42 L989.4 1374.41 L990.4 1374.4 L991.4 1374.39 L992.4 1374.38 L993.4 1374.37 L994.4 1374.36 L995.4 1374.35 L996.4 1374.34 L997.4 1374.33 L998.4 1374.31 L999.4 1374.3 L1000.4 1374.29 L1001.4 1374.28 L1002.4 1374.26 L1003.4 1374.25 L1004.4 1374.24 L1005.4 1374.22 L1006.4 1374.21 L1007.4 1374.19 L1008.4 1374.18 L1009.4 1374.16 L1010.4 1374.15 L1011.4 1374.13 L1012.4 1374.11 L1013.4 1374.1 L1014.4 1374.08 L1015.4 1374.06 L1016.4 1374.04 L1017.4 1374.03 L1018.4 1374.01 L1019.4 1373.99 L1020.4 1373.97 L1021.4 1373.95 L1022.4 1373.92 L1023.4 1373.9 L1024.4 1373.88 L1025.4 1373.86 L1026.4 1373.83 L1027.4 1373.81 L1028.4 1373.78 L1029.4 1373.76 L1030.4 1373.73 L1031.4 1373.7 L1032.4 1373.67 L1033.4 1373.64 L1034.4 1373.61 L1035.4 1373.58 L1036.4 1373.55 L1037.4 1373.52 L1038.4 1373.48 L1039.4 1373.45 L1040.4 1373.41 L1041.4 1373.37 L1042.4 1373.34 L1043.4 1373.29 L1044.4 1373.25 L1045.4 1373.21 L1046.4 1373.16 L1047.4 1373.12 L1048.4 1373.07 L1049.4 1373.02 L1050.4 1372.96 L1051.4 1372.91 L1052.4 1372.85 L1053.4 1372.79 L1054.4 1372.72 L1055.4 1372.66 L1056.4 1372.59 L1057.4 1372.51 L1058.4 1372.43 L1059.4 1372.34 L1060.4 1372.25 L1061.4 1372.15 L1062.4 1372.05 L1063.4 1371.93 L1064.4 1371.81 L1065.4 1371.68 L1066.4 1371.53 L1067.4 1371.37 L1068.4 1371.2 L1069.4 1371.01 L1070.4 1370.8 L1071.4 1370.58 L1072.4 1370.33 L1073.4 1370.06 L1074.4 1369.76 L1075.4 1369.42 L1076.4 1369.06 L1077.4 1368.66 L1078.4 1368.22 L1079.4 1367.73 L1080.4 1367.2 L1081.4 1366.62 L1082.4 1365.98 L1083.4 1365.28 L1084.4 1364.52 L1085.4 1363.69 L1086.4 1362.78 L1087.4 1361.8 L1088.4 1360.73 L1089.4 1359.58 L1090.4 1358.34 L1091.4 1357.01 L1092.4 1355.58 L1093.4 1354.05 L1094.4 1352.42 L1095.4 1350.69 L1096.4 1348.85 L1097.4 1346.9 L1098.4 1344.85 L1099.4 1342.7 L1100.4 1340.44 L1101.4 1338.09 L1102.4 1335.65 L1103.4 1333.11 L1104.4 1330.5 L1105.4 1327.81 L1106.4 1325.06 L1107.4 1322.25 L1108.4 1319.4 L1109.4 1316.52 L1110.4 1313.63 L1111.4 1310.73 L1112.4 1307.86 L1113.4 1305.02 L1114.4 1302.23 L1115.4 1299.52 L1116.4 1296.91 L1117.4 1294.42 L1118.4 1292.08 L1119.4 1289.9 L1120.4 1287.92 L1121.4 1286.14 L1122.4 1284.61 L1123.4 1283.33 L1124.4 1282.32 L1125.4 1281.6 L1126.4 1281.17 L1127.4 1281.05 L1128.4 1281.23 L1129.4 1281.72 L1130.4 1282.5 L1131.4 1283.56 L1132.4 1284.9 L1133.4 1286.48 L1134.4 1288.3 L1135.4 1290.32 L1136.4 1292.54 L1137.4 1294.91 L1138.4 1297.43 L1139.4 1300.06 L1140.4 1302.78 L1141.4 1305.58 L1142.4 1308.43 L1143.4 1311.31 L1144.4 1314.21 L1145.4 1317.1 L1146.4 1319.97 L1147.4 1322.81 L1148.4 1325.61 L1149.4 1328.35 L1150.4 1331.03 L1151.4 1333.63 L1152.4 1336.14 L1153.4 1338.57 L1154.4 1340.9 L1155.4 1343.14 L1156.4 1345.27 L1157.4 1347.3 L1158.4 1349.22 L1159.4 1351.04 L1160.4 1352.75 L1161.4 1354.37 L1162.4 1355.88 L1163.4 1357.29 L1164.4 1358.6 L1165.4 1359.82 L1166.4 1360.95 L1167.4 1362 L1168.4 1362.97 L1169.4 1363.86 L1170.4 1364.68 L1171.4 1365.43 L1172.4 1366.11 L1173.4 1366.74 L1174.4 1367.31 L1175.4 1367.83 L1176.4 1368.31 L1177.4 1368.74 L1178.4 1369.14 L1179.4 1369.49 L1180.4 1369.82 L1181.4 1370.11 L1182.4 1370.38 L1183.4 1370.63 L1184.4 1370.85 L1185.4 1371.05 L1186.4 1371.24 L1187.4 1371.41 L1188.4 1371.56 L1189.4 1371.7 L1190.4 1371.83 L1191.4 1371.96 L1192.4 1372.07 L1193.4 1372.17 L1194.4 1372.27 L1195.4 1372.36 L1196.4 1372.45 L1197.4 1372.52 L1198.4 1372.6 L1199.4 1372.67 L1200.4 1372.74 L1201.4 1372.8 L1202.4 1372.86 L1203.4 1372.92 L1204.4 1372.97 L1205.4 1373.03 L1206.4 1373.08 L1207.4 1373.13 L1208.4 1373.17 L1209.4 1373.22 L1210.4 1373.26 L1211.4 1373.3 L1212.4 1373.34 L1213.4 1373.38 L1214.4 1373.42 L1215.4 1373.46 L1216.4 1373.49 L1217.4 1373.52 L1218.4 1373.56 L1219.4 1373.59 L1220.4 1373.62 L1221.4 1373.65 L1222.4 1373.68 L1223.4 1373.71 L1224.4 1373.73 L1225.4 1373.76 L1226.4 1373.79 L1227.4 1373.81 L1228.4 1373.84 L1229.4 1373.86 L1230.4 1373.88 L1231.4 1373.91 L1232.4 1373.93 L1233.4 1373.95 L1234.4 1373.97 L1235.4 1373.99 L1236.4 1374.01 L1237.4 1374.03 L1238.4 1374.05 L1239.4 1374.07 L1240.4 1374.08 L1241.4 1374.1 L1242.4 1374.12 L1243.4 1374.13 L1244.4 1374.15 L1245.4 1374.17 L1246.4 1374.18 L1247.4 1374.2 L1248.4 1374.21 L1249.4 1374.23 L1250.4 1374.24 L1251.4 1374.25 L1252.4 1374.27 L1253.4 1374.28 L1254.4 1374.29 L1255.4 1374.3 L1256.4 1374.32 L1257.4 1374.33 L1258.4 1374.34 L1259.4 1374.35 L1260.4 1374.36 L1261.4 1374.37 L1262.4 1374.38 L1263.4 1374.39 L1264.4 1374.4 L1265.4 1374.41 L1266.4 1374.42 L1267.4 1374.43 L1268.4 1374.44 L1269.4 1374.45 L1270.4 1374.46 L1271.4 1374.47 L1272.4 1374.48 L1273.4 1374.49 L1274.4 1374.5 L1275.4 1374.5 L1276.4 1374.51 L1277.4 1374.52 L1278.4 1374.53 L1279.4 1374.53 L1280.4 1374.54 L1281.4 1374.55 L1282.4 1374.56" fill="none" stroke="#30a84e" stroke-width="6.4" stroke-linejoin="round" stroke-dasharray="2 9.9" stroke-linecap="round" clip-path="url(#clip_d0)"/>
<g clip-path="url(#clip_d1)">
<path d="M890.1 1701.07 V1713.93 M885.85 1701.07 H894.35 M885.85 1713.93 H894.35 M898.5 1704.12 V1715.88 M894.25 1704.12 H902.75 M894.25 1715.88 H902.75 M906.9 1697.1 V1711.3 M902.65 1697.1 H911.15 M902.65 1711.3 H911.15 M914.4 1706.23 V1717.17 M910.15 1706.23 H918.65 M910.15 1717.17 H918.65 M922.8 1710.57 V1719.63 M918.55 1710.57 H927.05 M918.55 1719.63 H927.05 M930.3 1706.23 V1717.17 M926.05 1706.23 H934.55 M926.05 1717.17 H934.55 M938.7 1706.23 V1717.17 M934.45 1706.23 H942.95 M934.45 1717.17 H942.95 M947.1 1700.1 V1713.3 M942.85 1700.1 H951.35 M942.85 1713.3 H951.35 M954.7 1705.24 V1716.56 M950.45 1705.24 H958.95 M950.45 1716.56 H958.95 M962.2 1690.14 V1706.46 M957.95 1690.14 H966.45 M957.95 1706.46 H966.45 M970.6 1694.01 V1709.19 M966.35 1694.01 H974.85 M966.35 1709.19 H974.85 M979 1678.49 V1697.91 M974.75 1678.49 H983.25 M974.75 1697.91 H983.25 M986.6 1637.32 V1665.28 M982.35 1637.32 H990.85 M982.35 1665.28 H990.85 M995 1588.12 V1623.88 M990.75 1588.12 H999.25 M990.75 1623.88 H999.25 M1003.3 1501.3 V1547.9 M999.05 1501.3 H1007.55 M999.05 1547.9 H1007.55 M1010.9 1503.95 V1550.25 M1006.65 1503.95 H1015.15 M1006.65 1550.25 H1015.15 M1019.3 1535.16 V1577.84 M1015.05 1535.16 H1023.55 M1015.05 1577.84 H1023.55 M1027.7 1573.72 V1611.48 M1023.45 1573.72 H1031.95 M1023.45 1611.48 H1031.95 M1035.2 1611.68 V1643.92 M1030.95 1611.68 H1039.45 M1030.95 1643.92 H1039.45 M1043.6 1651.21 V1676.59 M1039.35 1651.21 H1047.85 M1039.35 1676.59 H1047.85 M1051.2 1664.25 V1686.95 M1046.95 1664.25 H1055.45 M1046.95 1686.95 H1055.45 M1059.6 1667.17 V1689.23 M1055.35 1667.17 H1063.85 M1055.35 1689.23 H1063.85 M1068 1686.3 V1703.7 M1063.75 1686.3 H1072.25 M1063.75 1703.7 H1072.25 M1075.5 1692.13 V1707.87 M1071.25 1692.13 H1079.75 M1071.25 1707.87 H1079.75 M1083.1 1684.11 V1702.09 M1078.85 1684.11 H1087.35 M1078.85 1702.09 H1087.35 M1091.2 1690.37 V1706.63 M1086.95 1690.37 H1095.45 M1086.95 1706.63 H1095.45 M1099.2 1696.03 V1710.57 M1094.95 1696.03 H1103.45 M1094.95 1710.57 H1103.45 M1107.2 1699.86 V1713.14 M1102.95 1699.86 H1111.45 M1102.95 1713.14 H1111.45 M1115.2 1682.96 V1701.24 M1110.95 1682.96 H1119.45 M1110.95 1701.24 H1119.45 M1123.2 1681.12 V1699.88 M1118.95 1681.12 H1127.45 M1118.95 1699.88 H1127.45 M1131.3 1682.04 V1700.56 M1127.05 1682.04 H1135.55 M1127.05 1700.56 H1135.55 M1139.3 1686.65 V1703.95 M1135.05 1686.65 H1143.55 M1135.05 1703.95 H1143.55 M1147.3 1686.65 V1703.95 M1143.05 1686.65 H1151.55 M1143.05 1703.95 H1151.55 M1155.3 1689.44 V1705.96 M1151.05 1689.44 H1159.55 M1151.05 1705.96 H1159.55 M1163.3 1696.03 V1710.57 M1159.05 1696.03 H1167.55 M1159.05 1710.57 H1167.55 M1171.3 1702.77 V1715.03 M1167.05 1702.77 H1175.55 M1167.05 1715.03 H1175.55 M1179.3 1696.03 V1710.57 M1175.05 1696.03 H1183.55 M1175.05 1710.57 H1183.55 M1187.3 1703.75 V1715.65 M1183.05 1703.75 H1191.55 M1183.05 1715.65 H1191.55 M1195.3 1703.75 V1715.65 M1191.05 1703.75 H1199.55 M1191.05 1715.65 H1199.55 M1203.3 1699.86 V1713.14 M1199.05 1699.86 H1207.55 M1199.05 1713.14 H1207.55 M1211.3 1697.93 V1711.87 M1207.05 1697.93 H1215.55 M1207.05 1711.87 H1215.55 M1219.4 1705.73 V1716.87 M1215.15 1705.73 H1223.65 M1215.15 1716.87 H1223.65 M1227.4 1700.82 V1713.78 M1223.15 1700.82 H1231.65 M1223.15 1713.78 H1231.65 M1235.4 1704.74 V1716.26 M1231.15 1704.74 H1239.65 M1231.15 1716.26 H1239.65 M1243.4 1701.79 V1714.41 M1239.15 1701.79 H1247.65 M1239.15 1714.41 H1247.65 M1251.4 1698.89 V1712.51 M1247.15 1698.89 H1255.65 M1247.15 1712.51 H1255.65 M1259.4 1703.75 V1715.65 M1255.15 1703.75 H1263.65 M1255.15 1715.65 H1263.65 M1267.4 1710.96 V1719.84 M1263.15 1710.96 H1271.65 M1263.15 1719.84 H1271.65 M1275.4 1706.73 V1717.47 M1271.15 1706.73 H1279.65 M1271.15 1717.47 H1279.65" fill="none" stroke="#c0392e" stroke-width="1.8"/>
<circle cx="890.1" cy="1707.5" r="3.4" fill="#fff" stroke="#c0392e" stroke-width="1.9"/>
<circle cx="898.5" cy="1710" r="3.4" fill="#fff" stroke="#c0392e" stroke-width="1.9"/>
<circle cx="906.9" cy="1704.2" r="3.4" fill="#fff" stroke="#c0392e" stroke-width="1.9"/>
<circle cx="914.4" cy="1711.7" r="3.4" fill="#fff" stroke="#c0392e" stroke-width="1.9"/>
<circle cx="922.8" cy="1715.1" r="3.4" fill="#fff" stroke="#c0392e" stroke-width="1.9"/>
<circle cx="930.3" cy="1711.7" r="3.4" fill="#fff" stroke="#c0392e" stroke-width="1.9"/>
<circle cx="938.7" cy="1711.7" r="3.4" fill="#fff" stroke="#c0392e" stroke-width="1.9"/>
<circle cx="947.1" cy="1706.7" r="3.4" fill="#fff" stroke="#c0392e" stroke-width="1.9"/>
<circle cx="954.7" cy="1710.9" r="3.4" fill="#fff" stroke="#c0392e" stroke-width="1.9"/>
<circle cx="962.2" cy="1698.3" r="3.4" fill="#fff" stroke="#c0392e" stroke-width="1.9"/>
<circle cx="970.6" cy="1701.6" r="3.4" fill="#fff" stroke="#c0392e" stroke-width="1.9"/>
<circle cx="979" cy="1688.2" r="3.4" fill="#fff" stroke="#c0392e" stroke-width="1.9"/>
<circle cx="986.6" cy="1651.3" r="3.4" fill="#fff" stroke="#c0392e" stroke-width="1.9"/>
<circle cx="995" cy="1606" r="3.4" fill="#fff" stroke="#c0392e" stroke-width="1.9"/>
<circle cx="1003.3" cy="1524.6" r="3.4" fill="#fff" stroke="#c0392e" stroke-width="1.9"/>
<circle cx="1010.9" cy="1527.1" r="3.4" fill="#fff" stroke="#c0392e" stroke-width="1.9"/>
<circle cx="1019.3" cy="1556.5" r="3.4" fill="#fff" stroke="#c0392e" stroke-width="1.9"/>
<circle cx="1027.7" cy="1592.6" r="3.4" fill="#fff" stroke="#c0392e" stroke-width="1.9"/>
<circle cx="1035.2" cy="1627.8" r="3.4" fill="#fff" stroke="#c0392e" stroke-width="1.9"/>
<circle cx="1043.6" cy="1663.9" r="3.4" fill="#fff" stroke="#c0392e" stroke-width="1.9"/>
<circle cx="1051.2" cy="1675.6" r="3.4" fill="#fff" stroke="#c0392e" stroke-width="1.9"/>
<circle cx="1059.6" cy="1678.2" r="3.4" fill="#fff" stroke="#c0392e" stroke-width="1.9"/>
<circle cx="1068" cy="1695" r="3.4" fill="#fff" stroke="#c0392e" stroke-width="1.9"/>
<circle cx="1075.5" cy="1700" r="3.4" fill="#fff" stroke="#c0392e" stroke-width="1.9"/>
<circle cx="1083.1" cy="1693.1" r="3.4" fill="#fff" stroke="#c0392e" stroke-width="1.9"/>
<circle cx="1091.2" cy="1698.5" r="3.4" fill="#fff" stroke="#c0392e" stroke-width="1.9"/>
<circle cx="1099.2" cy="1703.3" r="3.4" fill="#fff" stroke="#c0392e" stroke-width="1.9"/>
<circle cx="1107.2" cy="1706.5" r="3.4" fill="#fff" stroke="#c0392e" stroke-width="1.9"/>
<circle cx="1115.2" cy="1692.1" r="3.4" fill="#fff" stroke="#c0392e" stroke-width="1.9"/>
<circle cx="1123.2" cy="1690.5" r="3.4" fill="#fff" stroke="#c0392e" stroke-width="1.9"/>
<circle cx="1131.3" cy="1691.3" r="3.4" fill="#fff" stroke="#c0392e" stroke-width="1.9"/>
<circle cx="1139.3" cy="1695.3" r="3.4" fill="#fff" stroke="#c0392e" stroke-width="1.9"/>
<circle cx="1147.3" cy="1695.3" r="3.4" fill="#fff" stroke="#c0392e" stroke-width="1.9"/>
<circle cx="1155.3" cy="1697.7" r="3.4" fill="#fff" stroke="#c0392e" stroke-width="1.9"/>
<circle cx="1163.3" cy="1703.3" r="3.4" fill="#fff" stroke="#c0392e" stroke-width="1.9"/>
<circle cx="1171.3" cy="1708.9" r="3.4" fill="#fff" stroke="#c0392e" stroke-width="1.9"/>
<circle cx="1179.3" cy="1703.3" r="3.4" fill="#fff" stroke="#c0392e" stroke-width="1.9"/>
<circle cx="1187.3" cy="1709.7" r="3.4" fill="#fff" stroke="#c0392e" stroke-width="1.9"/>
<circle cx="1195.3" cy="1709.7" r="3.4" fill="#fff" stroke="#c0392e" stroke-width="1.9"/>
<circle cx="1203.3" cy="1706.5" r="3.4" fill="#fff" stroke="#c0392e" stroke-width="1.9"/>
<circle cx="1211.3" cy="1704.9" r="3.4" fill="#fff" stroke="#c0392e" stroke-width="1.9"/>
<circle cx="1219.4" cy="1711.3" r="3.4" fill="#fff" stroke="#c0392e" stroke-width="1.9"/>
<circle cx="1227.4" cy="1707.3" r="3.4" fill="#fff" stroke="#c0392e" stroke-width="1.9"/>
<circle cx="1235.4" cy="1710.5" r="3.4" fill="#fff" stroke="#c0392e" stroke-width="1.9"/>
<circle cx="1243.4" cy="1708.1" r="3.4" fill="#fff" stroke="#c0392e" stroke-width="1.9"/>
<circle cx="1251.4" cy="1705.7" r="3.4" fill="#fff" stroke="#c0392e" stroke-width="1.9"/>
<circle cx="1259.4" cy="1709.7" r="3.4" fill="#fff" stroke="#c0392e" stroke-width="1.9"/>
<circle cx="1267.4" cy="1715.4" r="3.4" fill="#fff" stroke="#c0392e" stroke-width="1.9"/>
<circle cx="1275.4" cy="1712.1" r="3.4" fill="#fff" stroke="#c0392e" stroke-width="1.9"/>
</g>
<path d="M883.4 1709.86 L884.4 1709.85 L885.4 1709.85 L886.4 1709.84 L887.4 1709.83 L888.4 1709.82 L889.4 1709.81 L890.4 1709.8 L891.4 1709.79 L892.4 1709.78 L893.4 1709.77 L894.4 1709.76 L895.4 1709.74 L896.4 1709.73 L897.4 1709.72 L898.4 1709.71 L899.4 1709.7 L900.4 1709.68 L901.4 1709.67 L902.4 1709.66 L903.4 1709.64 L904.4 1709.63 L905.4 1709.62 L906.4 1709.6 L907.4 1709.59 L908.4 1709.57 L909.4 1709.56 L910.4 1709.54 L911.4 1709.52 L912.4 1709.51 L913.4 1709.49 L914.4 1709.47 L915.4 1709.45 L916.4 1709.43 L917.4 1709.41 L918.4 1709.39 L919.4 1709.37 L920.4 1709.35 L921.4 1709.33 L922.4 1709.31 L923.4 1709.28 L924.4 1709.26 L925.4 1709.24 L926.4 1709.21 L927.4 1709.18 L928.4 1709.16 L929.4 1709.13 L930.4 1709.1 L931.4 1709.07 L932.4 1709.04 L933.4 1709.01 L934.4 1708.98 L935.4 1708.94 L936.4 1708.91 L937.4 1708.87 L938.4 1708.84 L939.4 1708.8 L940.4 1708.76 L941.4 1708.72 L942.4 1708.67 L943.4 1708.63 L944.4 1708.58 L945.4 1708.54 L946.4 1708.49 L947.4 1708.44 L948.4 1708.38 L949.4 1708.33 L950.4 1708.27 L951.4 1708.21 L952.4 1708.14 L953.4 1708.08 L954.4 1708 L955.4 1707.93 L956.4 1707.85 L957.4 1707.77 L958.4 1707.68 L959.4 1707.58 L960.4 1707.48 L961.4 1707.36 L962.4 1707.24 L963.4 1707.11 L964.4 1706.96 L965.4 1706.8 L966.4 1706.63 L967.4 1706.43 L968.4 1706.21 L969.4 1705.96 L970.4 1705.68 L971.4 1705.36 L972.4 1705.01 L973.4 1704.6 L974.4 1704.14 L975.4 1703.62 L976.4 1703.03 L977.4 1702.36 L978.4 1701.59 L979.4 1700.73 L980.4 1699.76 L981.4 1698.66 L982.4 1697.42 L983.4 1696.03 L984.4 1694.47 L985.4 1692.74 L986.4 1690.81 L987.4 1688.67 L988.4 1686.3 L989.4 1683.71 L990.4 1680.86 L991.4 1677.75 L992.4 1674.38 L993.4 1670.73 L994.4 1666.8 L995.4 1662.59 L996.4 1658.1 L997.4 1653.34 L998.4 1648.3 L999.4 1643.02 L1000.4 1637.49 L1001.4 1631.75 L1002.4 1625.82 L1003.4 1619.73 L1004.4 1613.52 L1005.4 1607.22 L1006.4 1600.88 L1007.4 1594.55 L1008.4 1588.28 L1009.4 1582.14 L1010.4 1576.16 L1011.4 1570.44 L1012.4 1565.01 L1013.4 1559.96 L1014.4 1555.35 L1015.4 1551.23 L1016.4 1547.69 L1017.4 1544.76 L1018.4 1542.49 L1019.4 1540.94 L1020.4 1540.11 L1021.4 1540.04 L1022.4 1540.71 L1023.4 1542.12 L1024.4 1544.25 L1025.4 1547.05 L1026.4 1550.47 L1027.4 1554.48 L1028.4 1558.99 L1029.4 1563.96 L1030.4 1569.32 L1031.4 1574.99 L1032.4 1580.91 L1033.4 1587.03 L1034.4 1593.28 L1035.4 1599.6 L1036.4 1605.94 L1037.4 1612.25 L1038.4 1618.48 L1039.4 1624.6 L1040.4 1630.56 L1041.4 1636.34 L1042.4 1641.91 L1043.4 1647.24 L1044.4 1652.33 L1045.4 1657.15 L1046.4 1661.69 L1047.4 1665.96 L1048.4 1669.94 L1049.4 1673.64 L1050.4 1677.07 L1051.4 1680.23 L1052.4 1683.12 L1053.4 1685.77 L1054.4 1688.18 L1055.4 1690.36 L1056.4 1692.33 L1057.4 1694.1 L1058.4 1695.69 L1059.4 1697.11 L1060.4 1698.38 L1061.4 1699.5 L1062.4 1700.5 L1063.4 1701.38 L1064.4 1702.16 L1065.4 1702.85 L1066.4 1703.45 L1067.4 1703.98 L1068.4 1704.45 L1069.4 1704.87 L1070.4 1705.23 L1071.4 1705.55 L1072.4 1705.83 L1073.4 1706.09 L1074.4 1706.31 L1075.4 1706.51 L1076.4 1706.69 L1077.4 1706.85 L1078.4 1706.99 L1079.4 1707.13 L1080.4 1707.25 L1081.4 1707.36 L1082.4 1707.46 L1083.4 1707.55 L1084.4 1707.64 L1085.4 1707.72 L1086.4 1707.79 L1087.4 1707.86 L1088.4 1707.93 L1089.4 1707.99 L1090.4 1708.05 L1091.4 1708.1 L1092.4 1708.15 L1093.4 1708.2 L1094.4 1708.24 L1095.4 1708.28 L1096.4 1708.31 L1097.4 1708.34 L1098.4 1708.36 L1099.4 1708.38 L1100.4 1708.39 L1101.4 1708.39 L1102.4 1708.38 L1103.4 1708.35 L1104.4 1708.31 L1105.4 1708.26 L1106.4 1708.19 L1107.4 1708.09 L1108.4 1707.97 L1109.4 1707.81 L1110.4 1707.63 L1111.4 1707.41 L1112.4 1707.14 L1113.4 1706.84 L1114.4 1706.48 L1115.4 1706.07 L1116.4 1705.61 L1117.4 1705.09 L1118.4 1704.51 L1119.4 1703.87 L1120.4 1703.17 L1121.4 1702.42 L1122.4 1701.62 L1123.4 1700.77 L1124.4 1699.88 L1125.4 1698.96 L1126.4 1698.03 L1127.4 1697.08 L1128.4 1696.14 L1129.4 1695.22 L1130.4 1694.34 L1131.4 1693.51 L1132.4 1692.75 L1133.4 1692.07 L1134.4 1691.49 L1135.4 1691.02 L1136.4 1690.67 L1137.4 1690.46 L1138.4 1690.39 L1139.4 1690.46 L1140.4 1690.67 L1141.4 1691.02 L1142.4 1691.49 L1143.4 1692.08 L1144.4 1692.77 L1145.4 1693.54 L1146.4 1694.39 L1147.4 1695.29 L1148.4 1696.23 L1149.4 1697.2 L1150.4 1698.17 L1151.4 1699.14 L1152.4 1700.09 L1153.4 1701.01 L1154.4 1701.9 L1155.4 1702.74 L1156.4 1703.54 L1157.4 1704.28 L1158.4 1704.96 L1159.4 1705.58 L1160.4 1706.15 L1161.4 1706.66 L1162.4 1707.11 L1163.4 1707.51 L1164.4 1707.86 L1165.4 1708.17 L1166.4 1708.44 L1167.4 1708.67 L1168.4 1708.87 L1169.4 1709.03 L1170.4 1709.17 L1171.4 1709.29 L1172.4 1709.39 L1173.4 1709.48 L1174.4 1709.55 L1175.4 1709.61 L1176.4 1709.66 L1177.4 1709.7 L1178.4 1709.74 L1179.4 1709.77 L1180.4 1709.79 L1181.4 1709.82 L1182.4 1709.84 L1183.4 1709.85 L1184.4 1709.87 L1185.4 1709.88 L1186.4 1709.9 L1187.4 1709.91 L1188.4 1709.92 L1189.4 1709.93 L1190.4 1709.94 L1191.4 1709.95 L1192.4 1709.96 L1193.4 1709.97 L1194.4 1709.98 L1195.4 1709.99 L1196.4 1709.99 L1197.4 1710 L1198.4 1710.01 L1199.4 1710.02 L1200.4 1710.02 L1201.4 1710.03 L1202.4 1710.04 L1203.4 1710.04 L1204.4 1710.05 L1205.4 1710.05 L1206.4 1710.06 L1207.4 1710.07 L1208.4 1710.07 L1209.4 1710.08 L1210.4 1710.08 L1211.4 1710.09 L1212.4 1710.09 L1213.4 1710.1 L1214.4 1710.1 L1215.4 1710.11 L1216.4 1710.11 L1217.4 1710.12 L1218.4 1710.12 L1219.4 1710.12 L1220.4 1710.13 L1221.4 1710.13 L1222.4 1710.14 L1223.4 1710.14 L1224.4 1710.15 L1225.4 1710.15 L1226.4 1710.15 L1227.4 1710.16 L1228.4 1710.16 L1229.4 1710.16 L1230.4 1710.17 L1231.4 1710.17 L1232.4 1710.17 L1233.4 1710.18 L1234.4 1710.18 L1235.4 1710.18 L1236.4 1710.19 L1237.4 1710.19 L1238.4 1710.19 L1239.4 1710.2 L1240.4 1710.2 L1241.4 1710.2 L1242.4 1710.2 L1243.4 1710.21 L1244.4 1710.21 L1245.4 1710.21 L1246.4 1710.21 L1247.4 1710.22 L1248.4 1710.22 L1249.4 1710.22 L1250.4 1710.22 L1251.4 1710.23 L1252.4 1710.23 L1253.4 1710.23 L1254.4 1710.23 L1255.4 1710.24 L1256.4 1710.24 L1257.4 1710.24 L1258.4 1710.24 L1259.4 1710.25 L1260.4 1710.25 L1261.4 1710.25 L1262.4 1710.25 L1263.4 1710.25 L1264.4 1710.26 L1265.4 1710.26 L1266.4 1710.26 L1267.4 1710.26 L1268.4 1710.26 L1269.4 1710.26 L1270.4 1710.27 L1271.4 1710.27 L1272.4 1710.27 L1273.4 1710.27 L1274.4 1710.27 L1275.4 1710.28 L1276.4 1710.28 L1277.4 1710.28 L1278.4 1710.28 L1279.4 1710.28 L1280.4 1710.28 L1281.4 1710.29 L1282.4 1710.29 L1283.4 1710.29" fill="none" stroke="#1a1a1a" stroke-width="2.4" stroke-linejoin="round" clip-path="url(#clip_d1)"/>
<path d="M884.4 1708.64 L885.4 1708.63 L886.4 1708.61 L887.4 1708.59 L888.4 1708.58 L889.4 1708.56 L890.4 1708.54 L891.4 1708.52 L892.4 1708.5 L893.4 1708.48 L894.4 1708.46 L895.4 1708.44 L896.4 1708.42 L897.4 1708.4 L898.4 1708.38 L899.4 1708.36 L900.4 1708.34 L901.4 1708.31 L902.4 1708.29 L903.4 1708.27 L904.4 1708.24 L905.4 1708.22 L906.4 1708.19 L907.4 1708.16 L908.4 1708.14 L909.4 1708.11 L910.4 1708.08 L911.4 1708.05 L912.4 1708.02 L913.4 1707.99 L914.4 1707.96 L915.4 1707.93 L916.4 1707.89 L917.4 1707.86 L918.4 1707.82 L919.4 1707.79 L920.4 1707.75 L921.4 1707.71 L922.4 1707.67 L923.4 1707.63 L924.4 1707.59 L925.4 1707.54 L926.4 1707.5 L927.4 1707.45 L928.4 1707.4 L929.4 1707.35 L930.4 1707.29 L931.4 1707.24 L932.4 1707.18 L933.4 1707.12 L934.4 1707.06 L935.4 1706.99 L936.4 1706.92 L937.4 1706.84 L938.4 1706.76 L939.4 1706.67 L940.4 1706.58 L941.4 1706.48 L942.4 1706.38 L943.4 1706.27 L944.4 1706.14 L945.4 1706.01 L946.4 1705.86 L947.4 1705.7 L948.4 1705.53 L949.4 1705.34 L950.4 1705.13 L951.4 1704.9 L952.4 1704.65 L953.4 1704.37 L954.4 1704.06 L955.4 1703.72 L956.4 1703.35 L957.4 1702.93 L958.4 1702.47 L959.4 1701.96 L960.4 1701.4 L961.4 1700.78 L962.4 1700.1 L963.4 1699.34 L964.4 1698.51 L965.4 1697.6 L966.4 1696.59 L967.4 1695.49 L968.4 1694.29 L969.4 1692.97 L970.4 1691.53 L971.4 1689.97 L972.4 1688.27 L973.4 1686.42 L974.4 1684.42 L975.4 1682.26 L976.4 1679.93 L977.4 1677.43 L978.4 1674.74 L979.4 1671.86 L980.4 1668.79 L981.4 1665.51 L982.4 1662.03 L983.4 1658.34 L984.4 1654.44 L985.4 1650.32 L986.4 1646 L987.4 1641.46 L988.4 1636.71 L989.4 1631.76 L990.4 1626.61 L991.4 1621.26 L992.4 1615.74 L993.4 1610.05 L994.4 1604.21 L995.4 1598.22 L996.4 1592.11 L997.4 1585.9 L998.4 1579.61 L999.4 1573.25 L1000.4 1566.86 L1001.4 1560.47 L1002.4 1554.09 L1003.4 1547.76 L1004.4 1541.52 L1005.4 1535.38 L1006.4 1529.4 L1007.4 1523.59 L1008.4 1517.99 L1009.4 1512.65 L1010.4 1507.59 L1011.4 1502.85 L1012.4 1498.46 L1013.4 1494.45 L1014.4 1490.87 L1015.4 1487.72 L1016.4 1485.05 L1017.4 1482.87 L1018.4 1481.21 L1019.4 1480.07 L1020.4 1479.48 L1021.4 1479.42 L1022.4 1479.91 L1023.4 1480.94 L1024.4 1482.5 L1025.4 1484.58 L1026.4 1487.15 L1027.4 1490.2 L1028.4 1493.7 L1029.4 1497.62 L1030.4 1501.94 L1031.4 1506.61 L1032.4 1511.61 L1033.4 1516.9 L1034.4 1522.45 L1035.4 1528.22 L1036.4 1534.17 L1037.4 1540.28 L1038.4 1546.51 L1039.4 1552.82 L1040.4 1559.19 L1041.4 1565.58 L1042.4 1571.98 L1043.4 1578.34 L1044.4 1584.65 L1045.4 1590.88 L1046.4 1597.01 L1047.4 1603.02 L1048.4 1608.9 L1049.4 1614.62 L1050.4 1620.17 L1051.4 1625.55 L1052.4 1630.74 L1053.4 1635.73 L1054.4 1640.52 L1055.4 1645.11 L1056.4 1649.48 L1057.4 1653.63 L1058.4 1657.58 L1059.4 1661.31 L1060.4 1664.83 L1061.4 1668.15 L1062.4 1671.26 L1063.4 1674.18 L1064.4 1676.9 L1065.4 1679.45 L1066.4 1681.81 L1067.4 1684 L1068.4 1686.03 L1069.4 1687.91 L1070.4 1689.64 L1071.4 1691.23 L1072.4 1692.69 L1073.4 1694.03 L1074.4 1695.26 L1075.4 1696.38 L1076.4 1697.4 L1077.4 1698.34 L1078.4 1699.18 L1079.4 1699.95 L1080.4 1700.65 L1081.4 1701.28 L1082.4 1701.85 L1083.4 1702.37 L1084.4 1702.84 L1085.4 1703.27 L1086.4 1703.65 L1087.4 1704 L1088.4 1704.31 L1089.4 1704.6 L1090.4 1704.85 L1091.4 1705.09 L1092.4 1705.3 L1093.4 1705.49 L1094.4 1705.67 L1095.4 1705.83 L1096.4 1705.98 L1097.4 1706.12 L1098.4 1706.24 L1099.4 1706.36 L1100.4 1706.46 L1101.4 1706.56 L1102.4 1706.66 L1103.4 1706.74 L1104.4 1706.82 L1105.4 1706.9 L1106.4 1706.97 L1107.4 1707.04 L1108.4 1707.11 L1109.4 1707.17 L1110.4 1707.23 L1111.4 1707.28 L1112.4 1707.34 L1113.4 1707.39 L1114.4 1707.44 L1115.4 1707.49 L1116.4 1707.53 L1117.4 1707.58 L1118.4 1707.62 L1119.4 1707.66 L1120.4 1707.7 L1121.4 1707.74 L1122.4 1707.78 L1123.4 1707.82 L1124.4 1707.85 L1125.4 1707.89 L1126.4 1707.92 L1127.4 1707.95 L1128.4 1707.98 L1129.4 1708.02 L1130.4 1708.05 L1131.4 1708.08 L1132.4 1708.1 L1133.4 1708.13 L1134.4 1708.16 L1135.4 1708.19 L1136.4 1708.21 L1137.4 1708.24 L1138.4 1708.26 L1139.4 1708.29 L1140.4 1708.31 L1141.4 1708.33 L1142.4 1708.36 L1143.4 1708.38 L1144.4 1708.4 L1145.4 1708.42 L1146.4 1708.44 L1147.4 1708.46 L1148.4 1708.48 L1149.4 1708.5 L1150.4 1708.52 L1151.4 1708.54 L1152.4 1708.55 L1153.4 1708.57 L1154.4 1708.59 L1155.4 1708.61 L1156.4 1708.62 L1157.4 1708.64 L1158.4 1708.65 L1159.4 1708.67 L1160.4 1708.68 L1161.4 1708.7 L1162.4 1708.71 L1163.4 1708.73 L1164.4 1708.74 L1165.4 1708.76 L1166.4 1708.77 L1167.4 1708.78 L1168.4 1708.8 L1169.4 1708.81 L1170.4 1708.82 L1171.4 1708.83 L1172.4 1708.84 L1173.4 1708.86 L1174.4 1708.87 L1175.4 1708.88 L1176.4 1708.89 L1177.4 1708.9 L1178.4 1708.91 L1179.4 1708.92 L1180.4 1708.93 L1181.4 1708.94 L1182.4 1708.95 L1183.4 1708.96 L1184.4 1708.97 L1185.4 1708.98 L1186.4 1708.99 L1187.4 1709 L1188.4 1709.01 L1189.4 1709.02 L1190.4 1709.02 L1191.4 1709.03 L1192.4 1709.04 L1193.4 1709.05 L1194.4 1709.06 L1195.4 1709.07 L1196.4 1709.07 L1197.4 1709.08 L1198.4 1709.09 L1199.4 1709.1 L1200.4 1709.1 L1201.4 1709.11 L1202.4 1709.12 L1203.4 1709.12 L1204.4 1709.13 L1205.4 1709.14 L1206.4 1709.14 L1207.4 1709.15 L1208.4 1709.16 L1209.4 1709.16 L1210.4 1709.17 L1211.4 1709.18 L1212.4 1709.18 L1213.4 1709.19 L1214.4 1709.19 L1215.4 1709.2 L1216.4 1709.2 L1217.4 1709.21 L1218.4 1709.22 L1219.4 1709.22 L1220.4 1709.23 L1221.4 1709.23 L1222.4 1709.24 L1223.4 1709.24 L1224.4 1709.25 L1225.4 1709.25 L1226.4 1709.26 L1227.4 1709.26 L1228.4 1709.27 L1229.4 1709.27 L1230.4 1709.28 L1231.4 1709.28 L1232.4 1709.28 L1233.4 1709.29 L1234.4 1709.29 L1235.4 1709.3 L1236.4 1709.3 L1237.4 1709.31 L1238.4 1709.31 L1239.4 1709.31 L1240.4 1709.32 L1241.4 1709.32 L1242.4 1709.33 L1243.4 1709.33 L1244.4 1709.33 L1245.4 1709.34 L1246.4 1709.34 L1247.4 1709.35 L1248.4 1709.35 L1249.4 1709.35 L1250.4 1709.36 L1251.4 1709.36 L1252.4 1709.36 L1253.4 1709.37 L1254.4 1709.37 L1255.4 1709.37 L1256.4 1709.38 L1257.4 1709.38 L1258.4 1709.38 L1259.4 1709.39 L1260.4 1709.39 L1261.4 1709.39 L1262.4 1709.39 L1263.4 1709.4 L1264.4 1709.4 L1265.4 1709.4 L1266.4 1709.41 L1267.4 1709.41 L1268.4 1709.41 L1269.4 1709.41 L1270.4 1709.42 L1271.4 1709.42 L1272.4 1709.42 L1273.4 1709.43 L1274.4 1709.43 L1275.4 1709.43 L1276.4 1709.43 L1277.4 1709.44 L1278.4 1709.44 L1279.4 1709.44 L1280.4 1709.44 L1281.4 1709.45 L1282.4 1709.45" fill="none" stroke="#30a84e" stroke-width="6.4" stroke-linejoin="round" stroke-dasharray="2 9.9" stroke-linecap="round" clip-path="url(#clip_d1)"/>
<g clip-path="url(#clip_d2)">
<path d="M889.2 2032.13 V2044.27 M884.95 2032.13 H893.45 M884.95 2044.27 H893.45 M897.6 2030.06 V2042.94 M893.35 2030.06 H901.85 M893.35 2042.94 H901.85 M906 2021 V2036.8 M901.75 2021 H910.25 M901.75 2036.8 H910.25 M914.4 2030.06 V2042.94 M910.15 2030.06 H918.65 M910.15 2042.94 H918.65 M922 2032.13 V2044.27 M917.75 2032.13 H926.25 M917.75 2044.27 H926.25 M930.3 2028 V2041.6 M926.05 2028 H934.55 M926.05 2041.6 H934.55 M938.7 2019.01 V2035.39 M934.45 2019.01 H942.95 M934.45 2035.39 H942.95 M946.3 1977.32 V2003.28 M942.05 1977.32 H950.55 M942.05 2003.28 H950.55 M953.8 1881.93 V1922.47 M949.55 1881.93 H958.05 M949.55 1922.47 H958.05 M962.2 1838.21 V1883.99 M957.95 1838.21 H966.45 M957.95 1883.99 H966.45 M970.6 1831.12 V1877.68 M966.35 1831.12 H974.85 M966.35 1877.68 H974.85 M979 1869.45 V1911.55 M974.75 1869.45 H983.25 M974.75 1911.55 H983.25 M986.6 1925.18 V1959.82 M982.35 1925.18 H990.85 M982.35 1959.82 H990.85 M995 1941.52 V1973.68 M990.75 1941.52 H999.25 M990.75 1973.68 H999.25 M1002.5 1979.2 V2004.8 M998.25 1979.2 H1006.75 M998.25 2004.8 H1006.75 M1010.9 1995.14 V2017.46 M1006.65 1995.14 H1015.15 M1006.65 2017.46 H1015.15 M1018.4 1995.14 V2017.46 M1014.15 1995.14 H1022.65 M1014.15 2017.46 H1022.65 M1026.8 2004.63 V2024.77 M1022.55 2004.63 H1031.05 M1022.55 2024.77 H1031.05 M1035.2 2007.47 V2026.93 M1030.95 2007.47 H1039.45 M1030.95 2026.93 H1039.45 M1042.8 2009.42 V2028.38 M1038.55 2009.42 H1047.05 M1038.55 2028.38 H1047.05 M1051.2 1983.86 V2008.54 M1046.95 1983.86 H1055.45 M1046.95 2008.54 H1055.45 M1057.9 1905.27 V1942.73 M1053.65 1905.27 H1062.15 M1053.65 1942.73 H1062.15 M1066.3 1856.05 V1899.75 M1062.05 1856.05 H1070.55 M1062.05 1899.75 H1070.55 M1074.7 1835.56 V1881.64 M1070.45 1835.56 H1078.95 M1070.45 1881.64 H1078.95 M1083.1 1872.97 V1914.63 M1078.85 1872.97 H1087.35 M1078.85 1914.63 H1087.35 M1091.2 1925.94 V1960.46 M1086.95 1925.94 H1095.45 M1086.95 1960.46 H1095.45 M1099.2 1949.46 V1980.34 M1094.95 1949.46 H1103.45 M1094.95 1980.34 H1103.45 M1107.2 1980.2 V2005.6 M1102.95 1980.2 H1111.45 M1102.95 2005.6 H1111.45 M1114.9 1993.57 V2016.23 M1110.65 1993.57 H1119.15 M1110.65 2016.23 H1119.15 M1122.9 2009.88 V2028.72 M1118.65 2009.88 H1127.15 M1118.65 2028.72 H1127.15 M1130.9 2002.59 V2023.21 M1126.65 2002.59 H1135.15 M1126.65 2023.21 H1135.15 M1138.9 2020.06 V2036.14 M1134.65 2020.06 H1143.15 M1134.65 2036.14 H1143.15 M1147 2031.64 V2043.96 M1142.75 2031.64 H1151.25 M1142.75 2043.96 H1151.25 M1155 2022.88 V2038.12 M1150.75 2022.88 H1159.25 M1150.75 2038.12 H1159.25 M1163 2020.06 V2036.14 M1158.75 2020.06 H1167.25 M1158.75 2036.14 H1167.25 M1171 2021.94 V2037.46 M1166.75 2021.94 H1175.25 M1166.75 2037.46 H1175.25 M1179 2027.76 V2041.44 M1174.75 2027.76 H1183.25 M1174.75 2041.44 H1183.25 M1187 2028.73 V2042.07 M1182.75 2028.73 H1191.25 M1182.75 2042.07 H1191.25 M1195 2031.64 V2043.96 M1190.75 2031.64 H1199.25 M1190.75 2043.96 H1199.25 M1203 2037.63 V2047.57 M1198.75 2037.63 H1207.25 M1198.75 2047.57 H1207.25 M1211 2032.62 V2044.58 M1206.75 2032.62 H1215.25 M1206.75 2044.58 H1215.25 M1219 2029.69 V2042.71 M1214.75 2029.69 H1223.25 M1214.75 2042.71 H1223.25 M1227 2036.61 V2046.99 M1222.75 2036.61 H1231.25 M1222.75 2046.99 H1231.25 M1235 2030.66 V2043.34 M1230.75 2030.66 H1239.25 M1230.75 2043.34 H1239.25 M1243 2029.69 V2042.71 M1238.75 2029.69 H1247.25 M1238.75 2042.71 H1247.25 M1251.1 2025.85 V2040.15 M1246.85 2025.85 H1255.35 M1246.85 2040.15 H1255.35 M1259.1 2031.64 V2043.96 M1254.85 2031.64 H1263.35 M1254.85 2043.96 H1263.35 M1267.1 2027.76 V2041.44 M1262.85 2027.76 H1271.35 M1262.85 2041.44 H1271.35 M1275.1 2035.6 V2046.4 M1270.85 2035.6 H1279.35 M1270.85 2046.4 H1279.35" fill="none" stroke="#c0392e" stroke-width="1.8"/>
<circle cx="889.2" cy="2038.2" r="3.4" fill="#fff" stroke="#c0392e" stroke-width="1.9"/>
<circle cx="897.6" cy="2036.5" r="3.4" fill="#fff" stroke="#c0392e" stroke-width="1.9"/>
<circle cx="906" cy="2028.9" r="3.4" fill="#fff" stroke="#c0392e" stroke-width="1.9"/>
<circle cx="914.4" cy="2036.5" r="3.4" fill="#fff" stroke="#c0392e" stroke-width="1.9"/>
<circle cx="922" cy="2038.2" r="3.4" fill="#fff" stroke="#c0392e" stroke-width="1.9"/>
<circle cx="930.3" cy="2034.8" r="3.4" fill="#fff" stroke="#c0392e" stroke-width="1.9"/>
<circle cx="938.7" cy="2027.2" r="3.4" fill="#fff" stroke="#c0392e" stroke-width="1.9"/>
<circle cx="946.3" cy="1990.3" r="3.4" fill="#fff" stroke="#c0392e" stroke-width="1.9"/>
<circle cx="953.8" cy="1902.2" r="3.4" fill="#fff" stroke="#c0392e" stroke-width="1.9"/>
<circle cx="962.2" cy="1861.1" r="3.4" fill="#fff" stroke="#c0392e" stroke-width="1.9"/>
<circle cx="970.6" cy="1854.4" r="3.4" fill="#fff" stroke="#c0392e" stroke-width="1.9"/>
<circle cx="979" cy="1890.5" r="3.4" fill="#fff" stroke="#c0392e" stroke-width="1.9"/>
<circle cx="986.6" cy="1942.5" r="3.4" fill="#fff" stroke="#c0392e" stroke-width="1.9"/>
<circle cx="995" cy="1957.6" r="3.4" fill="#fff" stroke="#c0392e" stroke-width="1.9"/>
<circle cx="1002.5" cy="1992" r="3.4" fill="#fff" stroke="#c0392e" stroke-width="1.9"/>
<circle cx="1010.9" cy="2006.3" r="3.4" fill="#fff" stroke="#c0392e" stroke-width="1.9"/>
<circle cx="1018.4" cy="2006.3" r="3.4" fill="#fff" stroke="#c0392e" stroke-width="1.9"/>
<circle cx="1026.8" cy="2014.7" r="3.4" fill="#fff" stroke="#c0392e" stroke-width="1.9"/>
<circle cx="1035.2" cy="2017.2" r="3.4" fill="#fff" stroke="#c0392e" stroke-width="1.9"/>
<circle cx="1042.8" cy="2018.9" r="3.4" fill="#fff" stroke="#c0392e" stroke-width="1.9"/>
<circle cx="1051.2" cy="1996.2" r="3.4" fill="#fff" stroke="#c0392e" stroke-width="1.9"/>
<circle cx="1057.9" cy="1924" r="3.4" fill="#fff" stroke="#c0392e" stroke-width="1.9"/>
<circle cx="1066.3" cy="1877.9" r="3.4" fill="#fff" stroke="#c0392e" stroke-width="1.9"/>
<circle cx="1074.7" cy="1858.6" r="3.4" fill="#fff" stroke="#c0392e" stroke-width="1.9"/>
<circle cx="1083.1" cy="1893.8" r="3.4" fill="#fff" stroke="#c0392e" stroke-width="1.9"/>
<circle cx="1091.2" cy="1943.2" r="3.4" fill="#fff" stroke="#c0392e" stroke-width="1.9"/>
<circle cx="1099.2" cy="1964.9" r="3.4" fill="#fff" stroke="#c0392e" stroke-width="1.9"/>
<circle cx="1107.2" cy="1992.9" r="3.4" fill="#fff" stroke="#c0392e" stroke-width="1.9"/>
<circle cx="1114.9" cy="2004.9" r="3.4" fill="#fff" stroke="#c0392e" stroke-width="1.9"/>
<circle cx="1122.9" cy="2019.3" r="3.4" fill="#fff" stroke="#c0392e" stroke-width="1.9"/>
<circle cx="1130.9" cy="2012.9" r="3.4" fill="#fff" stroke="#c0392e" stroke-width="1.9"/>
<circle cx="1138.9" cy="2028.1" r="3.4" fill="#fff" stroke="#c0392e" stroke-width="1.9"/>
<circle cx="1147" cy="2037.8" r="3.4" fill="#fff" stroke="#c0392e" stroke-width="1.9"/>
<circle cx="1155" cy="2030.5" r="3.4" fill="#fff" stroke="#c0392e" stroke-width="1.9"/>
<circle cx="1163" cy="2028.1" r="3.4" fill="#fff" stroke="#c0392e" stroke-width="1.9"/>
<circle cx="1171" cy="2029.7" r="3.4" fill="#fff" stroke="#c0392e" stroke-width="1.9"/>
<circle cx="1179" cy="2034.6" r="3.4" fill="#fff" stroke="#c0392e" stroke-width="1.9"/>
<circle cx="1187" cy="2035.4" r="3.4" fill="#fff" stroke="#c0392e" stroke-width="1.9"/>
<circle cx="1195" cy="2037.8" r="3.4" fill="#fff" stroke="#c0392e" stroke-width="1.9"/>
<circle cx="1203" cy="2042.6" r="3.4" fill="#fff" stroke="#c0392e" stroke-width="1.9"/>
<circle cx="1211" cy="2038.6" r="3.4" fill="#fff" stroke="#c0392e" stroke-width="1.9"/>
<circle cx="1219" cy="2036.2" r="3.4" fill="#fff" stroke="#c0392e" stroke-width="1.9"/>
<circle cx="1227" cy="2041.8" r="3.4" fill="#fff" stroke="#c0392e" stroke-width="1.9"/>
<circle cx="1235" cy="2037" r="3.4" fill="#fff" stroke="#c0392e" stroke-width="1.9"/>
<circle cx="1243" cy="2036.2" r="3.4" fill="#fff" stroke="#c0392e" stroke-width="1.9"/>
<circle cx="1251.1" cy="2033" r="3.4" fill="#fff" stroke="#c0392e" stroke-width="1.9"/>
<circle cx="1259.1" cy="2037.8" r="3.4" fill="#fff" stroke="#c0392e" stroke-width="1.9"/>
<circle cx="1267.1" cy="2034.6" r="3.4" fill="#fff" stroke="#c0392e" stroke-width="1.9"/>
<circle cx="1275.1" cy="2041" r="3.4" fill="#fff" stroke="#c0392e" stroke-width="1.9"/>
</g>
<path d="M883.4 2032.64 L884.4 2032.61 L885.4 2032.57 L886.4 2032.53 L887.4 2032.49 L888.4 2032.45 L889.4 2032.41 L890.4 2032.36 L891.4 2032.31 L892.4 2032.26 L893.4 2032.21 L894.4 2032.15 L895.4 2032.1 L896.4 2032.04 L897.4 2031.97 L898.4 2031.91 L899.4 2031.84 L900.4 2031.76 L901.4 2031.69 L902.4 2031.6 L903.4 2031.52 L904.4 2031.43 L905.4 2031.33 L906.4 2031.23 L907.4 2031.13 L908.4 2031.02 L909.4 2030.9 L910.4 2030.77 L911.4 2030.63 L912.4 2030.49 L913.4 2030.33 L914.4 2030.16 L915.4 2029.98 L916.4 2029.78 L917.4 2029.56 L918.4 2029.32 L919.4 2029.05 L920.4 2028.76 L921.4 2028.43 L922.4 2028.06 L923.4 2027.66 L924.4 2027.2 L925.4 2026.68 L926.4 2026.09 L927.4 2025.44 L928.4 2024.69 L929.4 2023.85 L930.4 2022.91 L931.4 2021.84 L932.4 2020.64 L933.4 2019.28 L934.4 2017.77 L935.4 2016.07 L936.4 2014.18 L937.4 2012.07 L938.4 2009.74 L939.4 2007.16 L940.4 2004.32 L941.4 2001.22 L942.4 1997.82 L943.4 1994.13 L944.4 1990.14 L945.4 1985.85 L946.4 1981.24 L947.4 1976.34 L948.4 1971.13 L949.4 1965.64 L950.4 1959.88 L951.4 1953.87 L952.4 1947.65 L953.4 1941.23 L954.4 1934.66 L955.4 1927.99 L956.4 1921.27 L957.4 1914.55 L958.4 1907.9 L959.4 1901.38 L960.4 1895.08 L961.4 1889.07 L962.4 1883.43 L963.4 1878.26 L964.4 1873.63 L965.4 1869.64 L966.4 1866.35 L967.4 1863.84 L968.4 1862.16 L969.4 1861.36 L970.4 1861.43 L971.4 1862.4 L972.4 1864.22 L973.4 1866.87 L974.4 1870.28 L975.4 1874.38 L976.4 1879.1 L977.4 1884.35 L978.4 1890.05 L979.4 1896.1 L980.4 1902.43 L981.4 1908.95 L982.4 1915.59 L983.4 1922.29 L984.4 1928.98 L985.4 1935.6 L986.4 1942.11 L987.4 1948.46 L988.4 1954.62 L989.4 1960.55 L990.4 1966.22 L991.4 1971.62 L992.4 1976.73 L993.4 1981.54 L994.4 1986.04 L995.4 1990.23 L996.4 1994.11 L997.4 1997.7 L998.4 2000.99 L999.4 2003.99 L1000.4 2006.72 L1001.4 2009.19 L1002.4 2011.42 L1003.4 2013.42 L1004.4 2015.21 L1005.4 2016.8 L1006.4 2018.21 L1007.4 2019.46 L1008.4 2020.55 L1009.4 2021.51 L1010.4 2022.35 L1011.4 2023.07 L1012.4 2023.7 L1013.4 2024.23 L1014.4 2024.69 L1015.4 2025.07 L1016.4 2025.38 L1017.4 2025.64 L1018.4 2025.84 L1019.4 2025.99 L1020.4 2026.09 L1021.4 2026.15 L1022.4 2026.15 L1023.4 2026.12 L1024.4 2026.03 L1025.4 2025.9 L1026.4 2025.71 L1027.4 2025.47 L1028.4 2025.17 L1029.4 2024.79 L1030.4 2024.35 L1031.4 2023.82 L1032.4 2023.19 L1033.4 2022.47 L1034.4 2021.63 L1035.4 2020.66 L1036.4 2019.55 L1037.4 2018.29 L1038.4 2016.86 L1039.4 2015.24 L1040.4 2013.42 L1041.4 2011.38 L1042.4 2009.1 L1043.4 2006.58 L1044.4 2003.79 L1045.4 2000.72 L1046.4 1997.37 L1047.4 1993.71 L1048.4 1989.75 L1049.4 1985.47 L1050.4 1980.88 L1051.4 1975.98 L1052.4 1970.78 L1053.4 1965.29 L1054.4 1959.53 L1055.4 1953.51 L1056.4 1947.27 L1057.4 1940.83 L1058.4 1934.25 L1059.4 1927.56 L1060.4 1920.81 L1061.4 1914.07 L1062.4 1907.39 L1063.4 1900.85 L1064.4 1894.53 L1065.4 1888.5 L1066.4 1882.85 L1067.4 1877.67 L1068.4 1873.04 L1069.4 1869.05 L1070.4 1865.78 L1071.4 1863.29 L1072.4 1861.65 L1073.4 1860.88 L1074.4 1861.01 L1075.4 1862.04 L1076.4 1863.94 L1077.4 1866.68 L1078.4 1870.19 L1079.4 1874.4 L1080.4 1879.23 L1081.4 1884.6 L1082.4 1890.42 L1083.4 1896.6 L1084.4 1903.07 L1085.4 1909.73 L1086.4 1916.51 L1087.4 1923.35 L1088.4 1930.18 L1089.4 1936.95 L1090.4 1943.6 L1091.4 1950.1 L1092.4 1956.39 L1093.4 1962.46 L1094.4 1968.27 L1095.4 1973.8 L1096.4 1979.04 L1097.4 1983.98 L1098.4 1988.61 L1099.4 1992.93 L1100.4 1996.94 L1101.4 2000.64 L1102.4 2004.05 L1103.4 2007.18 L1104.4 2010.03 L1105.4 2012.62 L1106.4 2014.97 L1107.4 2017.09 L1108.4 2018.99 L1109.4 2020.7 L1110.4 2022.24 L1111.4 2023.61 L1112.4 2024.83 L1113.4 2025.91 L1114.4 2026.88 L1115.4 2027.74 L1116.4 2028.51 L1117.4 2029.19 L1118.4 2029.8 L1119.4 2030.35 L1120.4 2030.83 L1121.4 2031.27 L1122.4 2031.66 L1123.4 2032.02 L1124.4 2032.35 L1125.4 2032.64 L1126.4 2032.91 L1127.4 2033.16 L1128.4 2033.39 L1129.4 2033.61 L1130.4 2033.81 L1131.4 2034 L1132.4 2034.18 L1133.4 2034.34 L1134.4 2034.5 L1135.4 2034.65 L1136.4 2034.8 L1137.4 2034.94 L1138.4 2035.07 L1139.4 2035.2 L1140.4 2035.32 L1141.4 2035.44 L1142.4 2035.55 L1143.4 2035.66 L1144.4 2035.76 L1145.4 2035.87 L1146.4 2035.97 L1147.4 2036.06 L1148.4 2036.16 L1149.4 2036.25 L1150.4 2036.33 L1151.4 2036.42 L1152.4 2036.5 L1153.4 2036.58 L1154.4 2036.66 L1155.4 2036.74 L1156.4 2036.81 L1157.4 2036.88 L1158.4 2036.95 L1159.4 2037.02 L1160.4 2037.09 L1161.4 2037.16 L1162.4 2037.22 L1163.4 2037.28 L1164.4 2037.35 L1165.4 2037.41 L1166.4 2037.46 L1167.4 2037.52 L1168.4 2037.58 L1169.4 2037.63 L1170.4 2037.69 L1171.4 2037.74 L1172.4 2037.79 L1173.4 2037.84 L1174.4 2037.89 L1175.4 2037.94 L1176.4 2037.99 L1177.4 2038.04 L1178.4 2038.09 L1179.4 2038.13 L1180.4 2038.18 L1181.4 2038.22 L1182.4 2038.27 L1183.4 2038.31 L1184.4 2038.35 L1185.4 2038.39 L1186.4 2038.43 L1187.4 2038.47 L1188.4 2038.51 L1189.4 2038.55 L1190.4 2038.59 L1191.4 2038.63 L1192.4 2038.67 L1193.4 2038.71 L1194.4 2038.74 L1195.4 2038.78 L1196.4 2038.81 L1197.4 2038.85 L1198.4 2038.88 L1199.4 2038.92 L1200.4 2038.95 L1201.4 2038.99 L1202.4 2039.02 L1203.4 2039.05 L1204.4 2039.09 L1205.4 2039.12 L1206.4 2039.15 L1207.4 2039.18 L1208.4 2039.21 L1209.4 2039.25 L1210.4 2039.28 L1211.4 2039.31 L1212.4 2039.34 L1213.4 2039.37 L1214.4 2039.4 L1215.4 2039.43 L1216.4 2039.45 L1217.4 2039.48 L1218.4 2039.51 L1219.4 2039.54 L1220.4 2039.57 L1221.4 2039.6 L1222.4 2039.62 L1223.4 2039.65 L1224.4 2039.68 L1225.4 2039.71 L1226.4 2039.73 L1227.4 2039.76 L1228.4 2039.79 L1229.4 2039.81 L1230.4 2039.84 L1231.4 2039.87 L1232.4 2039.89 L1233.4 2039.92 L1234.4 2039.94 L1235.4 2039.97 L1236.4 2039.99 L1237.4 2040.02 L1238.4 2040.04 L1239.4 2040.07 L1240.4 2040.09 L1241.4 2040.12 L1242.4 2040.14 L1243.4 2040.17 L1244.4 2040.19 L1245.4 2040.21 L1246.4 2040.24 L1247.4 2040.26 L1248.4 2040.28 L1249.4 2040.31 L1250.4 2040.33 L1251.4 2040.35 L1252.4 2040.38 L1253.4 2040.4 L1254.4 2040.42 L1255.4 2040.45 L1256.4 2040.47 L1257.4 2040.49 L1258.4 2040.51 L1259.4 2040.54 L1260.4 2040.56 L1261.4 2040.58 L1262.4 2040.6 L1263.4 2040.62 L1264.4 2040.65 L1265.4 2040.67 L1266.4 2040.69 L1267.4 2040.71 L1268.4 2040.73 L1269.4 2040.76 L1270.4 2040.78 L1271.4 2040.8 L1272.4 2040.82 L1273.4 2040.84 L1274.4 2040.86 L1275.4 2040.88 L1276.4 2040.9 L1277.4 2040.93 L1278.4 2040.95 L1279.4 2040.97 L1280.4 2040.99 L1281.4 2041.01 L1282.4 2041.03 L1283.4 2041.05" fill="none" stroke="#1a1a1a" stroke-width="2.4" stroke-linejoin="round" clip-path="url(#clip_d2)"/>
<path d="M884.4 2032.7 L885.4 2032.67 L886.4 2032.63 L887.4 2032.59 L888.4 2032.55 L889.4 2032.51 L890.4 2032.47 L891.4 2032.42 L892.4 2032.38 L893.4 2032.33 L894.4 2032.27 L895.4 2032.22 L896.4 2032.16 L897.4 2032.1 L898.4 2032.04 L899.4 2031.97 L900.4 2031.9 L901.4 2031.83 L902.4 2031.75 L903.4 2031.67 L904.4 2031.58 L905.4 2031.49 L906.4 2031.39 L907.4 2031.29 L908.4 2031.17 L909.4 2031.05 L910.4 2030.93 L911.4 2030.79 L912.4 2030.64 L913.4 2030.48 L914.4 2030.3 L915.4 2030.1 L916.4 2029.89 L917.4 2029.66 L918.4 2029.4 L919.4 2029.11 L920.4 2028.79 L921.4 2028.43 L922.4 2028.03 L923.4 2027.58 L924.4 2027.07 L925.4 2026.51 L926.4 2025.87 L927.4 2025.16 L928.4 2024.37 L929.4 2023.47 L930.4 2022.47 L931.4 2021.36 L932.4 2020.11 L933.4 2018.73 L934.4 2017.19 L935.4 2015.49 L936.4 2013.62 L937.4 2011.56 L938.4 2009.3 L939.4 2006.83 L940.4 2004.15 L941.4 2001.24 L942.4 1998.1 L943.4 1994.73 L944.4 1991.12 L945.4 1987.27 L946.4 1983.19 L947.4 1978.88 L948.4 1974.35 L949.4 1969.61 L950.4 1964.69 L951.4 1959.59 L952.4 1954.35 L953.4 1949 L954.4 1943.55 L955.4 1938.06 L956.4 1932.57 L957.4 1927.1 L958.4 1921.73 L959.4 1916.5 L960.4 1911.47 L961.4 1906.69 L962.4 1902.24 L963.4 1898.16 L964.4 1894.54 L965.4 1891.42 L966.4 1888.86 L967.4 1886.91 L968.4 1885.61 L969.4 1884.99 L970.4 1885.04 L971.4 1885.79 L972.4 1887.2 L973.4 1889.25 L974.4 1891.91 L975.4 1895.11 L976.4 1898.81 L977.4 1902.94 L978.4 1907.44 L979.4 1912.25 L980.4 1917.31 L981.4 1922.55 L982.4 1927.92 L983.4 1933.36 L984.4 1938.84 L985.4 1944.3 L986.4 1949.7 L987.4 1955.01 L988.4 1960.19 L989.4 1965.22 L990.4 1970.08 L991.4 1974.74 L992.4 1979.19 L993.4 1983.42 L994.4 1987.42 L995.4 1991.18 L996.4 1994.7 L997.4 1997.99 L998.4 2001.03 L999.4 2003.85 L1000.4 2006.44 L1001.4 2008.81 L1002.4 2010.97 L1003.4 2012.93 L1004.4 2014.71 L1005.4 2016.31 L1006.4 2017.75 L1007.4 2019.03 L1008.4 2020.17 L1009.4 2021.18 L1010.4 2022.07 L1011.4 2022.85 L1012.4 2023.53 L1013.4 2024.12 L1014.4 2024.62 L1015.4 2025.04 L1016.4 2025.4 L1017.4 2025.68 L1018.4 2025.91 L1019.4 2026.08 L1020.4 2026.19 L1021.4 2026.25 L1022.4 2026.26 L1023.4 2026.21 L1024.4 2026.11 L1025.4 2025.95 L1026.4 2025.73 L1027.4 2025.45 L1028.4 2025.1 L1029.4 2024.68 L1030.4 2024.18 L1031.4 2023.59 L1032.4 2022.91 L1033.4 2022.12 L1034.4 2021.22 L1035.4 2020.19 L1036.4 2019.03 L1037.4 2017.72 L1038.4 2016.26 L1039.4 2014.62 L1040.4 2012.8 L1041.4 2010.79 L1042.4 2008.57 L1043.4 2006.14 L1044.4 2003.49 L1045.4 2000.6 L1046.4 1997.48 L1047.4 1994.12 L1048.4 1990.51 L1049.4 1986.66 L1050.4 1982.57 L1051.4 1978.24 L1052.4 1973.69 L1053.4 1968.93 L1054.4 1963.97 L1055.4 1958.84 L1056.4 1953.56 L1057.4 1948.16 L1058.4 1942.68 L1059.4 1937.14 L1060.4 1931.59 L1061.4 1926.09 L1062.4 1920.67 L1063.4 1915.39 L1064.4 1910.31 L1065.4 1905.5 L1066.4 1901.01 L1067.4 1896.92 L1068.4 1893.28 L1069.4 1890.15 L1070.4 1887.6 L1071.4 1885.67 L1072.4 1884.39 L1073.4 1883.81 L1074.4 1883.92 L1075.4 1884.73 L1076.4 1886.22 L1077.4 1888.36 L1078.4 1891.12 L1079.4 1894.44 L1080.4 1898.26 L1081.4 1902.52 L1082.4 1907.17 L1083.4 1912.12 L1084.4 1917.33 L1085.4 1922.72 L1086.4 1928.25 L1087.4 1933.86 L1088.4 1939.5 L1089.4 1945.12 L1090.4 1950.68 L1091.4 1956.15 L1092.4 1961.5 L1093.4 1966.69 L1094.4 1971.7 L1095.4 1976.52 L1096.4 1981.12 L1097.4 1985.5 L1098.4 1989.65 L1099.4 1993.55 L1100.4 1997.21 L1101.4 2000.64 L1102.4 2003.82 L1103.4 2006.77 L1104.4 2009.49 L1105.4 2011.99 L1106.4 2014.28 L1107.4 2016.37 L1108.4 2018.28 L1109.4 2020.01 L1110.4 2021.57 L1111.4 2022.99 L1112.4 2024.26 L1113.4 2025.41 L1114.4 2026.43 L1115.4 2027.36 L1116.4 2028.18 L1117.4 2028.92 L1118.4 2029.59 L1119.4 2030.18 L1120.4 2030.71 L1121.4 2031.19 L1122.4 2031.63 L1123.4 2032.02 L1124.4 2032.37 L1125.4 2032.69 L1126.4 2032.98 L1127.4 2033.25 L1128.4 2033.49 L1129.4 2033.72 L1130.4 2033.93 L1131.4 2034.13 L1132.4 2034.31 L1133.4 2034.48 L1134.4 2034.64 L1135.4 2034.79 L1136.4 2034.94 L1137.4 2035.07 L1138.4 2035.2 L1139.4 2035.33 L1140.4 2035.45 L1141.4 2035.56 L1142.4 2035.68 L1143.4 2035.78 L1144.4 2035.89 L1145.4 2035.99 L1146.4 2036.08 L1147.4 2036.17 L1148.4 2036.26 L1149.4 2036.35 L1150.4 2036.44 L1151.4 2036.52 L1152.4 2036.6 L1153.4 2036.68 L1154.4 2036.76 L1155.4 2036.83 L1156.4 2036.9 L1157.4 2036.97 L1158.4 2037.04 L1159.4 2037.11 L1160.4 2037.17 L1161.4 2037.24 L1162.4 2037.3 L1163.4 2037.36 L1164.4 2037.42 L1165.4 2037.48 L1166.4 2037.54 L1167.4 2037.59 L1168.4 2037.65 L1169.4 2037.7 L1170.4 2037.75 L1171.4 2037.81 L1172.4 2037.86 L1173.4 2037.91 L1174.4 2037.96 L1175.4 2038 L1176.4 2038.05 L1177.4 2038.1 L1178.4 2038.14 L1179.4 2038.19 L1180.4 2038.23 L1181.4 2038.28 L1182.4 2038.32 L1183.4 2038.36 L1184.4 2038.4 L1185.4 2038.44 L1186.4 2038.48 L1187.4 2038.52 L1188.4 2038.56 L1189.4 2038.6 L1190.4 2038.64 L1191.4 2038.68 L1192.4 2038.71 L1193.4 2038.75 L1194.4 2038.79 L1195.4 2038.82 L1196.4 2038.86 L1197.4 2038.89 L1198.4 2038.93 L1199.4 2038.96 L1200.4 2038.99 L1201.4 2039.03 L1202.4 2039.06 L1203.4 2039.09 L1204.4 2039.12 L1205.4 2039.16 L1206.4 2039.19 L1207.4 2039.22 L1208.4 2039.25 L1209.4 2039.28 L1210.4 2039.31 L1211.4 2039.34 L1212.4 2039.37 L1213.4 2039.4 L1214.4 2039.43 L1215.4 2039.46 L1216.4 2039.49 L1217.4 2039.52 L1218.4 2039.54 L1219.4 2039.57 L1220.4 2039.6 L1221.4 2039.63 L1222.4 2039.65 L1223.4 2039.68 L1224.4 2039.71 L1225.4 2039.74 L1226.4 2039.76 L1227.4 2039.79 L1228.4 2039.81 L1229.4 2039.84 L1230.4 2039.87 L1231.4 2039.89 L1232.4 2039.92 L1233.4 2039.94 L1234.4 2039.97 L1235.4 2039.99 L1236.4 2040.02 L1237.4 2040.04 L1238.4 2040.07 L1239.4 2040.09 L1240.4 2040.12 L1241.4 2040.14 L1242.4 2040.16 L1243.4 2040.19 L1244.4 2040.21 L1245.4 2040.24 L1246.4 2040.26 L1247.4 2040.28 L1248.4 2040.31 L1249.4 2040.33 L1250.4 2040.35 L1251.4 2040.38 L1252.4 2040.4 L1253.4 2040.42 L1254.4 2040.44 L1255.4 2040.47 L1256.4 2040.49 L1257.4 2040.51 L1258.4 2040.53 L1259.4 2040.56 L1260.4 2040.58 L1261.4 2040.6 L1262.4 2040.62 L1263.4 2040.64 L1264.4 2040.67 L1265.4 2040.69 L1266.4 2040.71 L1267.4 2040.73 L1268.4 2040.75 L1269.4 2040.77 L1270.4 2040.8 L1271.4 2040.82 L1272.4 2040.84 L1273.4 2040.86 L1274.4 2040.88 L1275.4 2040.9 L1276.4 2040.92 L1277.4 2040.94 L1278.4 2040.96 L1279.4 2040.98 L1280.4 2041 L1281.4 2041.03 L1282.4 2041.05" fill="none" stroke="#30a84e" stroke-width="6.4" stroke-linejoin="round" stroke-dasharray="2 9.9" stroke-linecap="round" clip-path="url(#clip_d2)"/>
<rect x="883.4" y="1064.2" width="400.2" height="987.4" fill="none" stroke="#231f20" stroke-width="2.3"/>
<line x1="883.4" y1="1394.5" x2="1283.6" y2="1394.5" stroke="#231f20" stroke-width="2.3"/>
<line x1="883.4" y1="1722.6" x2="1283.6" y2="1722.6" stroke="#231f20" stroke-width="2.3"/>
<line x1="883.4" y1="1322.7" x2="891.9" y2="1322.7" stroke="#231f20" stroke-width="2.2"/>
<line x1="1283.6" y1="1322.7" x2="1275.1" y2="1322.7" stroke="#231f20" stroke-width="2.2"/>
<line x1="883.4" y1="1250.89" x2="891.9" y2="1250.89" stroke="#231f20" stroke-width="2.2"/>
<line x1="1283.6" y1="1250.89" x2="1275.1" y2="1250.89" stroke="#231f20" stroke-width="2.2"/>
<line x1="883.4" y1="1179.09" x2="891.9" y2="1179.09" stroke="#231f20" stroke-width="2.2"/>
<line x1="1283.6" y1="1179.09" x2="1275.1" y2="1179.09" stroke="#231f20" stroke-width="2.2"/>
<line x1="883.4" y1="1107.28" x2="891.9" y2="1107.28" stroke="#231f20" stroke-width="2.2"/>
<line x1="1283.6" y1="1107.28" x2="1275.1" y2="1107.28" stroke="#231f20" stroke-width="2.2"/>
<line x1="984" y1="1394.5" x2="984" y2="1386" stroke="#231f20" stroke-width="2.2"/>
<line x1="984" y1="1064.2" x2="984" y2="1072.7" stroke="#231f20" stroke-width="2.2"/>
<line x1="1083.6" y1="1394.5" x2="1083.6" y2="1386" stroke="#231f20" stroke-width="2.2"/>
<line x1="1083.6" y1="1064.2" x2="1083.6" y2="1072.7" stroke="#231f20" stroke-width="2.2"/>
<line x1="1183" y1="1394.5" x2="1183" y2="1386" stroke="#231f20" stroke-width="2.2"/>
<line x1="1183" y1="1064.2" x2="1183" y2="1072.7" stroke="#231f20" stroke-width="2.2"/>
<text x="869" y="1117.27" font-size="29.3" fill="#231f20" text-anchor="end">40</text>
<text x="869" y="1189.08" font-size="29.3" fill="#231f20" text-anchor="end">30</text>
<text x="869" y="1260.88" font-size="29.3" fill="#231f20" text-anchor="end">20</text>
<text x="869" y="1332.69" font-size="29.3" fill="#231f20" text-anchor="end">10</text>
<text x="869" y="1404.49" font-size="29.3" fill="#231f20" text-anchor="end">0</text>
<text transform="translate(810.8 1229.35) rotate(-90)" text-anchor="middle" font-size="29.3" fill="#231f20">Intensity (a.u)</text>
<line x1="883.4" y1="1651.27" x2="891.9" y2="1651.27" stroke="#231f20" stroke-width="2.2"/>
<line x1="1283.6" y1="1651.27" x2="1275.1" y2="1651.27" stroke="#231f20" stroke-width="2.2"/>
<line x1="883.4" y1="1579.95" x2="891.9" y2="1579.95" stroke="#231f20" stroke-width="2.2"/>
<line x1="1283.6" y1="1579.95" x2="1275.1" y2="1579.95" stroke="#231f20" stroke-width="2.2"/>
<line x1="883.4" y1="1508.62" x2="891.9" y2="1508.62" stroke="#231f20" stroke-width="2.2"/>
<line x1="1283.6" y1="1508.62" x2="1275.1" y2="1508.62" stroke="#231f20" stroke-width="2.2"/>
<line x1="883.4" y1="1437.3" x2="891.9" y2="1437.3" stroke="#231f20" stroke-width="2.2"/>
<line x1="1283.6" y1="1437.3" x2="1275.1" y2="1437.3" stroke="#231f20" stroke-width="2.2"/>
<line x1="984" y1="1722.6" x2="984" y2="1714.1" stroke="#231f20" stroke-width="2.2"/>
<line x1="984" y1="1394.5" x2="984" y2="1403" stroke="#231f20" stroke-width="2.2"/>
<line x1="1083.6" y1="1722.6" x2="1083.6" y2="1714.1" stroke="#231f20" stroke-width="2.2"/>
<line x1="1083.6" y1="1394.5" x2="1083.6" y2="1403" stroke="#231f20" stroke-width="2.2"/>
<line x1="1183" y1="1722.6" x2="1183" y2="1714.1" stroke="#231f20" stroke-width="2.2"/>
<line x1="1183" y1="1394.5" x2="1183" y2="1403" stroke="#231f20" stroke-width="2.2"/>
<text x="869" y="1447.29" font-size="29.3" fill="#231f20" text-anchor="end">40</text>
<text x="869" y="1518.61" font-size="29.3" fill="#231f20" text-anchor="end">30</text>
<text x="869" y="1589.94" font-size="29.3" fill="#231f20" text-anchor="end">20</text>
<text x="869" y="1661.26" font-size="29.3" fill="#231f20" text-anchor="end">10</text>
<text x="869" y="1732.59" font-size="29.3" fill="#231f20" text-anchor="end">0</text>
<text transform="translate(810.8 1558.55) rotate(-90)" text-anchor="middle" font-size="29.3" fill="#231f20">Intensity (a.u)</text>
<line x1="883.4" y1="1980.08" x2="891.9" y2="1980.08" stroke="#231f20" stroke-width="2.2"/>
<line x1="1283.6" y1="1980.08" x2="1275.1" y2="1980.08" stroke="#231f20" stroke-width="2.2"/>
<line x1="883.4" y1="1908.56" x2="891.9" y2="1908.56" stroke="#231f20" stroke-width="2.2"/>
<line x1="1283.6" y1="1908.56" x2="1275.1" y2="1908.56" stroke="#231f20" stroke-width="2.2"/>
<line x1="883.4" y1="1837.03" x2="891.9" y2="1837.03" stroke="#231f20" stroke-width="2.2"/>
<line x1="1283.6" y1="1837.03" x2="1275.1" y2="1837.03" stroke="#231f20" stroke-width="2.2"/>
<line x1="883.4" y1="1765.51" x2="891.9" y2="1765.51" stroke="#231f20" stroke-width="2.2"/>
<line x1="1283.6" y1="1765.51" x2="1275.1" y2="1765.51" stroke="#231f20" stroke-width="2.2"/>
<line x1="984" y1="2051.6" x2="984" y2="2043.1" stroke="#231f20" stroke-width="2.2"/>
<line x1="984" y1="1722.6" x2="984" y2="1731.1" stroke="#231f20" stroke-width="2.2"/>
<line x1="1083.6" y1="2051.6" x2="1083.6" y2="2043.1" stroke="#231f20" stroke-width="2.2"/>
<line x1="1083.6" y1="1722.6" x2="1083.6" y2="1731.1" stroke="#231f20" stroke-width="2.2"/>
<line x1="1183" y1="2051.6" x2="1183" y2="2043.1" stroke="#231f20" stroke-width="2.2"/>
<line x1="1183" y1="1722.6" x2="1183" y2="1731.1" stroke="#231f20" stroke-width="2.2"/>
<text x="869" y="1775.5" font-size="29.3" fill="#231f20" text-anchor="end">40</text>
<text x="869" y="1847.02" font-size="29.3" fill="#231f20" text-anchor="end">30</text>
<text x="869" y="1918.55" font-size="29.3" fill="#231f20" text-anchor="end">20</text>
<text x="869" y="1990.07" font-size="29.3" fill="#231f20" text-anchor="end">10</text>
<text x="869" y="2061.59" font-size="29.3" fill="#231f20" text-anchor="end">0</text>
<text transform="translate(810.8 1887.1) rotate(-90)" text-anchor="middle" font-size="29.3" fill="#231f20">Intensity (a.u)</text>
<text x="882.4" y="2088.89" font-size="29.3" fill="#231f20" text-anchor="middle">4.50</text>
<text x="1082.9" y="2088.89" font-size="29.3" fill="#231f20" text-anchor="middle">4.60</text>
<text x="1282.1" y="2088.89" font-size="29.3" fill="#231f20" text-anchor="middle">4.70</text>
<text x="1050.4" y="2135" font-size="29.3" fill="#231f20" font-style="italic">d</text>
<text x="1073" y="2135" font-size="29.3" fill="#231f20">(Å)</text>
<path d="M441.4 1082.6 Q418 1113.7 441.4 1144.8 L442.3 1144.2 Q422.4 1113.7 442.3 1083.2 Z" fill="#231f20"/>
<path d="M520.5 1082.6 Q543.9 1113.7 520.5 1144.8 L519.6 1144.2 Q539.5 1113.7 519.6 1083.2 Z" fill="#231f20"/>
<rect x="443" y="1112.8" width="13.6" height="1.4" fill="#231f20"/>
<text x="449.8" y="1106.6" font-size="19.3" fill="#231f20" text-anchor="middle">1</text>
<text x="449.8" y="1135.1" font-size="19.3" fill="#231f20" text-anchor="middle">2</text>
<rect x="474.2" y="1112.8" width="13.5" height="1.4" fill="#231f20"/>
<text x="480.95" y="1106.6" font-size="19.3" fill="#231f20" text-anchor="middle">1</text>
<text x="480.95" y="1135.1" font-size="19.3" fill="#231f20" text-anchor="middle">2</text>
<rect x="505.6" y="1112.8" width="13.6" height="1.4" fill="#231f20"/>
<text x="512.4" y="1106.6" font-size="19.3" fill="#231f20" text-anchor="middle">1</text>
<text x="512.4" y="1135.1" font-size="19.3" fill="#231f20" text-anchor="middle">2</text>
<text x="460.3" y="1118.5" font-size="19.3" fill="#231f20">,</text>
<text x="491.8" y="1118.5" font-size="19.3" fill="#231f20">,</text>
<text x="538.3" y="1118.6" font-size="21.3" fill="#231f20">±</text>
<text x="550.8" y="1118.6" font-size="21.3" fill="#231f20" font-weight="bold">k</text>
<path d="M447.9 1414.1 Q424.5 1444.9 447.9 1475.7 L448.8 1475.1 Q428.9 1444.9 448.8 1414.7 Z" fill="#231f20"/>
<path d="M526.6 1414.1 Q550 1444.9 526.6 1475.7 L525.7 1475.1 Q545.6 1444.9 525.7 1414.7 Z" fill="#231f20"/>
<rect x="449.6" y="1444.1" width="13.4" height="1.4" fill="#231f20"/>
<text x="456.3" y="1437.4" font-size="19.3" fill="#231f20" text-anchor="middle">1</text>
<text x="456.3" y="1466.6" font-size="19.3" fill="#231f20" text-anchor="middle">2</text>
<rect x="481.2" y="1444.1" width="13.7" height="1.4" fill="#231f20"/>
<text x="488.05" y="1437.4" font-size="19.3" fill="#231f20" text-anchor="middle">1</text>
<text x="488.05" y="1466.6" font-size="19.3" fill="#231f20" text-anchor="middle">2</text>
<rect x="512.3" y="1444.1" width="13.4" height="1.4" fill="#231f20"/>
<text x="513.65" y="1437.4" font-size="19.3" fill="#231f20" text-anchor="middle">–1</text>
<text x="519" y="1466.6" font-size="19.3" fill="#231f20" text-anchor="middle">2</text>
<text x="467.1" y="1449.8" font-size="19.3" fill="#231f20">,</text>
<text x="498.6" y="1449.8" font-size="19.3" fill="#231f20">,</text>
<text x="546.1" y="1449.7" font-size="21.3" fill="#231f20">±</text>
<text x="558.5" y="1449.7" font-size="21.3" fill="#231f20" font-weight="bold">k</text>
<path d="M445.9 1754.7 Q421.3 1785.5 445.9 1816.3 L446.8 1815.7 Q425.7 1785.5 446.8 1755.3 Z" fill="#231f20"/>
<path d="M530.9 1754.7 Q554.1 1785.5 530.9 1816.3 L530 1815.7 Q549.7 1785.5 530 1755.3 Z" fill="#231f20"/>
<rect x="450.5" y="1785.1" width="19.4" height="1.4" fill="#231f20"/>
<text x="456.65" y="1778.1" font-size="19.3" fill="#231f20" text-anchor="middle">±1</text>
<text x="460.2" y="1807.2" font-size="19.3" fill="#231f20" text-anchor="middle">2</text>
<rect x="483.5" y="1785.1" width="20.1" height="1.4" fill="#231f20"/>
<text x="477.75" y="1778.1" font-size="19.3" fill="#231f20" transform="translate(0 3544.62) scale(1 -1)">±</text>
<text x="489.02" y="1778.1" font-size="19.3" fill="#231f20">1</text>
<text x="493.55" y="1807.2" font-size="19.3" fill="#231f20" text-anchor="middle">2</text>
<rect x="516.6" y="1785.1" width="15.6" height="1.4" fill="#231f20"/>
<text x="524.4" y="1778.1" font-size="19.3" fill="#231f20" text-anchor="middle">1</text>
<text x="524.4" y="1807.2" font-size="19.3" fill="#231f20" text-anchor="middle">2</text>
<text x="471" y="1790.8" font-size="19.3" fill="#231f20">,</text>
<text x="504.7" y="1790.8" font-size="19.3" fill="#231f20">,</text>
<text x="549.3" y="1788.4" font-size="21.3" fill="#231f20">±</text>
<text x="561.8" y="1788.4" font-size="21.3" fill="#231f20" font-weight="bold">k</text>
<path d="M1139.5 1082.4 Q1116.1 1112.95 1139.5 1143.5 L1140.4 1142.9 Q1120.5 1112.95 1140.4 1083 Z" fill="#231f20"/>
<path d="M1218.5 1082.4 Q1243.1 1112.95 1218.5 1143.5 L1217.6 1142.9 Q1238.7 1112.95 1217.6 1083 Z" fill="#231f20"/>
<rect x="1141.3" y="1112.1" width="13.3" height="1.4" fill="#231f20"/>
<text x="1147.95" y="1106.4" font-size="19.3" fill="#231f20" text-anchor="middle">1</text>
<text x="1147.95" y="1134.5" font-size="19.3" fill="#231f20" text-anchor="middle">2</text>
<rect x="1172.5" y="1112.1" width="13.7" height="1.4" fill="#231f20"/>
<text x="1179.35" y="1106.4" font-size="19.3" fill="#231f20" text-anchor="middle">1</text>
<text x="1179.35" y="1134.5" font-size="19.3" fill="#231f20" text-anchor="middle">2</text>
<rect x="1203.8" y="1112.1" width="13.7" height="1.4" fill="#231f20"/>
<text x="1210.65" y="1106.4" font-size="19.3" fill="#231f20" text-anchor="middle">1</text>
<text x="1210.65" y="1134.5" font-size="19.3" fill="#231f20" text-anchor="middle">2</text>
<text x="1158.5" y="1117.8" font-size="19.3" fill="#231f20">,</text>
<text x="1190.2" y="1117.8" font-size="19.3" fill="#231f20">,</text>
<text x="1237.4" y="1115.3" font-size="21.3" fill="#231f20">±</text>
<text x="1250.6" y="1115.3" font-size="21.3" fill="#231f20" font-weight="bold">k</text>
<path d="M1147.1 1413.2 Q1121.7 1443.75 1147.1 1474.3 L1148 1473.7 Q1126.1 1443.75 1148 1413.8 Z" fill="#231f20"/>
<path d="M1225.1 1413.2 Q1248.9 1443.75 1225.1 1474.3 L1224.2 1473.7 Q1244.5 1443.75 1224.2 1413.8 Z" fill="#231f20"/>
<rect x="1148.2" y="1443.4" width="13.3" height="1.4" fill="#231f20"/>
<text x="1154.85" y="1436.6" font-size="19.3" fill="#231f20" text-anchor="middle">1</text>
<text x="1154.85" y="1465.4" font-size="19.3" fill="#231f20" text-anchor="middle">2</text>
<rect x="1179.3" y="1443.4" width="13.1" height="1.4" fill="#231f20"/>
<text x="1185.85" y="1436.6" font-size="19.3" fill="#231f20" text-anchor="middle">1</text>
<text x="1185.85" y="1465.4" font-size="19.3" fill="#231f20" text-anchor="middle">2</text>
<rect x="1210.5" y="1443.4" width="13.2" height="1.4" fill="#231f20"/>
<text x="1211.25" y="1436.6" font-size="19.3" fill="#231f20" text-anchor="middle">–1</text>
<text x="1217.1" y="1465.4" font-size="19.3" fill="#231f20" text-anchor="middle">2</text>
<text x="1165.5" y="1449.1" font-size="19.3" fill="#231f20">,</text>
<text x="1196.4" y="1449.1" font-size="19.3" fill="#231f20">,</text>
<text x="1242.2" y="1447.6" font-size="21.3" fill="#231f20">±</text>
<text x="1255.4" y="1447.6" font-size="21.3" fill="#231f20" font-weight="bold">k</text>
<path d="M1144.3 1753.9 Q1118.3 1784.8 1144.3 1815.7 L1145.2 1815.1 Q1122.7 1784.8 1145.2 1754.5 Z" fill="#231f20"/>
<path d="M1228.8 1753.9 Q1253.4 1784.8 1228.8 1815.7 L1227.9 1815.1 Q1249 1784.8 1227.9 1754.5 Z" fill="#231f20"/>
<rect x="1148.9" y="1784.1" width="19" height="1.4" fill="#231f20"/>
<text x="1155.65" y="1778" font-size="19.3" fill="#231f20" text-anchor="middle">±1</text>
<text x="1158.4" y="1806.8" font-size="19.3" fill="#231f20" text-anchor="middle">2</text>
<rect x="1182.1" y="1784.1" width="19.6" height="1.4" fill="#231f20"/>
<text x="1175.9" y="1778" font-size="19.3" fill="#231f20" transform="translate(0 3544.42) scale(1 -1)">±</text>
<text x="1187.17" y="1778" font-size="19.3" fill="#231f20">1</text>
<text x="1191.9" y="1806.8" font-size="19.3" fill="#231f20" text-anchor="middle">2</text>
<rect x="1215" y="1784.1" width="15.6" height="1.4" fill="#231f20"/>
<text x="1222.8" y="1778" font-size="19.3" fill="#231f20" text-anchor="middle">1</text>
<text x="1222.8" y="1806.8" font-size="19.3" fill="#231f20" text-anchor="middle">2</text>
<text x="1169.6" y="1789.8" font-size="19.3" fill="#231f20">,</text>
<text x="1203.2" y="1789.8" font-size="19.3" fill="#231f20">,</text>
<text x="1247.4" y="1790.3" font-size="21.3" fill="#231f20">±</text>
<text x="1260.2" y="1790.3" font-size="21.3" fill="#231f20" font-weight="bold">k</text>
</svg></body></html>
